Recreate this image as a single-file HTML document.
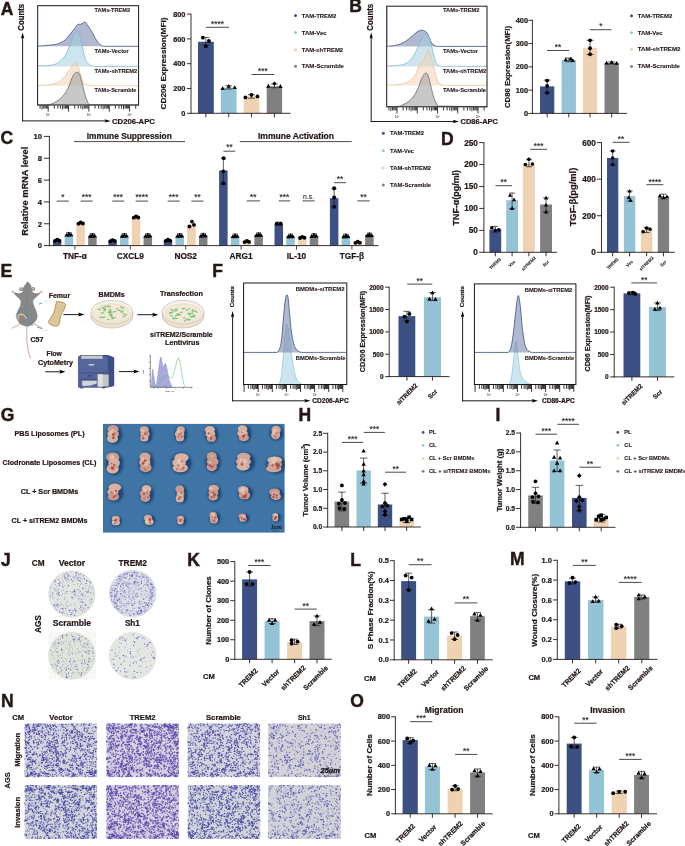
<!DOCTYPE html>
<html lang="en"><head><meta charset="utf-8"><title>Figure</title>
<style>
html,body{margin:0;padding:0;background:#fff}
svg{display:block}
text{font-family:"Liberation Sans",Arial,Helvetica,sans-serif;font-weight:bold;fill:#231815;stroke:#231815;stroke-width:.22px}
text.st{font-weight:normal;stroke-width:.12px}
text.sm{stroke-width:.1px}
text.pl{stroke-width:.45px}
</style></head><body>
<svg width="685" height="846" viewBox="0 0 685 846">
<rect width="685" height="846" fill="#fff"/>
<g id="panelA">
<text x=".7" y="14.86" font-size="17.5" class="pl">A</text>
<rect x="37.6" y="5.7" width="101" height="99.3" fill="#fff"/>
<path d="M38.73 46.12C39.81 46.02 42.84 45.77 45.18 45.55C47.52 45.33 50.56 45.11 52.77 44.79C54.99 44.47 56.41 44.44 58.47 43.65C60.52 42.86 63.05 41.75 65.11 40.05C67.17 38.34 69.22 35.33 70.8 33.4C72.39 31.47 73.49 29.92 74.6 28.47C75.71 27.01 76.34 25.4 77.45 24.67C78.55 23.95 79.98 24.51 81.24 24.1C82.51 23.69 83.93 21.92 85.04 22.21C86.15 22.49 86.78 24.26 87.89 25.81C88.99 27.36 90.26 29.1 91.68 31.51C93.1 33.91 94.84 37.89 96.43 40.24C98.01 42.58 99.59 44.54 101.17 45.55C102.75 46.56 105.12 46.18 105.92 46.31L105.92 46.3L38.73 46.3Z" fill="#6f7fa8" fill-opacity=".55"/>
<path d="M37.6 46.3L38.73 46.12C39.81 46.02 42.84 45.77 45.18 45.55C47.52 45.33 50.56 45.11 52.77 44.79C54.99 44.47 56.41 44.44 58.47 43.65C60.52 42.86 63.05 41.75 65.11 40.05C67.17 38.34 69.22 35.33 70.8 33.4C72.39 31.47 73.49 29.92 74.6 28.47C75.71 27.01 76.34 25.4 77.45 24.67C78.55 23.95 79.98 24.51 81.24 24.1C82.51 23.69 83.93 21.92 85.04 22.21C86.15 22.49 86.78 24.26 87.89 25.81C88.99 27.36 90.26 29.1 91.68 31.51C93.1 33.91 94.84 37.89 96.43 40.24C98.01 42.58 99.59 44.54 101.17 45.55C102.75 46.56 105.12 46.18 105.92 46.31L138.6 46.3" fill="none" stroke="#3c5084" stroke-width=".8" stroke-linejoin="round"/>
<path d="M38.73 65.67C40.44 65.64 46.01 65.83 48.98 65.48C51.95 65.13 54.04 65 56.57 63.58C59.1 62.16 62.26 59.25 64.16 56.94C66.06 54.63 66.53 52.89 67.96 49.72C69.38 46.56 71.28 40.99 72.7 37.96C74.13 34.92 75.33 31.76 76.5 31.51C77.67 31.25 78.62 33.4 79.72 36.44C80.83 39.48 82.1 45.68 83.14 49.72C84.18 53.77 84.72 58.11 85.99 60.73C87.25 63.36 89.15 64.53 90.73 65.48C92.31 66.43 94.69 66.27 95.48 66.43L95.48 66.4L38.73 66.4Z" fill="#a4cfe0" fill-opacity=".55"/>
<path d="M37.6 66.4L38.73 65.67C40.44 65.64 46.01 65.83 48.98 65.48C51.95 65.13 54.04 65 56.57 63.58C59.1 62.16 62.26 59.25 64.16 56.94C66.06 54.63 66.53 52.89 67.96 49.72C69.38 46.56 71.28 40.99 72.7 37.96C74.13 34.92 75.33 31.76 76.5 31.51C77.67 31.25 78.62 33.4 79.72 36.44C80.83 39.48 82.1 45.68 83.14 49.72C84.18 53.77 84.72 58.11 85.99 60.73C87.25 63.36 89.15 64.53 90.73 65.48C92.31 66.43 94.69 66.27 95.48 66.43L138.6 66.4" fill="none" stroke="#7fbad0" stroke-width=".8" stroke-linejoin="round"/>
<path d="M38.73 85.41C40.44 85.31 45.69 85.41 48.98 84.84C52.27 84.27 55.94 83.29 58.47 81.99C61 80.69 62.42 78.98 64.16 77.05C65.9 75.12 67.1 72.78 68.91 70.41C70.71 68.04 73.4 63.29 74.98 62.82C76.56 62.35 77.19 64.75 78.4 67.57C79.6 70.38 80.93 76.9 82.19 79.71C83.46 82.53 84.25 83.44 85.99 84.46C87.73 85.47 91.52 85.56 92.63 85.78L92.63 85.8L38.73 85.8Z" fill="#f3d4b6" fill-opacity=".55"/>
<path d="M37.6 85.8L38.73 85.41C40.44 85.31 45.69 85.41 48.98 84.84C52.27 84.27 55.94 83.29 58.47 81.99C61 80.69 62.42 78.98 64.16 77.05C65.9 75.12 67.1 72.78 68.91 70.41C70.71 68.04 73.4 63.29 74.98 62.82C76.56 62.35 77.19 64.75 78.4 67.57C79.6 70.38 80.93 76.9 82.19 79.71C83.46 82.53 84.25 83.44 85.99 84.46C87.73 85.47 91.52 85.56 92.63 85.78L138.6 85.8" fill="none" stroke="#ecc49c" stroke-width=".8" stroke-linejoin="round"/>
<path d="M48.03 104.95C49.14 104.54 52.3 103.85 54.67 102.49C57.04 101.13 60.05 99.13 62.26 96.79C64.48 94.45 66.22 91.86 67.96 88.44C69.7 85.03 71.44 78.92 72.7 76.3C73.97 73.67 74.51 73.2 75.55 72.69C76.59 72.18 78.02 72.09 78.97 73.26C79.91 74.43 80.23 76.11 81.24 79.71C82.26 83.32 83.77 90.72 85.04 94.89C86.3 99.07 88.2 103.12 88.83 104.76L88.83 105L48.03 105Z" fill="#9a9a9a" fill-opacity=".55"/>
<path d="M37.6 105L48.03 104.95C49.14 104.54 52.3 103.85 54.67 102.49C57.04 101.13 60.05 99.13 62.26 96.79C64.48 94.45 66.22 91.86 67.96 88.44C69.7 85.03 71.44 78.92 72.7 76.3C73.97 73.67 74.51 73.2 75.55 72.69C76.59 72.18 78.02 72.09 78.97 73.26C79.91 74.43 80.23 76.11 81.24 79.71C82.26 83.32 83.77 90.72 85.04 94.89C86.3 99.07 88.2 103.12 88.83 104.76L138.6 105" fill="none" stroke="#6e6e6e" stroke-width=".8" stroke-linejoin="round"/>
<rect x="37.6" y="5.7" width="101" height="99.3" fill="none" stroke="#1c1715" stroke-width="1"/>
<line x1="37.7" y1="6.2" x2="37.7" y2="46.3" stroke="#3c5084" stroke-width=".7"/>
<path d="M40.1 105.4v3.2M42.07 105.4v4M43.69 105.4v3.2M45.05 105.4v3.2M46.23 105.4v3.2M47.27 105.4v3.2M48.2 105.4v6.2M54.33 105.4v3.2M57.91 105.4v3.2M60.45 105.4v3.2M62.42 105.4v4M64.04 105.4v3.2M65.4 105.4v3.2M66.58 105.4v3.2M67.62 105.4v3.2M68.55 105.4v6.2M74.68 105.4v3.2M78.26 105.4v3.2M80.8 105.4v3.2M82.77 105.4v4M84.39 105.4v3.2M85.75 105.4v3.2M86.93 105.4v3.2M87.97 105.4v3.2M88.9 105.4v6.2M95.03 105.4v3.2M98.61 105.4v3.2M101.15 105.4v3.2M103.12 105.4v4M104.74 105.4v3.2M106.1 105.4v3.2M107.28 105.4v3.2M108.32 105.4v3.2M109.25 105.4v6.2M115.38 105.4v3.2M118.96 105.4v3.2M121.5 105.4v3.2M123.47 105.4v4M125.09 105.4v3.2M126.45 105.4v3.2M127.63 105.4v3.2M128.67 105.4v3.2M129.6 105.4v6.2M135.73 105.4v3.2" stroke="#15110f" stroke-width=".85" fill="none"/>
<text x="48.2" y="115.8" font-size="3" text-anchor="middle" style="font-weight:normal;stroke:none">10<tspan dy="-1.1" font-size="2">1</tspan></text>
<text x="88.9" y="115.8" font-size="3" text-anchor="middle" style="font-weight:normal;stroke:none">10<tspan dy="-1.1" font-size="2">3</tspan></text>
<text x="129.6" y="115.8" font-size="3" text-anchor="middle" style="font-weight:normal;stroke:none">10<tspan dy="-1.1" font-size="2">5</tspan></text>
<text x="94.5" y="11.83" font-size="5.4" textLength="35.5" lengthAdjust="spacingAndGlyphs" class="sm">TAMs-TREM2</text>
<text x="94.5" y="53.13" font-size="5.4" textLength="34.2" lengthAdjust="spacingAndGlyphs" class="sm">TAMs-Vector</text>
<text x="94.5" y="73.13" font-size="5.4" textLength="42.7" lengthAdjust="spacingAndGlyphs" class="sm">TAMs-shTREM2</text>
<text x="94.5" y="92.13" font-size="5.4" textLength="41.8" lengthAdjust="spacingAndGlyphs" class="sm">TAMs-Scramble</text>
<text x="21" y="20.19" font-size="8.2" text-anchor="middle" textLength="26.9" lengthAdjust="spacingAndGlyphs" transform="rotate(-90 21 17.25)">Counts</text>
<line x1="22.6" y1="35.5" x2="22.6" y2="121.4" stroke="#231815" stroke-width="1"/>
<line x1="22.1" y1="120.9" x2="107.7" y2="120.9" stroke="#231815" stroke-width="1"/>
<path d="M22.6 32.5l-1.7 6.2l1.7 -1.2l1.7 1.2z"/>
<path d="M110.7 120.9l-6.2 -1.7l1.2 1.7l-1.2 1.7z"/>
<text x="112" y="123.66" font-size="7.7" textLength="42.9" lengthAdjust="spacingAndGlyphs">CD206-APC</text>
<rect x="198" y="41.75" width="15.8" height="71.55" fill="#3c5084"/>
<rect x="220.8" y="87.63" width="15.8" height="25.67" fill="#94c3d6"/>
<rect x="243.6" y="96.56" width="15.7" height="16.74" fill="#eed2b2"/>
<rect x="266.7" y="86.27" width="15.4" height="27.03" fill="#808080"/>
<line x1="191" y1="13.65" x2="191" y2="113.75" stroke="#231815" stroke-width=".9"/>
<line x1="190.55" y1="113.3" x2="290.5" y2="113.3" stroke="#231815" stroke-width=".9"/>
<line x1="187" y1="113.3" x2="191" y2="113.3" stroke="#231815" stroke-width=".9"/>
<text x="185.4" y="115.91" font-size="7.3" text-anchor="end">0</text>
<line x1="187" y1="88.5" x2="191" y2="88.5" stroke="#231815" stroke-width=".9"/>
<text x="185.4" y="91.11" font-size="7.3" text-anchor="end">200</text>
<line x1="187" y1="63.7" x2="191" y2="63.7" stroke="#231815" stroke-width=".9"/>
<text x="185.4" y="66.31" font-size="7.3" text-anchor="end">400</text>
<line x1="187" y1="38.9" x2="191" y2="38.9" stroke="#231815" stroke-width=".9"/>
<text x="185.4" y="41.51" font-size="7.3" text-anchor="end">600</text>
<line x1="187" y1="14.1" x2="191" y2="14.1" stroke="#231815" stroke-width=".9"/>
<text x="185.4" y="16.71" font-size="7.3" text-anchor="end">800</text>
<line x1="205.9" y1="113.3" x2="205.9" y2="117.3" stroke="#231815" stroke-width=".9"/>
<line x1="205.9" y1="45.35" x2="205.9" y2="37.41" stroke="#231815" stroke-width=".7"/>
<line x1="202.4" y1="45.35" x2="209.4" y2="45.35" stroke="#231815" stroke-width=".7"/>
<line x1="202.4" y1="37.41" x2="209.4" y2="37.41" stroke="#231815" stroke-width=".7"/>
<circle cx="202.9" cy="37.66" r="1.9"/>
<circle cx="208.9" cy="41.01" r="1.9"/>
<circle cx="205.9" cy="46.22" r="1.9"/>
<line x1="228.7" y1="113.3" x2="228.7" y2="117.3" stroke="#231815" stroke-width=".9"/>
<line x1="228.7" y1="89" x2="228.7" y2="85.77" stroke="#231815" stroke-width=".7"/>
<line x1="225.2" y1="89" x2="232.2" y2="89" stroke="#231815" stroke-width=".7"/>
<line x1="225.2" y1="85.77" x2="232.2" y2="85.77" stroke="#231815" stroke-width=".7"/>
<path d="M222.7 86.31l2.18 3.8h-4.37z"/>
<path d="M228.7 83.96l2.18 3.8h-4.37z"/>
<path d="M234.7 85.32l2.18 3.8h-4.37z"/>
<line x1="251.45" y1="113.3" x2="251.45" y2="117.3" stroke="#231815" stroke-width=".9"/>
<line x1="251.45" y1="98.17" x2="251.45" y2="94.7" stroke="#231815" stroke-width=".7"/>
<line x1="247.95" y1="98.17" x2="254.95" y2="98.17" stroke="#231815" stroke-width=".7"/>
<line x1="247.95" y1="94.7" x2="254.95" y2="94.7" stroke="#231815" stroke-width=".7"/>
<circle cx="245.45" cy="97.43" r="1.9"/>
<circle cx="251.45" cy="94.95" r="1.9"/>
<circle cx="257.45" cy="96.44" r="1.9"/>
<line x1="274.4" y1="113.3" x2="274.4" y2="117.3" stroke="#231815" stroke-width=".9"/>
<line x1="274.4" y1="87.76" x2="274.4" y2="84.04" stroke="#231815" stroke-width=".7"/>
<line x1="270.9" y1="87.76" x2="277.9" y2="87.76" stroke="#231815" stroke-width=".7"/>
<line x1="270.9" y1="84.04" x2="277.9" y2="84.04" stroke="#231815" stroke-width=".7"/>
<path d="M268.4 83.83l2.18 3.8h-4.37z"/>
<path d="M280.4 84.08l2.18 3.8h-4.37z"/>
<text x="163.4" y="66.36" font-size="8" text-anchor="middle" textLength="92" lengthAdjust="spacingAndGlyphs" transform="rotate(-90 163.4 63.5)">CD206 Expression(MFI)</text>
<path d="M274.4 81.41l2.12 2.12l-2.12 2.12l-2.12 -2.12z"/>
<line x1="206" y1="27.3" x2="229" y2="27.3" stroke="#231815" stroke-width=".8"/>
<text x="217.5" y="26.76" font-size="8.3" text-anchor="middle" class="st">****</text>
<line x1="251.6" y1="74.5" x2="274.3" y2="74.5" stroke="#231815" stroke-width=".8"/>
<text x="262.95" y="73.96" font-size="8.3" text-anchor="middle" class="st">***</text>
<circle cx="295.5" cy="15.5" r="1.5" fill="#3c5084"/>
<text x="301.7" y="17.5" font-size="5.6" textLength="34.7" lengthAdjust="spacingAndGlyphs" class="sm">TAM-TREM2</text>
<circle cx="295.5" cy="32.6" r="1.5" fill="#94c3d6"/>
<text x="301.7" y="34.6" font-size="5.6" textLength="25" lengthAdjust="spacingAndGlyphs" class="sm">TAM-Vec</text>
<circle cx="295.5" cy="49.7" r="1.5" fill="#eed2b2"/>
<text x="301.7" y="51.7" font-size="5.6" textLength="41.5" lengthAdjust="spacingAndGlyphs" class="sm">TAM-shTREM2</text>
<circle cx="295.5" cy="66.3" r="1.5" fill="#808080"/>
<text x="301.7" y="68.3" font-size="5.6" textLength="42.3" lengthAdjust="spacingAndGlyphs" class="sm">TAM-Scramble</text>
</g>
<g id="panelB">
<text x="349.2" y="12.46" font-size="17.5" class="pl">B</text>
<rect x="386.7" y="6.2" width="100.3" height="100.6" fill="#fff"/>
<path d="M388.43 46.18C389.6 46.06 393.01 45.97 395.42 45.43C397.83 44.89 400.62 44.06 402.91 42.94C405.2 41.81 407.28 40.11 409.15 38.69C411.02 37.28 412.69 35.65 414.14 34.45C415.6 33.24 416.51 32.16 417.89 31.45C419.26 30.75 420.92 30.04 422.38 30.2C423.84 30.37 425.5 31.24 426.62 32.45C427.75 33.66 428.29 35.7 429.12 37.44C429.95 39.19 430.58 41.52 431.62 42.94C432.66 44.35 433.91 45.35 435.36 45.93C436.82 46.51 439.52 46.35 440.35 46.43L440.35 46.4L388.43 46.4Z" fill="#6f7fa8" fill-opacity=".55"/>
<path d="M386.7 46.4L388.43 46.18C389.6 46.06 393.01 45.97 395.42 45.43C397.83 44.89 400.62 44.06 402.91 42.94C405.2 41.81 407.28 40.11 409.15 38.69C411.02 37.28 412.69 35.65 414.14 34.45C415.6 33.24 416.51 32.16 417.89 31.45C419.26 30.75 420.92 30.04 422.38 30.2C423.84 30.37 425.5 31.24 426.62 32.45C427.75 33.66 428.29 35.7 429.12 37.44C429.95 39.19 430.58 41.52 431.62 42.94C432.66 44.35 433.91 45.35 435.36 45.93C436.82 46.51 439.52 46.35 440.35 46.43L487 46.4" fill="none" stroke="#3c5084" stroke-width=".8" stroke-linejoin="round"/>
<path d="M388.43 65.9C390.01 65.82 395.09 65.78 397.92 65.4C400.75 65.03 403.12 64.78 405.41 63.65C407.69 62.53 409.77 60.95 411.65 58.66C413.52 56.37 415.18 52.84 416.64 49.93C418.1 47.01 419.14 43.68 420.38 41.19C421.63 38.69 423 36.07 424.13 34.95C425.25 33.82 426.08 33.41 427.12 34.45C428.16 35.49 429.33 37.98 430.37 41.19C431.41 44.39 432.32 49.93 433.36 53.67C434.4 57.41 435.24 61.53 436.61 63.65C437.98 65.78 440.77 65.94 441.6 66.4L441.6 66.4L388.43 66.4Z" fill="#a4cfe0" fill-opacity=".55"/>
<path d="M386.7 66.4L388.43 65.9C390.01 65.82 395.09 65.78 397.92 65.4C400.75 65.03 403.12 64.78 405.41 63.65C407.69 62.53 409.77 60.95 411.65 58.66C413.52 56.37 415.18 52.84 416.64 49.93C418.1 47.01 419.14 43.68 420.38 41.19C421.63 38.69 423 36.07 424.13 34.95C425.25 33.82 426.08 33.41 427.12 34.45C428.16 35.49 429.33 37.98 430.37 41.19C431.41 44.39 432.32 49.93 433.36 53.67C434.4 57.41 435.24 61.53 436.61 63.65C437.98 65.78 440.77 65.94 441.6 66.4L487 66.4" fill="none" stroke="#7fbad0" stroke-width=".8" stroke-linejoin="round"/>
<path d="M388.43 85.12C390.43 85 396.96 85.04 400.41 84.37C403.87 83.71 406.65 82.71 409.15 81.13C411.65 79.55 413.73 77.59 415.39 74.89C417.06 72.18 417.8 67.4 419.14 64.9C420.47 62.41 422.13 61.78 423.38 59.91C424.63 58.04 425.79 55.42 426.62 53.67C427.46 51.92 427.66 49.01 428.37 49.43C429.08 49.84 429.91 52.96 430.87 56.17C431.83 59.37 432.95 64.49 434.11 68.65C435.28 72.81 436.4 78.34 437.86 81.13C439.31 83.92 442.02 84.66 442.85 85.37L442.85 85.4L388.43 85.4Z" fill="#f3d4b6" fill-opacity=".55"/>
<path d="M386.7 85.4L388.43 85.12C390.43 85 396.96 85.04 400.41 84.37C403.87 83.71 406.65 82.71 409.15 81.13C411.65 79.55 413.73 77.59 415.39 74.89C417.06 72.18 417.8 67.4 419.14 64.9C420.47 62.41 422.13 61.78 423.38 59.91C424.63 58.04 425.79 55.42 426.62 53.67C427.46 51.92 427.66 49.01 428.37 49.43C429.08 49.84 429.91 52.96 430.87 56.17C431.83 59.37 432.95 64.49 434.11 68.65C435.28 72.81 436.4 78.34 437.86 81.13C439.31 83.92 442.02 84.66 442.85 85.37L487 85.4" fill="none" stroke="#ecc49c" stroke-width=".8" stroke-linejoin="round"/>
<path d="M399.17 106.34C400.41 105.76 404.37 104.34 406.65 102.85C408.94 101.35 411.02 99.73 412.9 97.35C414.77 94.98 416.43 91.74 417.89 88.62C419.34 85.5 420.38 81.21 421.63 78.63C422.88 76.05 424.25 73.56 425.38 73.14C426.5 72.72 427.46 73.97 428.37 76.14C429.29 78.3 429.91 82.38 430.87 86.12C431.83 89.87 432.95 95.27 434.11 98.6C435.28 101.93 437.23 104.84 437.86 106.09L437.86 106.8L399.17 106.8Z" fill="#9a9a9a" fill-opacity=".55"/>
<path d="M386.7 106.8L399.17 106.34C400.41 105.76 404.37 104.34 406.65 102.85C408.94 101.35 411.02 99.73 412.9 97.35C414.77 94.98 416.43 91.74 417.89 88.62C419.34 85.5 420.38 81.21 421.63 78.63C422.88 76.05 424.25 73.56 425.38 73.14C426.5 72.72 427.46 73.97 428.37 76.14C429.29 78.3 429.91 82.38 430.87 86.12C431.83 89.87 432.95 95.27 434.11 98.6C435.28 101.93 437.23 104.84 437.86 106.09L487 106.8" fill="none" stroke="#6e6e6e" stroke-width=".8" stroke-linejoin="round"/>
<rect x="386.7" y="6.2" width="100.3" height="100.6" fill="none" stroke="#1c1715" stroke-width="1"/>
<line x1="386.8" y1="6.7" x2="386.8" y2="46.4" stroke="#3c5084" stroke-width=".7"/>
<path d="M388.94 107.2v3.2M390.9 107.2v4M392.51 107.2v3.2M393.86 107.2v3.2M395.04 107.2v3.2M396.07 107.2v3.2M397 107.2v6.2M403.1 107.2v3.2M406.66 107.2v3.2M409.19 107.2v3.2M411.15 107.2v4M412.76 107.2v3.2M414.11 107.2v3.2M415.29 107.2v3.2M416.32 107.2v3.2M417.25 107.2v6.2M423.35 107.2v3.2M426.91 107.2v3.2M429.44 107.2v3.2M431.4 107.2v4M433.01 107.2v3.2M434.36 107.2v3.2M435.54 107.2v3.2M436.57 107.2v3.2M437.5 107.2v6.2M443.6 107.2v3.2M447.16 107.2v3.2M449.69 107.2v3.2M451.65 107.2v4M453.26 107.2v3.2M454.61 107.2v3.2M455.79 107.2v3.2M456.82 107.2v3.2M457.75 107.2v6.2M463.85 107.2v3.2M467.41 107.2v3.2M469.94 107.2v3.2M471.9 107.2v4M473.51 107.2v3.2M474.86 107.2v3.2M476.04 107.2v3.2M477.07 107.2v3.2M478 107.2v6.2M484.1 107.2v3.2" stroke="#15110f" stroke-width=".85" fill="none"/>
<text x="397" y="117.6" font-size="3" text-anchor="middle" style="font-weight:normal;stroke:none">10<tspan dy="-1.1" font-size="2">1</tspan></text>
<text x="437.5" y="117.6" font-size="3" text-anchor="middle" style="font-weight:normal;stroke:none">10<tspan dy="-1.1" font-size="2">3</tspan></text>
<text x="478" y="117.6" font-size="3" text-anchor="middle" style="font-weight:normal;stroke:none">10<tspan dy="-1.1" font-size="2">5</tspan></text>
<text x="443" y="12.33" font-size="5.4" textLength="36.5" lengthAdjust="spacingAndGlyphs" class="sm">TAMs-TREM2</text>
<text x="443" y="53.13" font-size="5.4" textLength="35" lengthAdjust="spacingAndGlyphs" class="sm">TAMs-Vector</text>
<text x="443" y="72.93" font-size="5.4" textLength="43.3" lengthAdjust="spacingAndGlyphs" class="sm">TAMs-shTREM2</text>
<text x="443" y="91.93" font-size="5.4" textLength="43" lengthAdjust="spacingAndGlyphs" class="sm">TAMs-Scramble</text>
<text x="369.6" y="20.19" font-size="8.2" text-anchor="middle" textLength="26.9" lengthAdjust="spacingAndGlyphs" transform="rotate(-90 369.6 17.25)">Counts</text>
<line x1="371.2" y1="35.5" x2="371.2" y2="122" stroke="#231815" stroke-width="1"/>
<line x1="370.7" y1="121.5" x2="456" y2="121.5" stroke="#231815" stroke-width="1"/>
<path d="M371.2 32.5l-1.7 6.2l1.7 -1.2l1.7 1.2z"/>
<path d="M459 121.5l-6.2 -1.7l1.2 1.7l-1.2 1.7z"/>
<text x="460.5" y="124.06" font-size="7.7" textLength="37.5" lengthAdjust="spacingAndGlyphs">CD86-APC</text>
<rect x="540" y="86.4" width="14.3" height="27" fill="#3c5084"/>
<rect x="561.6" y="59.87" width="14.3" height="53.53" fill="#94c3d6"/>
<rect x="582.9" y="47.76" width="14.3" height="65.64" fill="#eed2b2"/>
<rect x="604.5" y="63.13" width="14.3" height="50.27" fill="#808080"/>
<line x1="532.4" y1="19.85" x2="532.4" y2="113.85" stroke="#231815" stroke-width=".9"/>
<line x1="531.95" y1="113.4" x2="627" y2="113.4" stroke="#231815" stroke-width=".9"/>
<line x1="528.4" y1="113.4" x2="532.4" y2="113.4" stroke="#231815" stroke-width=".9"/>
<text x="528" y="116.01" font-size="7.3" text-anchor="end">0</text>
<line x1="528.4" y1="90.12" x2="532.4" y2="90.12" stroke="#231815" stroke-width=".9"/>
<text x="528" y="92.74" font-size="7.3" text-anchor="end">100</text>
<line x1="528.4" y1="66.85" x2="532.4" y2="66.85" stroke="#231815" stroke-width=".9"/>
<text x="528" y="69.46" font-size="7.3" text-anchor="end">200</text>
<line x1="528.4" y1="43.58" x2="532.4" y2="43.58" stroke="#231815" stroke-width=".9"/>
<text x="528" y="46.19" font-size="7.3" text-anchor="end">300</text>
<line x1="528.4" y1="20.3" x2="532.4" y2="20.3" stroke="#231815" stroke-width=".9"/>
<text x="528" y="22.91" font-size="7.3" text-anchor="end">400</text>
<line x1="547.15" y1="113.4" x2="547.15" y2="117.4" stroke="#231815" stroke-width=".9"/>
<line x1="547.15" y1="92.92" x2="547.15" y2="80.12" stroke="#231815" stroke-width=".7"/>
<line x1="543.65" y1="92.92" x2="550.65" y2="92.92" stroke="#231815" stroke-width=".7"/>
<line x1="543.65" y1="80.12" x2="550.65" y2="80.12" stroke="#231815" stroke-width=".7"/>
<circle cx="547.15" cy="80.58" r="1.9"/>
<circle cx="547.15" cy="85.94" r="1.9"/>
<circle cx="547.15" cy="92.69" r="1.9"/>
<line x1="568.75" y1="113.4" x2="568.75" y2="117.4" stroke="#231815" stroke-width=".9"/>
<line x1="568.75" y1="61.73" x2="568.75" y2="58.01" stroke="#231815" stroke-width=".7"/>
<line x1="565.25" y1="61.73" x2="572.25" y2="61.73" stroke="#231815" stroke-width=".7"/>
<line x1="565.25" y1="58.01" x2="572.25" y2="58.01" stroke="#231815" stroke-width=".7"/>
<path d="M565.75 57.45l2.18 3.8h-4.37z"/>
<path d="M570.75 56.75l2.18 3.8h-4.37z"/>
<path d="M572.75 58.15l2.18 3.8h-4.37z"/>
<line x1="590.05" y1="113.4" x2="590.05" y2="117.4" stroke="#231815" stroke-width=".9"/>
<line x1="590.05" y1="54.51" x2="590.05" y2="40.32" stroke="#231815" stroke-width=".7"/>
<line x1="586.55" y1="54.51" x2="593.55" y2="54.51" stroke="#231815" stroke-width=".7"/>
<line x1="586.55" y1="40.32" x2="593.55" y2="40.32" stroke="#231815" stroke-width=".7"/>
<circle cx="590.05" cy="40.32" r="1.9"/>
<circle cx="590.05" cy="48.23" r="1.9"/>
<circle cx="590.05" cy="54.28" r="1.9"/>
<line x1="611.65" y1="113.4" x2="611.65" y2="117.4" stroke="#231815" stroke-width=".9"/>
<line x1="611.65" y1="64.06" x2="611.65" y2="61.96" stroke="#231815" stroke-width=".7"/>
<line x1="608.15" y1="64.06" x2="615.15" y2="64.06" stroke="#231815" stroke-width=".7"/>
<line x1="608.15" y1="61.96" x2="615.15" y2="61.96" stroke="#231815" stroke-width=".7"/>
<path d="M606.65 60.71l2.18 3.8h-4.37z"/>
<path d="M611.65 60.01l2.18 3.8h-4.37z"/>
<path d="M616.65 60.94l2.18 3.8h-4.37z"/>
<text x="507.5" y="69.86" font-size="8" text-anchor="middle" textLength="82" lengthAdjust="spacingAndGlyphs" transform="rotate(-90 507.5 67)">CD86 Expression(MFI)</text>
<line x1="547" y1="50.5" x2="569.1" y2="50.5" stroke="#231815" stroke-width=".8"/>
<text x="558.05" y="49.96" font-size="8.3" text-anchor="middle" class="st">**</text>
<line x1="590" y1="29.7" x2="611.5" y2="29.7" stroke="#231815" stroke-width=".8"/>
<text x="600.75" y="29.16" font-size="8.3" text-anchor="middle" class="st">*</text>
<circle cx="631.5" cy="15.7" r="1.5" fill="#3c5084"/>
<text x="637.7" y="17.7" font-size="5.6" textLength="34.7" lengthAdjust="spacingAndGlyphs" class="sm">TAM-TREM2</text>
<circle cx="631.5" cy="32.7" r="1.5" fill="#94c3d6"/>
<text x="637.7" y="34.7" font-size="5.6" textLength="25" lengthAdjust="spacingAndGlyphs" class="sm">TAM-Vec</text>
<circle cx="631.5" cy="49.4" r="1.5" fill="#eed2b2"/>
<text x="637.7" y="51.4" font-size="5.6" textLength="42.7" lengthAdjust="spacingAndGlyphs" class="sm">TAM-shTREM2</text>
<circle cx="631.5" cy="66.4" r="1.5" fill="#808080"/>
<text x="637.7" y="68.4" font-size="5.6" textLength="42.3" lengthAdjust="spacingAndGlyphs" class="sm">TAM-Scramble</text>
</g>
<g id="panelC">
<text x=".4" y="144.06" font-size="17.5" class="pl">C</text>
<rect x="52.9" y="240.69" width="8.5" height="4.91" fill="#3c5084"/>
<rect x="64.65" y="234.68" width="8.5" height="10.92" fill="#94c3d6"/>
<rect x="76.4" y="223.43" width="8.5" height="22.17" fill="#eed2b2"/>
<rect x="88.15" y="235.77" width="8.5" height="9.83" fill="#808080"/>
<rect x="108.3" y="241.01" width="8.5" height="4.59" fill="#3c5084"/>
<rect x="120.05" y="235.77" width="8.5" height="9.83" fill="#94c3d6"/>
<rect x="131.8" y="217.43" width="8.5" height="28.17" fill="#eed2b2"/>
<rect x="143.55" y="235.77" width="8.5" height="9.83" fill="#808080"/>
<rect x="163.7" y="240.69" width="8.5" height="4.91" fill="#3c5084"/>
<rect x="175.45" y="235.77" width="8.5" height="9.83" fill="#94c3d6"/>
<rect x="187.2" y="224.85" width="8.5" height="20.75" fill="#eed2b2"/>
<rect x="198.95" y="235.55" width="8.5" height="10.05" fill="#808080"/>
<rect x="219.1" y="170.47" width="8.5" height="75.13" fill="#3c5084"/>
<rect x="230.85" y="236.21" width="8.5" height="9.39" fill="#94c3d6"/>
<rect x="242.6" y="241.89" width="8.5" height="3.71" fill="#eed2b2"/>
<rect x="254.35" y="235.01" width="8.5" height="10.59" fill="#808080"/>
<rect x="274.5" y="223.76" width="8.5" height="21.84" fill="#3c5084"/>
<rect x="286.25" y="236.32" width="8.5" height="9.28" fill="#94c3d6"/>
<rect x="298" y="237.74" width="8.5" height="7.86" fill="#eed2b2"/>
<rect x="309.75" y="235.77" width="8.5" height="9.83" fill="#808080"/>
<rect x="329.9" y="198.21" width="8.5" height="47.39" fill="#3c5084"/>
<rect x="341.65" y="236.32" width="8.5" height="9.28" fill="#94c3d6"/>
<rect x="353.4" y="242.65" width="8.5" height="2.95" fill="#eed2b2"/>
<rect x="365.15" y="235.23" width="8.5" height="10.37" fill="#808080"/>
<line x1="49.4" y1="135.95" x2="49.4" y2="246.05" stroke="#231815" stroke-width=".9"/>
<line x1="48.95" y1="245.6" x2="378.5" y2="245.6" stroke="#231815" stroke-width=".9"/>
<line x1="43.9" y1="245.6" x2="49.4" y2="245.6" stroke="#231815" stroke-width=".9"/>
<text x="42.1" y="248.36" font-size="7.7" text-anchor="end">0</text>
<line x1="43.9" y1="223.76" x2="49.4" y2="223.76" stroke="#231815" stroke-width=".9"/>
<text x="42.1" y="226.52" font-size="7.7" text-anchor="end">2</text>
<line x1="43.9" y1="201.92" x2="49.4" y2="201.92" stroke="#231815" stroke-width=".9"/>
<text x="42.1" y="204.68" font-size="7.7" text-anchor="end">4</text>
<line x1="43.9" y1="180.08" x2="49.4" y2="180.08" stroke="#231815" stroke-width=".9"/>
<text x="42.1" y="182.84" font-size="7.7" text-anchor="end">6</text>
<line x1="43.9" y1="158.24" x2="49.4" y2="158.24" stroke="#231815" stroke-width=".9"/>
<text x="42.1" y="161" font-size="7.7" text-anchor="end">8</text>
<line x1="43.9" y1="136.4" x2="49.4" y2="136.4" stroke="#231815" stroke-width=".9"/>
<text x="42.1" y="139.16" font-size="7.7" text-anchor="end">10</text>
<circle cx="54.95" cy="240.9" r="1.95"/>
<circle cx="57.15" cy="239.81" r="1.95"/>
<circle cx="59.35" cy="240.69" r="1.95"/>
<line x1="68.9" y1="236.32" x2="68.9" y2="232.5" stroke="#231815" stroke-width=".7"/>
<line x1="66.4" y1="236.32" x2="71.4" y2="236.32" stroke="#231815" stroke-width=".7"/>
<line x1="66.4" y1="232.5" x2="71.4" y2="232.5" stroke="#231815" stroke-width=".7"/>
<path d="M66.7 232.66l2.24 3.9h-4.48z"/>
<path d="M68.9 231.56l2.24 3.9h-4.48z"/>
<path d="M71.1 232.44l2.24 3.9h-4.48z"/>
<circle cx="78.45" cy="223.65" r="1.95"/>
<circle cx="80.65" cy="222.56" r="1.95"/>
<circle cx="82.85" cy="223.43" r="1.95"/>
<line x1="92.4" y1="237.41" x2="92.4" y2="233.59" stroke="#231815" stroke-width=".7"/>
<line x1="89.9" y1="237.41" x2="94.9" y2="237.41" stroke="#231815" stroke-width=".7"/>
<line x1="89.9" y1="233.59" x2="94.9" y2="233.59" stroke="#231815" stroke-width=".7"/>
<path d="M90.2 233.75l2.24 3.9h-4.48z"/>
<path d="M92.4 232.66l2.24 3.9h-4.48z"/>
<path d="M94.6 233.53l2.24 3.9h-4.48z"/>
<circle cx="110.35" cy="241.23" r="1.95"/>
<circle cx="112.55" cy="240.14" r="1.95"/>
<circle cx="114.75" cy="241.01" r="1.95"/>
<line x1="124.3" y1="237.41" x2="124.3" y2="233.59" stroke="#231815" stroke-width=".7"/>
<line x1="121.8" y1="237.41" x2="126.8" y2="237.41" stroke="#231815" stroke-width=".7"/>
<line x1="121.8" y1="233.59" x2="126.8" y2="233.59" stroke="#231815" stroke-width=".7"/>
<path d="M122.1 233.75l2.24 3.9h-4.48z"/>
<path d="M124.3 232.66l2.24 3.9h-4.48z"/>
<path d="M126.5 233.53l2.24 3.9h-4.48z"/>
<circle cx="133.85" cy="217.64" r="1.95"/>
<circle cx="136.05" cy="216.55" r="1.95"/>
<circle cx="138.25" cy="217.43" r="1.95"/>
<line x1="147.8" y1="237.41" x2="147.8" y2="233.59" stroke="#231815" stroke-width=".7"/>
<line x1="145.3" y1="237.41" x2="150.3" y2="237.41" stroke="#231815" stroke-width=".7"/>
<line x1="145.3" y1="233.59" x2="150.3" y2="233.59" stroke="#231815" stroke-width=".7"/>
<path d="M145.6 233.75l2.24 3.9h-4.48z"/>
<path d="M147.8 232.66l2.24 3.9h-4.48z"/>
<path d="M150 233.53l2.24 3.9h-4.48z"/>
<circle cx="165.75" cy="240.9" r="1.95"/>
<circle cx="167.95" cy="239.81" r="1.95"/>
<circle cx="170.15" cy="240.69" r="1.95"/>
<line x1="179.7" y1="237.41" x2="179.7" y2="233.59" stroke="#231815" stroke-width=".7"/>
<line x1="177.2" y1="237.41" x2="182.2" y2="237.41" stroke="#231815" stroke-width=".7"/>
<line x1="177.2" y1="233.59" x2="182.2" y2="233.59" stroke="#231815" stroke-width=".7"/>
<path d="M177.5 233.75l2.24 3.9h-4.48z"/>
<path d="M179.7 232.66l2.24 3.9h-4.48z"/>
<path d="M181.9 233.53l2.24 3.9h-4.48z"/>
<circle cx="189.45" cy="226.49" r="1.95"/>
<circle cx="191.95" cy="221.58" r="1.95"/>
<circle cx="193.95" cy="224.85" r="1.95"/>
<line x1="203.2" y1="237.19" x2="203.2" y2="233.37" stroke="#231815" stroke-width=".7"/>
<line x1="200.7" y1="237.19" x2="205.7" y2="237.19" stroke="#231815" stroke-width=".7"/>
<line x1="200.7" y1="233.37" x2="205.7" y2="233.37" stroke="#231815" stroke-width=".7"/>
<path d="M201 233.53l2.24 3.9h-4.48z"/>
<path d="M203.2 232.44l2.24 3.9h-4.48z"/>
<path d="M205.4 233.31l2.24 3.9h-4.48z"/>
<line x1="223.35" y1="184.45" x2="223.35" y2="158.24" stroke="#231815" stroke-width=".7"/>
<line x1="220.85" y1="184.45" x2="225.85" y2="184.45" stroke="#231815" stroke-width=".7"/>
<line x1="220.85" y1="158.24" x2="225.85" y2="158.24" stroke="#231815" stroke-width=".7"/>
<circle cx="223.65" cy="158.24" r="1.95"/>
<circle cx="223.35" cy="171.34" r="1.95"/>
<circle cx="223.35" cy="183.36" r="1.95"/>
<line x1="235.1" y1="237.85" x2="235.1" y2="234.02" stroke="#231815" stroke-width=".7"/>
<line x1="232.6" y1="237.85" x2="237.6" y2="237.85" stroke="#231815" stroke-width=".7"/>
<line x1="232.6" y1="234.02" x2="237.6" y2="234.02" stroke="#231815" stroke-width=".7"/>
<path d="M232.9 234.18l2.24 3.9h-4.48z"/>
<path d="M235.1 233.09l2.24 3.9h-4.48z"/>
<path d="M237.3 233.97l2.24 3.9h-4.48z"/>
<circle cx="244.65" cy="242.11" r="1.95"/>
<circle cx="246.85" cy="241.01" r="1.95"/>
<circle cx="249.05" cy="241.89" r="1.95"/>
<line x1="258.6" y1="236.65" x2="258.6" y2="232.82" stroke="#231815" stroke-width=".7"/>
<line x1="256.1" y1="236.65" x2="261.1" y2="236.65" stroke="#231815" stroke-width=".7"/>
<line x1="256.1" y1="232.82" x2="261.1" y2="232.82" stroke="#231815" stroke-width=".7"/>
<path d="M256.4 232.98l2.24 3.9h-4.48z"/>
<path d="M258.6 231.89l2.24 3.9h-4.48z"/>
<path d="M260.8 232.77l2.24 3.9h-4.48z"/>
<line x1="278.75" y1="225.4" x2="278.75" y2="222.12" stroke="#231815" stroke-width=".7"/>
<line x1="276.25" y1="225.4" x2="281.25" y2="225.4" stroke="#231815" stroke-width=".7"/>
<line x1="276.25" y1="222.12" x2="281.25" y2="222.12" stroke="#231815" stroke-width=".7"/>
<circle cx="276.75" cy="223.76" r="1.95"/>
<circle cx="280.75" cy="223.76" r="1.95"/>
<line x1="290.5" y1="237.96" x2="290.5" y2="234.13" stroke="#231815" stroke-width=".7"/>
<line x1="288" y1="237.96" x2="293" y2="237.96" stroke="#231815" stroke-width=".7"/>
<line x1="288" y1="234.13" x2="293" y2="234.13" stroke="#231815" stroke-width=".7"/>
<path d="M288.3 234.29l2.24 3.9h-4.48z"/>
<path d="M290.5 233.2l2.24 3.9h-4.48z"/>
<path d="M292.7 234.08l2.24 3.9h-4.48z"/>
<circle cx="300.05" cy="237.96" r="1.95"/>
<circle cx="302.25" cy="236.86" r="1.95"/>
<circle cx="304.45" cy="237.74" r="1.95"/>
<line x1="314" y1="237.41" x2="314" y2="233.59" stroke="#231815" stroke-width=".7"/>
<line x1="311.5" y1="237.41" x2="316.5" y2="237.41" stroke="#231815" stroke-width=".7"/>
<line x1="311.5" y1="233.59" x2="316.5" y2="233.59" stroke="#231815" stroke-width=".7"/>
<path d="M311.8 233.75l2.24 3.9h-4.48z"/>
<path d="M314 232.66l2.24 3.9h-4.48z"/>
<path d="M316.2 233.53l2.24 3.9h-4.48z"/>
<line x1="334.15" y1="206.29" x2="334.15" y2="188.82" stroke="#231815" stroke-width=".7"/>
<line x1="331.65" y1="206.29" x2="336.65" y2="206.29" stroke="#231815" stroke-width=".7"/>
<line x1="331.65" y1="188.82" x2="336.65" y2="188.82" stroke="#231815" stroke-width=".7"/>
<circle cx="334.15" cy="188.27" r="1.95"/>
<circle cx="334.15" cy="197.55" r="1.95"/>
<circle cx="334.15" cy="206.83" r="1.95"/>
<line x1="345.9" y1="237.96" x2="345.9" y2="234.13" stroke="#231815" stroke-width=".7"/>
<line x1="343.4" y1="237.96" x2="348.4" y2="237.96" stroke="#231815" stroke-width=".7"/>
<line x1="343.4" y1="234.13" x2="348.4" y2="234.13" stroke="#231815" stroke-width=".7"/>
<path d="M343.7 234.29l2.24 3.9h-4.48z"/>
<path d="M345.9 233.2l2.24 3.9h-4.48z"/>
<path d="M348.1 234.08l2.24 3.9h-4.48z"/>
<circle cx="355.45" cy="242.87" r="1.95"/>
<circle cx="357.65" cy="241.78" r="1.95"/>
<circle cx="359.85" cy="242.65" r="1.95"/>
<line x1="369.4" y1="236.86" x2="369.4" y2="233.04" stroke="#231815" stroke-width=".7"/>
<line x1="366.9" y1="236.86" x2="371.9" y2="236.86" stroke="#231815" stroke-width=".7"/>
<line x1="366.9" y1="233.04" x2="371.9" y2="233.04" stroke="#231815" stroke-width=".7"/>
<path d="M367.2 233.2l2.24 3.9h-4.48z"/>
<path d="M369.4 232.11l2.24 3.9h-4.48z"/>
<path d="M371.6 232.98l2.24 3.9h-4.48z"/>
<text x="24.6" y="194.52" font-size="9" text-anchor="middle" textLength="89" lengthAdjust="spacingAndGlyphs" transform="rotate(-90 24.6 191.3)">Relative mRNA level</text>
<line x1="74.9" y1="245.6" x2="74.9" y2="249.6" stroke="#231815" stroke-width=".8"/>
<text x="74.9" y="259.27" font-size="8.3" text-anchor="middle">TNF-α</text>
<line x1="130.3" y1="245.6" x2="130.3" y2="249.6" stroke="#231815" stroke-width=".8"/>
<text x="130.3" y="259.27" font-size="8.3" text-anchor="middle">CXCL9</text>
<line x1="185.7" y1="245.6" x2="185.7" y2="249.6" stroke="#231815" stroke-width=".8"/>
<text x="185.7" y="259.27" font-size="8.3" text-anchor="middle">NOS2</text>
<line x1="241.1" y1="245.6" x2="241.1" y2="249.6" stroke="#231815" stroke-width=".8"/>
<text x="241.1" y="259.27" font-size="8.3" text-anchor="middle">ARG1</text>
<line x1="296.5" y1="245.6" x2="296.5" y2="249.6" stroke="#231815" stroke-width=".8"/>
<text x="296.5" y="259.27" font-size="8.3" text-anchor="middle">IL-10</text>
<line x1="351.9" y1="245.6" x2="351.9" y2="249.6" stroke="#231815" stroke-width=".8"/>
<text x="351.9" y="259.27" font-size="8.3" text-anchor="middle">TGF-β</text>
<text x="129.3" y="138.61" font-size="8.4" text-anchor="middle" textLength="85" lengthAdjust="spacingAndGlyphs">Immune Suppression</text>
<line x1="73.9" y1="141.6" x2="185" y2="141.6" stroke="#231815" stroke-width=".8"/>
<text x="296" y="138.61" font-size="8.4" text-anchor="middle" textLength="76" lengthAdjust="spacingAndGlyphs">Immune Activation</text>
<line x1="239.8" y1="141.6" x2="351.8" y2="141.6" stroke="#231815" stroke-width=".8"/>
<line x1="56.7" y1="201.1" x2="68.8" y2="201.1" stroke="#231815" stroke-width=".8"/>
<text x="62.75" y="200.36" font-size="8.3" text-anchor="middle" class="st">*</text>
<line x1="80.6" y1="201.1" x2="92.7" y2="201.1" stroke="#231815" stroke-width=".8"/>
<text x="86.65" y="200.36" font-size="8.3" text-anchor="middle" class="st">***</text>
<line x1="112.2" y1="201.1" x2="124.2" y2="201.1" stroke="#231815" stroke-width=".8"/>
<text x="118.2" y="200.36" font-size="8.3" text-anchor="middle" class="st">***</text>
<line x1="135.7" y1="201.1" x2="148" y2="201.1" stroke="#231815" stroke-width=".8"/>
<text x="141.85" y="200.36" font-size="8.3" text-anchor="middle" class="st">****</text>
<line x1="167.6" y1="201.1" x2="179.7" y2="201.1" stroke="#231815" stroke-width=".8"/>
<text x="173.65" y="200.36" font-size="8.3" text-anchor="middle" class="st">***</text>
<line x1="191.4" y1="201.1" x2="203.5" y2="201.1" stroke="#231815" stroke-width=".8"/>
<text x="197.45" y="200.36" font-size="8.3" text-anchor="middle" class="st">**</text>
<line x1="223.5" y1="151.2" x2="235.3" y2="151.2" stroke="#231815" stroke-width=".8"/>
<text x="229.4" y="150.46" font-size="8.3" text-anchor="middle" class="st">**</text>
<line x1="246.7" y1="200.9" x2="260" y2="200.9" stroke="#231815" stroke-width=".8"/>
<text x="253.35" y="200.16" font-size="8.3" text-anchor="middle" class="st">**</text>
<line x1="278.6" y1="200.9" x2="290.3" y2="200.9" stroke="#231815" stroke-width=".8"/>
<text x="284.45" y="200.16" font-size="8.3" text-anchor="middle" class="st">***</text>
<line x1="302.5" y1="200.9" x2="314.6" y2="200.9" stroke="#231815" stroke-width=".8"/>
<text x="308.55" y="198.7" font-size="6.81" text-anchor="middle" style="font-weight:normal;stroke-width:.08px">n.s.</text>
<line x1="334" y1="182.7" x2="346.1" y2="182.7" stroke="#231815" stroke-width=".8"/>
<text x="340.05" y="181.96" font-size="8.3" text-anchor="middle" class="st">**</text>
<line x1="357.5" y1="200.9" x2="369.6" y2="200.9" stroke="#231815" stroke-width=".8"/>
<text x="363.55" y="200.16" font-size="8.3" text-anchor="middle" class="st">**</text>
<circle cx="383.3" cy="133.3" r="1.5" fill="#3c5084"/>
<text x="390.1" y="135.23" font-size="5.4" textLength="33.8" lengthAdjust="spacingAndGlyphs" class="sm">TAM-TREM2</text>
<circle cx="383.3" cy="150.8" r="1.5" fill="#94c3d6"/>
<text x="390.1" y="152.73" font-size="5.4" textLength="24" lengthAdjust="spacingAndGlyphs" class="sm">TAM-Vec</text>
<circle cx="383.3" cy="167.9" r="1.5" fill="#eed2b2"/>
<text x="390.1" y="169.83" font-size="5.4" textLength="41" lengthAdjust="spacingAndGlyphs" class="sm">TAM-shTREM2</text>
<circle cx="383.3" cy="185" r="1.5" fill="#808080"/>
<text x="390.1" y="186.93" font-size="5.4" textLength="41" lengthAdjust="spacingAndGlyphs" class="sm">TAM-Scramble</text>
</g>
<g id="panelD">
<text x="441" y="144.56" font-size="17.5" class="pl">D</text>
<rect x="489.4" y="229.48" width="11.8" height="22.82" fill="#3c5084"/>
<rect x="506.2" y="200.26" width="11.8" height="52.04" fill="#94c3d6"/>
<rect x="523" y="163.88" width="11.8" height="88.42" fill="#eed2b2"/>
<rect x="540.1" y="204.47" width="11.9" height="47.83" fill="#808080"/>
<line x1="483.9" y1="142.15" x2="483.9" y2="252.75" stroke="#231815" stroke-width=".9"/>
<line x1="483.45" y1="252.3" x2="557.1" y2="252.3" stroke="#231815" stroke-width=".9"/>
<line x1="479.2" y1="252.3" x2="483.9" y2="252.3" stroke="#231815" stroke-width=".9"/>
<text x="477.9" y="255.24" font-size="8.2" text-anchor="end">0</text>
<line x1="479.2" y1="230.36" x2="483.9" y2="230.36" stroke="#231815" stroke-width=".9"/>
<text x="477.9" y="233.3" font-size="8.2" text-anchor="end">50</text>
<line x1="479.2" y1="208.42" x2="483.9" y2="208.42" stroke="#231815" stroke-width=".9"/>
<text x="477.9" y="211.36" font-size="8.2" text-anchor="end">100</text>
<line x1="479.2" y1="186.48" x2="483.9" y2="186.48" stroke="#231815" stroke-width=".9"/>
<text x="477.9" y="189.42" font-size="8.2" text-anchor="end">150</text>
<line x1="479.2" y1="164.54" x2="483.9" y2="164.54" stroke="#231815" stroke-width=".9"/>
<text x="477.9" y="167.48" font-size="8.2" text-anchor="end">200</text>
<line x1="479.2" y1="142.6" x2="483.9" y2="142.6" stroke="#231815" stroke-width=".9"/>
<text x="477.9" y="145.54" font-size="8.2" text-anchor="end">250</text>
<line x1="495.3" y1="252.3" x2="495.3" y2="256.3" stroke="#231815" stroke-width=".9"/>
<line x1="495.3" y1="232.12" x2="495.3" y2="226.41" stroke="#231815" stroke-width=".7"/>
<line x1="492.3" y1="232.12" x2="498.3" y2="232.12" stroke="#231815" stroke-width=".7"/>
<line x1="492.3" y1="226.41" x2="498.3" y2="226.41" stroke="#231815" stroke-width=".7"/>
<circle cx="491.8" cy="227.73" r="1.8"/>
<circle cx="495.3" cy="230.36" r="1.8"/>
<circle cx="498.8" cy="229.92" r="1.8"/>
<text x="495.1" y="265.04" font-size="4.3" text-anchor="middle" class="sm" transform="rotate(-45 495.1 263.5)">TREM2</text>
<line x1="512.1" y1="252.3" x2="512.1" y2="256.3" stroke="#231815" stroke-width=".9"/>
<line x1="512.1" y1="208.42" x2="512.1" y2="193.06" stroke="#231815" stroke-width=".7"/>
<line x1="509.1" y1="208.42" x2="515.1" y2="208.42" stroke="#231815" stroke-width=".7"/>
<line x1="509.1" y1="193.06" x2="515.1" y2="193.06" stroke="#231815" stroke-width=".7"/>
<path d="M510.1 193.19l2.07 3.6h-4.14z"/>
<path d="M512.1 206.35l2.07 3.6h-4.14z"/>
<path d="M514.1 197.57l2.07 3.6h-4.14z"/>
<text x="511.9" y="265.04" font-size="4.3" text-anchor="middle" class="sm" transform="rotate(-45 511.9 263.5)">Vec</text>
<line x1="528.9" y1="252.3" x2="528.9" y2="256.3" stroke="#231815" stroke-width=".9"/>
<line x1="528.9" y1="166.73" x2="528.9" y2="159.71" stroke="#231815" stroke-width=".7"/>
<line x1="525.9" y1="166.73" x2="531.9" y2="166.73" stroke="#231815" stroke-width=".7"/>
<line x1="525.9" y1="159.71" x2="531.9" y2="159.71" stroke="#231815" stroke-width=".7"/>
<circle cx="525.4" cy="164.54" r="1.8"/>
<circle cx="528.9" cy="159.27" r="1.8"/>
<circle cx="532.4" cy="164.1" r="1.8"/>
<text x="528.7" y="265.04" font-size="4.3" text-anchor="middle" class="sm" transform="rotate(-45 528.7 263.5)">siTREM2</text>
<line x1="546.05" y1="252.3" x2="546.05" y2="256.3" stroke="#231815" stroke-width=".9"/>
<line x1="546.05" y1="211.93" x2="546.05" y2="197.89" stroke="#231815" stroke-width=".7"/>
<line x1="543.05" y1="211.93" x2="549.05" y2="211.93" stroke="#231815" stroke-width=".7"/>
<line x1="543.05" y1="197.89" x2="549.05" y2="197.89" stroke="#231815" stroke-width=".7"/>
<path d="M546.05 195.82l2.07 3.6h-4.14z"/>
<path d="M546.05 202.84l2.07 3.6h-4.14z"/>
<path d="M546.05 209.86l2.07 3.6h-4.14z"/>
<text x="545.85" y="265.04" font-size="4.3" text-anchor="middle" class="sm" transform="rotate(-45 545.85 263.5)">Scr</text>
<text x="455.8" y="200.99" font-size="9.2" text-anchor="middle" textLength="55.5" lengthAdjust="spacingAndGlyphs" transform="rotate(-90 455.8 197.7)">TNF-α(pg/ml)</text>
<line x1="495.5" y1="185.7" x2="512.1" y2="185.7" stroke="#231815" stroke-width=".8"/>
<text x="503.8" y="185.46" font-size="8.3" text-anchor="middle" class="st">**</text>
<line x1="530.3" y1="149.3" x2="547" y2="149.3" stroke="#231815" stroke-width=".8"/>
<text x="538.65" y="149.16" font-size="8.3" text-anchor="middle" class="st">***</text>
<rect x="607" y="157.96" width="11.3" height="94.34" fill="#3c5084"/>
<rect x="623.9" y="195.99" width="11.4" height="56.31" fill="#94c3d6"/>
<rect x="640.9" y="229.88" width="11.4" height="22.42" fill="#eed2b2"/>
<rect x="657.8" y="196.72" width="11.3" height="55.58" fill="#808080"/>
<line x1="601.5" y1="142.15" x2="601.5" y2="252.75" stroke="#231815" stroke-width=".9"/>
<line x1="601.05" y1="252.3" x2="674.8" y2="252.3" stroke="#231815" stroke-width=".9"/>
<line x1="596.8" y1="252.3" x2="601.5" y2="252.3" stroke="#231815" stroke-width=".9"/>
<text x="595.9" y="255.24" font-size="8.2" text-anchor="end">0</text>
<line x1="596.8" y1="215.73" x2="601.5" y2="215.73" stroke="#231815" stroke-width=".9"/>
<text x="595.9" y="218.67" font-size="8.2" text-anchor="end">200</text>
<line x1="596.8" y1="179.17" x2="601.5" y2="179.17" stroke="#231815" stroke-width=".9"/>
<text x="595.9" y="182.1" font-size="8.2" text-anchor="end">400</text>
<line x1="596.8" y1="142.6" x2="601.5" y2="142.6" stroke="#231815" stroke-width=".9"/>
<text x="595.9" y="145.54" font-size="8.2" text-anchor="end">600</text>
<line x1="612.65" y1="252.3" x2="612.65" y2="256.3" stroke="#231815" stroke-width=".9"/>
<line x1="612.65" y1="165.09" x2="612.65" y2="151.01" stroke="#231815" stroke-width=".7"/>
<line x1="609.65" y1="165.09" x2="615.65" y2="165.09" stroke="#231815" stroke-width=".7"/>
<line x1="609.65" y1="151.01" x2="615.65" y2="151.01" stroke="#231815" stroke-width=".7"/>
<circle cx="612.65" cy="151.01" r="1.8"/>
<circle cx="612.65" cy="157.96" r="1.8"/>
<circle cx="612.65" cy="164.54" r="1.8"/>
<text x="612.45" y="265.04" font-size="4.3" text-anchor="middle" class="sm" transform="rotate(-45 612.45 263.5)">TREM2</text>
<line x1="629.6" y1="252.3" x2="629.6" y2="256.3" stroke="#231815" stroke-width=".9"/>
<line x1="629.6" y1="201.11" x2="629.6" y2="191.05" stroke="#231815" stroke-width=".7"/>
<line x1="626.6" y1="201.11" x2="632.6" y2="201.11" stroke="#231815" stroke-width=".7"/>
<line x1="626.6" y1="191.05" x2="632.6" y2="191.05" stroke="#231815" stroke-width=".7"/>
<path d="M629.6 188.98l2.07 3.6h-4.14z"/>
<path d="M628.6 195.38l2.07 3.6h-4.14z"/>
<path d="M630.6 198.12l2.07 3.6h-4.14z"/>
<text x="629.4" y="265.04" font-size="4.3" text-anchor="middle" class="sm" transform="rotate(-45 629.4 263.5)">Vec</text>
<line x1="646.6" y1="252.3" x2="646.6" y2="256.3" stroke="#231815" stroke-width=".9"/>
<line x1="646.6" y1="232.55" x2="646.6" y2="227.43" stroke="#231815" stroke-width=".7"/>
<line x1="643.6" y1="232.55" x2="649.6" y2="232.55" stroke="#231815" stroke-width=".7"/>
<line x1="643.6" y1="227.43" x2="649.6" y2="227.43" stroke="#231815" stroke-width=".7"/>
<circle cx="643.1" cy="231.82" r="1.8"/>
<circle cx="646.6" cy="228.17" r="1.8"/>
<circle cx="650.1" cy="229.26" r="1.8"/>
<text x="646.4" y="265.04" font-size="4.3" text-anchor="middle" class="sm" transform="rotate(-45 646.4 263.5)">siTREM2</text>
<line x1="663.45" y1="252.3" x2="663.45" y2="256.3" stroke="#231815" stroke-width=".9"/>
<line x1="663.45" y1="198.91" x2="663.45" y2="194.16" stroke="#231815" stroke-width=".7"/>
<line x1="660.45" y1="198.91" x2="666.45" y2="198.91" stroke="#231815" stroke-width=".7"/>
<line x1="660.45" y1="194.16" x2="666.45" y2="194.16" stroke="#231815" stroke-width=".7"/>
<path d="M659.95 193.55l2.07 3.6h-4.14z"/>
<path d="M663.45 195.38l2.07 3.6h-4.14z"/>
<path d="M666.95 194.47l2.07 3.6h-4.14z"/>
<text x="663.25" y="265.04" font-size="4.3" text-anchor="middle" class="sm" transform="rotate(-45 663.25 263.5)">Scr</text>
<text x="572.8" y="200.29" font-size="9.2" text-anchor="middle" textLength="58.7" lengthAdjust="spacingAndGlyphs" transform="rotate(-90 572.8 197)">TGF-β(pg/ml)</text>
<line x1="612.6" y1="142.3" x2="629.6" y2="142.3" stroke="#231815" stroke-width=".8"/>
<text x="621.1" y="142.16" font-size="8.3" text-anchor="middle" class="st">**</text>
<line x1="646.4" y1="184.7" x2="663.4" y2="184.7" stroke="#231815" stroke-width=".8"/>
<text x="654.9" y="184.66" font-size="8.3" text-anchor="middle" class="st">****</text>
</g>
<g id="panelE">
<text x=".4" y="276.96" font-size="17.5" class="pl">E</text>
<path d="M26.91 326.06C26.88 327.48 26.67 331.74 26.7 334.57C26.74 337.41 26.84 340.25 27.13 343.09C27.41 345.92 27.84 349.11 28.4 351.6C28.97 354.08 30.18 356.91 30.53 357.98" fill="none" stroke="#d3b4ad" stroke-width="1.15" stroke-linecap="round"/>
<path d="M20.96 323.4C20.16 323.85 17.62 325.3 16.17 326.06C14.72 326.83 12.89 327.66 12.23 327.98" fill="none" stroke="#dcb9b4" stroke-width="1.1" stroke-linecap="round"/>
<path d="M33.19 323.4C33.99 323.81 36.51 325.11 37.98 325.85C39.45 326.6 41.35 327.54 42.02 327.87" fill="none" stroke="#dcb9b4" stroke-width="1.1" stroke-linecap="round"/>
<circle cx="12.66" cy="291.7" r="1.25" fill="#e2bcb8"/>
<circle cx="41.49" cy="291.81" r="1.25" fill="#e2bcb8"/>
<circle cx="21.17" cy="289.15" r="1.9" fill="#7f7f7f"/><circle cx="21.17" cy="289.15" r="1.1" fill="#d8b0b0"/>
<circle cx="33.3" cy="288.94" r="1.9" fill="#7f7f7f"/><circle cx="33.3" cy="288.94" r="1.1" fill="#d8b0b0"/>
<path d="M27.34 281.38C26.95 281.95 25.78 283.58 25 284.79C24.22 285.99 23.09 287.41 22.66 288.62C22.23 289.82 23.26 291.24 22.45 292.02C21.63 292.8 19.29 293.3 17.77 293.3C16.24 293.3 13.69 291.7 13.3 292.02C12.91 292.34 14.36 294.01 15.43 295.21C16.49 296.42 18.79 297.98 19.68 299.26C20.57 300.53 20.74 301.6 20.74 302.87C20.74 304.15 20.27 305.44 19.68 306.91C19.1 308.39 17.8 310.07 17.23 311.7C16.67 313.33 16.15 315.05 16.28 316.7C16.4 318.35 17.2 320.28 17.98 321.6C18.76 322.91 19.75 323.79 20.96 324.57C22.16 325.35 23.88 325.99 25.21 326.28C26.54 326.56 27.73 326.63 28.94 326.28C30.14 325.92 31.26 325.11 32.45 324.15C33.63 323.19 35.23 321.9 36.06 320.53C36.9 319.17 37.45 317.66 37.45 315.96C37.45 314.26 36.65 312.11 36.06 310.32C35.48 308.53 34.43 306.63 33.94 305.21C33.44 303.79 33.01 302.87 33.09 301.81C33.16 300.74 33.44 299.96 34.36 298.83C35.28 297.7 37.48 296.1 38.62 295C39.75 293.9 41.45 292.52 41.17 292.23C40.89 291.95 38.3 293.3 36.91 293.3C35.53 293.3 33.72 293.01 32.87 292.23C32.02 291.45 32.09 289.72 31.81 288.62C31.52 287.52 31.6 286.6 31.17 285.64C30.74 284.68 29.89 283.58 29.26 282.87C28.62 282.16 27.66 281.63 27.34 281.38Z" fill="#888"/>
<path d="M27.13 286.7C27.09 288.3 27.06 292.91 26.91 296.28C26.77 299.65 26.31 303.37 26.28 306.91C26.24 310.46 26.63 315.78 26.7 317.55" fill="none" stroke="#7c7c7c" stroke-width="1.6" stroke-linecap="round" opacity=".3"/>
<path d="M18.62 321.81C18.48 321.13 17.59 318.97 17.77 317.77C17.94 316.56 18.69 315.04 19.68 314.57C20.67 314.11 22.62 314.43 23.72 315C24.82 315.57 25.85 317.48 26.28 317.98" fill="none" stroke="#dcc48e" stroke-width="1.3" stroke-linecap="round"/>
<circle cx="22.02" cy="315.96" r="5.8" fill="none" stroke="#2f8fd8" stroke-width=".6" stroke-dasharray="1.8 1"/>
<path d="M30 306.91L33.72 305.85M38.51 304.26L42.23 302.87M45.96 301.28L46.81 301.06M30 324.15L33.19 325.53M36.91 326.91L42.23 328.83M45.96 330.32L46.81 330.64" stroke="#2f8fd8" stroke-width=".75" fill="none"/>
<path d="M56.53 301.48C57.41 301.58 60.33 301.61 61.83 302.12C63.33 302.63 65.12 303.32 65.52 304.53C65.92 305.73 65.04 307.47 64.24 309.34C63.43 311.22 61.45 313.63 60.7 315.77C59.95 317.91 60.22 320.51 59.74 322.19C59.26 323.88 59.07 325.35 57.81 325.89C56.55 326.42 53.74 326.02 52.19 325.4C50.64 324.79 48.77 323.4 48.5 322.19C48.23 320.99 49.7 319.78 50.59 318.18C51.47 316.57 53 314.56 53.8 312.56C54.6 310.55 54.95 307.98 55.4 306.13C55.86 304.29 56.34 302.25 56.53 301.48Z" fill="#dcc596" stroke="#9b7b41" stroke-width=".7"/>
<text x="59.4" y="298.21" font-size="7" text-anchor="middle" textLength="21.5" lengthAdjust="spacingAndGlyphs">Femur</text>
<text x="37" y="341.51" font-size="7" text-anchor="middle" textLength="12.9" lengthAdjust="spacingAndGlyphs">C57</text>
<line x1="63.4" y1="314.6" x2="81.3" y2="314.6" stroke="#231815" stroke-width="1"/>
<path d="M84.3 314.6l-6.2 -2l1.3 2l-1.3 2z"/>
<text x="111.7" y="296.84" font-size="7.1" text-anchor="middle" textLength="26.2" lengthAdjust="spacingAndGlyphs">BMDMs</text>
<path d="M91.1 312.2v4a20.8 11.8 0 0 0 41.6 0v-4z" fill="#efe2cc" stroke="#a9a29a" stroke-width=".5"/>
<ellipse cx="111.9" cy="312.2" rx="20.8" ry="11.8" fill="#f7f1e6" stroke="#a9a29a" stroke-width=".5"/>
<ellipse cx="111.9" cy="313.1" rx="18.4" ry="9.4" fill="#f3e9d6" stroke="#d8ccb8" stroke-width=".4"/>
<path d="M111.71 318.86l2.09 -.38M108.21 312.48l1.87 -1.52M110.71 316.13l1.51 1.26M116.59 308.48l1.55 .31M101.31 307.78l2.29 .07M109.08 311.04l1.97 .75M110.19 313.88l1.72 .96M107.91 305.77l2.39 .74M99.82 317.35l2.52 -.2M114.64 311.88l1.45 -.81M120.91 311.87l1.73 .31M101.37 313.1l2.06 -.44M98.12 309.15l2.43 .63M120.57 307l1.55 .38M120.65 306.83l1.76 1.12M109.38 309.24l1.87 .94M109.92 314.35l2.28 1.23M122.75 316.77l1.57 -.2M107.61 319.12l1.26 .72M108.6 311.77l1.71 .54M121.71 307.99l2.6 .02M109.63 314.95l1.42 .2M114.29 317.55l1.57 .24M124.43 315.29l2.46 -.66M118.39 310.34l2.02 -.11M103.52 308.42l2.14 .18M120.93 311.24l2.25 -.22M111.76 316.61l1.59 1.26M109.3 312.98l2.08 -.25M123.1 313.71l1.45 .27M103.73 309.17l1.77 .45M107.81 307.29l1.16 -.91M104.25 306.79l1.83 -.66M103.79 310.91l1.74 -.34M102.97 317.63l1.78 -.51M111.11 311.76l2.27 .22" stroke="#62bb68" stroke-width="1.1" stroke-linecap="round" fill="none" opacity=".85"/>
<line x1="137.4" y1="314.7" x2="155.3" y2="314.7" stroke="#231815" stroke-width="1"/>
<path d="M158.3 314.7l-6.2 -2l1.3 2l-1.3 2z"/>
<text x="181.4" y="296.44" font-size="7.1" text-anchor="middle" textLength="42.9" lengthAdjust="spacingAndGlyphs">Transfection</text>
<path d="M162.3 312.2v4a20.8 11.8 0 0 0 41.6 0v-4z" fill="#efe2cc" stroke="#a9a29a" stroke-width=".5"/>
<ellipse cx="183.1" cy="312.2" rx="20.8" ry="11.8" fill="#f7f1e6" stroke="#a9a29a" stroke-width=".5"/>
<ellipse cx="183.1" cy="313.1" rx="18.4" ry="9.4" fill="#f3e9d6" stroke="#d8ccb8" stroke-width=".4"/>
<path d="M184.32 321.01l1.95 -1.12M189.02 314.49l1.26 1.06M175.59 309.18l1.99 -.13M187.35 320l1.41 -.91M189.72 313.75l2.46 -.32M178.13 315.29l2.44 -.86M193.14 315.59l2.16 -.38M175.29 318.45l2.18 -.01M191.96 310.1l1.3 -.71M192.04 311.87l2.31 -1.05M170.85 309.58l1.5 .89M173.17 319.22l2.02 -1.13M192.28 316.36l2.44 .71M188.4 308.95l1.44 -.65M171.32 312.83l2.05 -1.4M169.51 313.13l1.56 -.65M191.14 313.74l1.81 -.61M172.4 317.51l1.37 .84M176.89 314.68l2.5 .58M186.42 319.62l1.36 -.39M183.04 309.12l1.72 -.86M183.28 317.99l1.9 -.14M175.48 311.36l1.27 -.81M190.61 316.72l2.32 -.46M169.64 312.44l1.15 .92M187.77 313.57l2.06 -.33M182.19 308.19l1.12 .85M186.08 309.76l1.25 .72M195.31 311l1.62 1.33M188.96 319.86l1.5 -.12M173.79 309.85l1.58 -.06M190.73 317.15l1.55 -.1M170.05 315.2l1.88 .58M175.12 316.22l1.52 -.61M177.28 313.58l2.14 .7M180.4 312.55l1.88 -.36" stroke="#62bb68" stroke-width="1.1" stroke-linecap="round" fill="none" opacity=".85"/>
<text x="181.4" y="337.34" font-size="7.1" text-anchor="middle" textLength="62.6" lengthAdjust="spacingAndGlyphs">siTREM2/Scramble</text>
<text x="182.2" y="345.44" font-size="7.1" text-anchor="middle" textLength="34.4" lengthAdjust="spacingAndGlyphs">Lentivirus</text>
<text x="54.2" y="356.34" font-size="7.1" text-anchor="middle" textLength="15.2" lengthAdjust="spacingAndGlyphs">Flow</text>
<text x="55.5" y="365.34" font-size="7.1" text-anchor="middle" textLength="35" lengthAdjust="spacingAndGlyphs">CytoMetry</text>
<line x1="45.3" y1="371.8" x2="62.5" y2="371.8" stroke="#231815" stroke-width="1"/>
<path d="M65.5 371.8l-6.2 -2l1.3 2l-1.3 2z"/>
<path d="M78.2 356.6l3 -1.6h27l6 2.4v28.6l-6 1.4h-30z" fill="#3d4e86"/>
<path d="M78.2 356.8h29.6v30.6h-29.6z" fill="#55669d"/>
<rect x="81.2" y="355.6" width="21.5" height="3.2" fill="#c9c9c9"/>
<rect x="88.7" y="364.2" width="5.5" height="1.2" fill="#e4e4e4"/>
<line x1="78.2" y1="373" x2="107.8" y2="373" stroke="#2d3b69" stroke-width=".5"/>
<line x1="78.2" y1="379.1" x2="107.8" y2="379.1" stroke="#2d3b69" stroke-width=".5"/>
<rect x="87.7" y="375.4" width="4.5" height="1" fill="#2d3b69"/>
<path d="M82.2 380.8h14.5v2.6q-7 3.2 -14.5 2.4z" fill="#d4d4d4"/>
<rect x="97.7" y="374.2" width="11.2" height="12.4" fill="#c4c4c4" stroke="#6a6a6a" stroke-width=".4"/>
<rect x="97.7" y="374.2" width="5.2" height="12.4" fill="#e0e0e0"/>
<rect x="80.2" y="387.4" width="3" height=".9" fill="#222"/>
<rect x="102.2" y="387.4" width="3" height=".9" fill="#222"/>
<line x1="119" y1="371.6" x2="136.5" y2="371.6" stroke="#231815" stroke-width="1"/>
<path d="M139.5 371.6l-6.2 -2l1.3 2l-1.3 2z"/>
<path d="M151.34 386.89C151.44 385.08 151.72 379.05 151.95 376.06C152.19 373.06 152.43 368.73 152.77 368.9C153.11 369.07 153.49 374.25 154 377.08C154.51 379.9 155.26 385.7 155.84 385.87C156.42 386.04 156.89 381.78 157.47 378.1C158.05 374.42 158.73 367.34 159.31 363.79C159.89 360.25 160.44 356.84 160.95 356.84C161.46 356.84 161.93 362.12 162.38 363.79C162.82 365.46 163.09 366.93 163.6 366.86C164.11 366.79 164.83 362.87 165.44 363.38C166.06 363.9 166.63 367.13 167.28 369.92C167.93 372.72 168.51 377.32 169.33 380.14C170.14 382.97 171.71 385.76 172.19 386.89L172.19 387.3Z" fill="#a9a9dc" stroke="#8585c8" stroke-width=".4"/>
<path d="M155.43 386.68C156.18 385.93 158.56 383.69 159.92 382.19C161.29 380.69 162.51 378.78 163.6 377.69C164.69 376.6 165.44 375.71 166.46 375.65C167.49 375.58 168.71 377.01 169.73 377.28C170.76 377.55 171.68 378.85 172.6 377.28C173.52 375.71 174.3 371.15 175.25 367.88C176.21 364.61 177.36 357.66 178.32 357.66C179.27 357.66 180.12 363.79 180.97 367.88C181.83 371.97 182.64 378.98 183.43 382.19C184.21 385.39 185.3 386.27 185.68 387.09" fill="none" stroke="#58b668" stroke-width=".5"/>
<path d="M150.32 354.8V387.3H192.62" fill="none" stroke="#222" stroke-width=".5"/>
<path d="M148.89 356.03h1.4M148.89 362.16h1.4M148.89 368.49h1.4M148.89 374.62h1.4M148.89 380.96h1.4M153.79 387.3v1.4M158.29 387.3v1.4M166.46 387.3v1.4M175.05 387.3v1.4M183.43 387.3v1.4M191.6 387.3v1.4" stroke="#222" stroke-width=".4"/>
<text x="169.53" y="392" font-size="1.6" text-anchor="middle" style="font-weight:normal;stroke:none">CD206-APC</text>
<text x="143.98" y="371.97" font-size="1.6" text-anchor="middle" style="font-weight:normal;stroke:none" transform="rotate(-90 143.98 371.97)">Count</text>
</g>
<g id="panelF">
<text x="212.2" y="276.96" font-size="17.5" class="pl">F</text>
<rect x="243.6" y="283" width="103.2" height="101.5" fill="#fff"/>
<path d="M279.09 384.51C279.41 383.4 280.36 381.82 280.99 377.87C281.62 373.91 282.25 367.43 282.89 360.78C283.52 354.14 284.09 344.08 284.78 338.01C285.48 331.94 286.27 324.35 287.06 324.35C287.85 324.35 288.64 331.94 289.53 338.01C290.41 344.08 291.27 354.14 292.38 360.78C293.48 367.43 294.59 373.91 296.17 377.87C297.75 381.82 300.92 383.4 301.86 384.51L301.86 384.5L279.09 384.5Z" fill="#a4cfe0" fill-opacity=".55"/>
<path d="M279.09 384.5L279.09 384.51C279.41 383.4 280.36 381.82 280.99 377.87C281.62 373.91 282.25 367.43 282.89 360.78C283.52 354.14 284.09 344.08 284.78 338.01C285.48 331.94 286.27 324.35 287.06 324.35C287.85 324.35 288.64 331.94 289.53 338.01C290.41 344.08 291.27 354.14 292.38 360.78C293.48 367.43 294.59 373.91 296.17 377.87C297.75 381.82 300.92 383.4 301.86 384.51L301.86 384.5" fill="none" stroke="#7fbad0" stroke-width=".6" stroke-linejoin="round"/>
<path d="M277.19 352.43C277.67 351.61 279.25 350.22 280.04 347.5C280.83 344.78 281.24 342.44 281.94 336.11C282.63 329.79 283.52 316.25 284.21 309.54C284.91 302.84 285.48 297.9 286.11 295.88C286.74 293.85 287.44 294.55 288.01 297.4C288.58 300.24 288.96 307.2 289.53 312.96C290.1 318.71 290.64 326.5 291.43 331.94C292.22 337.38 293.17 342.41 294.27 345.6C295.38 348.8 296.8 349.97 298.07 351.11C299.33 352.24 301.23 352.21 301.86 352.43L301.86 352.4L277.19 352.4Z" fill="#6f7fa8" fill-opacity=".55"/>
<path d="M243.6 352.4L277.19 352.43C277.67 351.61 279.25 350.22 280.04 347.5C280.83 344.78 281.24 342.44 281.94 336.11C282.63 329.79 283.52 316.25 284.21 309.54C284.91 302.84 285.48 297.9 286.11 295.88C286.74 293.85 287.44 294.55 288.01 297.4C288.58 300.24 288.96 307.2 289.53 312.96C290.1 318.71 290.64 326.5 291.43 331.94C292.22 337.38 293.17 342.41 294.27 345.6C295.38 348.8 296.8 349.97 298.07 351.11C299.33 352.24 301.23 352.21 301.86 352.43L346.8 352.4" fill="none" stroke="#3c5084" stroke-width=".8" stroke-linejoin="round"/>
<rect x="243.6" y="283" width="103.2" height="101.5" fill="none" stroke="#1c1715" stroke-width="1"/>
<path d="M244.1 384.9v7M248.34 384.9v4M250.83 384.9v4M252.59 384.9v4M253.96 384.9v5M255.07 384.9v4M256.02 384.9v4M256.83 384.9v4M257.55 384.9v4M258.2 384.9v7M262.44 384.9v4M264.93 384.9v4M266.69 384.9v4M268.06 384.9v5M269.17 384.9v4M270.12 384.9v4M270.93 384.9v4M271.65 384.9v4M272.3 384.9v7M276.54 384.9v4M279.03 384.9v4M280.79 384.9v4M282.16 384.9v5M283.27 384.9v4M284.22 384.9v4M285.03 384.9v4M285.75 384.9v4M286.4 384.9v7M290.64 384.9v4M293.13 384.9v4M294.89 384.9v4M296.26 384.9v5M297.37 384.9v4M298.32 384.9v4M299.13 384.9v4M299.85 384.9v4M300.5 384.9v7M304.74 384.9v4M307.23 384.9v4M308.99 384.9v4M310.36 384.9v5M311.47 384.9v4M312.42 384.9v4M313.23 384.9v4M313.95 384.9v4M314.6 384.9v7M318.84 384.9v4M321.33 384.9v4M323.09 384.9v4M324.46 384.9v5M325.57 384.9v4M326.52 384.9v4M327.33 384.9v4M328.05 384.9v4M328.7 384.9v7M332.94 384.9v4M335.43 384.9v4M337.19 384.9v4M338.56 384.9v5M339.67 384.9v4M340.62 384.9v4M341.43 384.9v4M342.15 384.9v4M342.8 384.9v7" stroke="#15110f" stroke-width=".85" fill="none"/>
<text x="258.2" y="396.3" font-size="2.8" text-anchor="middle" style="font-weight:normal;stroke:none">10<tspan dy="-1.1" font-size="2">1</tspan></text>
<text x="286.4" y="396.3" font-size="2.8" text-anchor="middle" style="font-weight:normal;stroke:none">10<tspan dy="-1.1" font-size="2">3</tspan></text>
<text x="314.6" y="396.3" font-size="2.8" text-anchor="middle" style="font-weight:normal;stroke:none">10<tspan dy="-1.1" font-size="2">5</tspan></text>
<text x="295.8" y="290.6" font-size="5.3" textLength="48.8" lengthAdjust="spacingAndGlyphs" class="sm">BMDMs-siTREM2</text>
<text x="295.8" y="359.8" font-size="5.3" textLength="49.7" lengthAdjust="spacingAndGlyphs" class="sm">BMDMs-Scramble</text>
<text x="231.4" y="298.82" font-size="6.2" text-anchor="middle" textLength="21.3" lengthAdjust="spacingAndGlyphs" transform="rotate(-90 231.4 296.6)">Counts</text>
<line x1="232.6" y1="314" x2="232.6" y2="401.3" stroke="#231815" stroke-width="1"/>
<line x1="232.1" y1="400.8" x2="307.4" y2="400.8" stroke="#231815" stroke-width="1"/>
<path d="M232.6 311l-1.7 6.2l1.7 -1.2l1.7 1.2z"/>
<path d="M310.4 400.8l-6.2 -1.7l1.2 1.7l-1.2 1.7z"/>
<text x="312.3" y="403.13" font-size="6.5" textLength="36.4" lengthAdjust="spacingAndGlyphs">CD206-APC</text>
<rect x="398.5" y="316.12" width="16.8" height="60.48" fill="#3c5084"/>
<rect x="423.9" y="297.21" width="17.1" height="79.39" fill="#94c3d6"/>
<line x1="389.2" y1="286.75" x2="389.2" y2="377.05" stroke="#231815" stroke-width=".9"/>
<line x1="388.75" y1="376.6" x2="449.5" y2="376.6" stroke="#231815" stroke-width=".9"/>
<line x1="385.2" y1="376.6" x2="389.2" y2="376.6" stroke="#231815" stroke-width=".9"/>
<text x="383.6" y="378.93" font-size="6.5" text-anchor="end">0</text>
<line x1="385.2" y1="354.25" x2="389.2" y2="354.25" stroke="#231815" stroke-width=".9"/>
<text x="383.6" y="356.58" font-size="6.5" text-anchor="end">500</text>
<line x1="385.2" y1="331.9" x2="389.2" y2="331.9" stroke="#231815" stroke-width=".9"/>
<text x="383.6" y="334.23" font-size="6.5" text-anchor="end">1000</text>
<line x1="385.2" y1="309.55" x2="389.2" y2="309.55" stroke="#231815" stroke-width=".9"/>
<text x="383.6" y="311.88" font-size="6.5" text-anchor="end">1500</text>
<line x1="385.2" y1="287.2" x2="389.2" y2="287.2" stroke="#231815" stroke-width=".9"/>
<text x="383.6" y="289.53" font-size="6.5" text-anchor="end">2000</text>
<line x1="406.9" y1="376.6" x2="406.9" y2="380.6" stroke="#231815" stroke-width=".9"/>
<line x1="406.9" y1="320.28" x2="406.9" y2="311.34" stroke="#231815" stroke-width=".7"/>
<line x1="403.4" y1="320.28" x2="410.4" y2="320.28" stroke="#231815" stroke-width=".7"/>
<line x1="403.4" y1="311.34" x2="410.4" y2="311.34" stroke="#231815" stroke-width=".7"/>
<circle cx="404.4" cy="316.7" r="1.9"/>
<circle cx="409.4" cy="314.02" r="1.9"/>
<circle cx="406.9" cy="321.62" r="1.9"/>
<text x="406.9" y="396.29" font-size="6.4" text-anchor="middle" transform="rotate(-45 406.9 394)">siTREM2</text>
<line x1="432.45" y1="376.6" x2="432.45" y2="380.6" stroke="#231815" stroke-width=".9"/>
<line x1="432.45" y1="300.61" x2="432.45" y2="292.56" stroke="#231815" stroke-width=".7"/>
<line x1="428.95" y1="300.61" x2="435.95" y2="300.61" stroke="#231815" stroke-width=".7"/>
<line x1="428.95" y1="292.56" x2="435.95" y2="292.56" stroke="#231815" stroke-width=".7"/>
<path d="M432.45 290.38l2.18 3.8h-4.37z"/>
<path d="M429.45 296.64l2.18 3.8h-4.37z"/>
<path d="M435.45 297.08l2.18 3.8h-4.37z"/>
<text x="432.45" y="396.29" font-size="6.4" text-anchor="middle" transform="rotate(-45 432.45 394)">Scr</text>
<text x="362.9" y="334.04" font-size="7.1" text-anchor="middle" textLength="81.5" lengthAdjust="spacingAndGlyphs" transform="rotate(-90 362.9 331.5)">CD206 Expression(MFI)</text>
<line x1="407.2" y1="284.1" x2="432.3" y2="284.1" stroke="#231815" stroke-width=".8"/>
<text x="419.75" y="283.66" font-size="8.3" text-anchor="middle" class="st">**</text>
<rect x="474.4" y="283.9" width="101.5" height="100.6" fill="#fff"/>
<path d="M509.09 384.51C509.41 383.72 510.36 382.77 510.99 379.76C511.62 376.76 512.25 371.54 512.89 366.48C513.52 361.42 514.25 353.57 514.78 349.4C515.32 345.22 515.64 341.11 516.11 341.43C516.59 341.74 517.06 346.8 517.63 351.3C518.2 355.79 518.74 363.95 519.53 368.38C520.32 372.8 521.11 375.53 522.38 377.87C523.64 380.21 525.7 381.31 527.12 382.42C528.54 383.53 530.28 384.16 530.92 384.51L530.92 384.5L509.09 384.5Z" fill="#a4cfe0" fill-opacity=".55"/>
<path d="M509.09 384.5L509.09 384.51C509.41 383.72 510.36 382.77 510.99 379.76C511.62 376.76 512.25 371.54 512.89 366.48C513.52 361.42 514.25 353.57 514.78 349.4C515.32 345.22 515.64 341.11 516.11 341.43C516.59 341.74 517.06 346.8 517.63 351.3C518.2 355.79 518.74 363.95 519.53 368.38C520.32 372.8 521.11 375.53 522.38 377.87C523.64 380.21 525.7 381.31 527.12 382.42C528.54 383.53 530.28 384.16 530.92 384.51L530.92 384.5" fill="none" stroke="#7fbad0" stroke-width=".6" stroke-linejoin="round"/>
<path d="M508.14 352.43C508.62 351.61 510.1 350.85 510.99 347.5C511.87 344.15 512.66 338.33 513.46 332.32C514.25 326.31 514.94 317.58 515.73 311.44C516.52 305.3 517.41 296.13 518.2 295.5C518.99 294.86 519.78 302.14 520.48 307.64C521.17 313.15 521.58 322.19 522.38 328.52C523.17 334.85 524.11 341.81 525.22 345.6C526.33 349.4 527.75 350.16 529.02 351.3C530.28 352.43 532.18 352.24 532.81 352.43L532.81 352.4L508.14 352.4Z" fill="#6f7fa8" fill-opacity=".55"/>
<path d="M474.4 352.4L508.14 352.43C508.62 351.61 510.1 350.85 510.99 347.5C511.87 344.15 512.66 338.33 513.46 332.32C514.25 326.31 514.94 317.58 515.73 311.44C516.52 305.3 517.41 296.13 518.2 295.5C518.99 294.86 519.78 302.14 520.48 307.64C521.17 313.15 521.58 322.19 522.38 328.52C523.17 334.85 524.11 341.81 525.22 345.6C526.33 349.4 527.75 350.16 529.02 351.3C530.28 352.43 532.18 352.24 532.81 352.43L575.9 352.4" fill="none" stroke="#3c5084" stroke-width=".8" stroke-linejoin="round"/>
<rect x="474.4" y="283.9" width="101.5" height="100.6" fill="none" stroke="#1c1715" stroke-width="1"/>
<path d="M475.1 384.9v7M479.34 384.9v4M481.83 384.9v4M483.59 384.9v4M484.96 384.9v5M486.07 384.9v4M487.02 384.9v4M487.83 384.9v4M488.55 384.9v4M489.2 384.9v7M493.44 384.9v4M495.93 384.9v4M497.69 384.9v4M499.06 384.9v5M500.17 384.9v4M501.12 384.9v4M501.93 384.9v4M502.65 384.9v4M503.3 384.9v7M507.54 384.9v4M510.03 384.9v4M511.79 384.9v4M513.16 384.9v5M514.27 384.9v4M515.22 384.9v4M516.03 384.9v4M516.75 384.9v4M517.4 384.9v7M521.64 384.9v4M524.13 384.9v4M525.89 384.9v4M527.26 384.9v5M528.37 384.9v4M529.32 384.9v4M530.13 384.9v4M530.85 384.9v4M531.5 384.9v7M535.74 384.9v4M538.23 384.9v4M539.99 384.9v4M541.36 384.9v5M542.47 384.9v4M543.42 384.9v4M544.23 384.9v4M544.95 384.9v4M545.6 384.9v7M549.84 384.9v4M552.33 384.9v4M554.09 384.9v4M555.46 384.9v5M556.57 384.9v4M557.52 384.9v4M558.33 384.9v4M559.05 384.9v4M559.7 384.9v7M563.94 384.9v4M566.43 384.9v4M568.19 384.9v4M569.56 384.9v5M570.67 384.9v4M571.62 384.9v4M572.43 384.9v4M573.15 384.9v4M573.8 384.9v7" stroke="#15110f" stroke-width=".85" fill="none"/>
<text x="489.2" y="396.3" font-size="2.8" text-anchor="middle" style="font-weight:normal;stroke:none">10<tspan dy="-1.1" font-size="2">1</tspan></text>
<text x="517.4" y="396.3" font-size="2.8" text-anchor="middle" style="font-weight:normal;stroke:none">10<tspan dy="-1.1" font-size="2">3</tspan></text>
<text x="545.6" y="396.3" font-size="2.8" text-anchor="middle" style="font-weight:normal;stroke:none">10<tspan dy="-1.1" font-size="2">5</tspan></text>
<text x="524.8" y="291.5" font-size="5.3" textLength="47.5" lengthAdjust="spacingAndGlyphs" class="sm">BMDMs-siTREM2</text>
<text x="524.8" y="360.4" font-size="5.3" textLength="49.4" lengthAdjust="spacingAndGlyphs" class="sm">BMDMs-Scramble</text>
<text x="461.4" y="298.82" font-size="6.2" text-anchor="middle" textLength="21.3" lengthAdjust="spacingAndGlyphs" transform="rotate(-90 461.4 296.6)">Counts</text>
<line x1="462.6" y1="314" x2="462.6" y2="401.3" stroke="#231815" stroke-width="1"/>
<line x1="462.1" y1="400.8" x2="534.9" y2="400.8" stroke="#231815" stroke-width="1"/>
<path d="M462.6 311l-1.7 6.2l1.7 -1.2l1.7 1.2z"/>
<path d="M537.9 400.8l-6.2 -1.7l1.2 1.7l-1.2 1.7z"/>
<text x="541.9" y="403.13" font-size="6.5" textLength="33" lengthAdjust="spacingAndGlyphs">CD86-APC</text>
<rect x="623.5" y="293.39" width="16.8" height="83.51" fill="#3c5084"/>
<rect x="648.9" y="307.02" width="17.1" height="69.88" fill="#94c3d6"/>
<line x1="614.2" y1="286.75" x2="614.2" y2="377.35" stroke="#231815" stroke-width=".9"/>
<line x1="613.75" y1="376.9" x2="674.3" y2="376.9" stroke="#231815" stroke-width=".9"/>
<line x1="610.2" y1="376.9" x2="614.2" y2="376.9" stroke="#231815" stroke-width=".9"/>
<text x="608.6" y="379.23" font-size="6.5" text-anchor="end">0</text>
<line x1="610.2" y1="354.47" x2="614.2" y2="354.47" stroke="#231815" stroke-width=".9"/>
<text x="608.6" y="356.8" font-size="6.5" text-anchor="end">500</text>
<line x1="610.2" y1="332.05" x2="614.2" y2="332.05" stroke="#231815" stroke-width=".9"/>
<text x="608.6" y="334.38" font-size="6.5" text-anchor="end">1000</text>
<line x1="610.2" y1="309.62" x2="614.2" y2="309.62" stroke="#231815" stroke-width=".9"/>
<text x="608.6" y="311.95" font-size="6.5" text-anchor="end">1500</text>
<line x1="610.2" y1="287.2" x2="614.2" y2="287.2" stroke="#231815" stroke-width=".9"/>
<text x="608.6" y="289.53" font-size="6.5" text-anchor="end">2000</text>
<line x1="631.9" y1="376.9" x2="631.9" y2="380.9" stroke="#231815" stroke-width=".9"/>
<line x1="631.9" y1="294.82" x2="631.9" y2="291.69" stroke="#231815" stroke-width=".7"/>
<line x1="628.4" y1="294.82" x2="635.4" y2="294.82" stroke="#231815" stroke-width=".7"/>
<line x1="628.4" y1="291.69" x2="635.4" y2="291.69" stroke="#231815" stroke-width=".7"/>
<circle cx="628.9" cy="293.03" r="1.9"/>
<circle cx="632.9" cy="292.58" r="1.9"/>
<circle cx="635.4" cy="293.93" r="1.9"/>
<text x="631.9" y="396.59" font-size="6.4" text-anchor="middle" transform="rotate(-45 631.9 394.3)">siTREM2</text>
<line x1="657.45" y1="376.9" x2="657.45" y2="380.9" stroke="#231815" stroke-width=".9"/>
<line x1="657.45" y1="310.52" x2="657.45" y2="302.9" stroke="#231815" stroke-width=".7"/>
<line x1="653.95" y1="310.52" x2="660.95" y2="310.52" stroke="#231815" stroke-width=".7"/>
<line x1="653.95" y1="302.9" x2="660.95" y2="302.9" stroke="#231815" stroke-width=".7"/>
<path d="M657.45 300.71l2.18 3.8h-4.37z"/>
<path d="M654.95 306.99l2.18 3.8h-4.37z"/>
<path d="M659.95 305.65l2.18 3.8h-4.37z"/>
<text x="657.45" y="396.59" font-size="6.4" text-anchor="middle" transform="rotate(-45 657.45 394.3)">Scr</text>
<text x="587.9" y="336.04" font-size="7.1" text-anchor="middle" textLength="76" lengthAdjust="spacingAndGlyphs" transform="rotate(-90 587.9 333.5)">CD86 Expression(MFI)</text>
<line x1="631.3" y1="282.9" x2="657.1" y2="282.9" stroke="#231815" stroke-width=".8"/>
<text x="644.2" y="282.96" font-size="8.3" text-anchor="middle" class="st">**</text>
</g>
<g id="panelG">
<text x=".7" y="420.56" font-size="17.5" class="pl">G</text>
<text x="49.5" y="436.04" font-size="7.1" text-anchor="middle" textLength="70" lengthAdjust="spacingAndGlyphs">PBS Liposomes (PL)</text>
<text x="49.5" y="465.44" font-size="7.1" text-anchor="middle" textLength="94" lengthAdjust="spacingAndGlyphs">Clodronate Liposomes (CL)</text>
<text x="49.5" y="493.94" font-size="7.1" text-anchor="middle" textLength="57.5" lengthAdjust="spacingAndGlyphs">CL + Scr BMDMs</text>
<text x="49.5" y="522.84" font-size="7.1" text-anchor="middle" textLength="76" lengthAdjust="spacingAndGlyphs">CL + siTREM2 BMDMs</text>
<defs><filter id="bl" x="-5%" y="-5%" width="110%" height="110%"><feGaussianBlur stdDeviation=".55"/></filter><filter id="bl2" x="-10%" y="-10%" width="120%" height="120%"><feGaussianBlur stdDeviation="1.3"/></filter><pattern id="wv" width="1.6" height="1.6" patternUnits="userSpaceOnUse" patternTransform="rotate(45)"><rect width="1.6" height="1.6" fill="#3f75a6"/><rect width=".8" height=".8" fill="#386c9d"/><rect x=".8" y=".8" width=".8" height=".8" fill="#467dad"/></pattern><clipPath id="gc"><rect x="103" y="423.9" width="181.6" height="108.7"/></clipPath></defs>
<rect x="103" y="423.9" width="181.6" height="108.7" fill="url(#wv)"/>
<g clip-path="url(#gc)"><g filter="url(#bl2)" fill="#183a66" opacity=".7">
<ellipse cx="114.4" cy="434.5" rx="7.92" ry="9.96"/>
<ellipse cx="146.3" cy="434.5" rx="6.48" ry="8.7"/>
<ellipse cx="181" cy="434.5" rx="6.48" ry="8.7"/>
<ellipse cx="211.6" cy="434.5" rx="6.98" ry="9"/>
<ellipse cx="244.6" cy="433.9" rx="6.98" ry="9"/>
<ellipse cx="276.5" cy="433.1" rx="6.98" ry="7.5"/>
<ellipse cx="114.4" cy="463.6" rx="9" ry="12"/>
<ellipse cx="146.3" cy="462.9" rx="7.92" ry="11.22"/>
<ellipse cx="181.4" cy="463.3" rx="10.44" ry="10.8"/>
<ellipse cx="213" cy="462.2" rx="7.92" ry="10.8"/>
<ellipse cx="245.4" cy="462.2" rx="10.08" ry="9.96"/>
<ellipse cx="276.5" cy="465" rx="10.8" ry="9"/>
<ellipse cx="115.1" cy="492.7" rx="8.5" ry="9.6"/>
<ellipse cx="147" cy="494.1" rx="6.98" ry="9.6"/>
<ellipse cx="181.6" cy="494.4" rx="5.98" ry="9.6"/>
<ellipse cx="214.4" cy="493.3" rx="6.98" ry="9"/>
<ellipse cx="245.4" cy="493.3" rx="7.92" ry="7.5"/>
<ellipse cx="276.5" cy="494.9" rx="7.56" ry="6.6"/>
<ellipse cx="116.5" cy="521.2" rx="5.47" ry="5.4"/>
<ellipse cx="149.7" cy="520.5" rx="5.98" ry="5.82"/>
<ellipse cx="181.6" cy="520.7" rx="5.04" ry="4.98"/>
<ellipse cx="214.9" cy="518.2" rx="5.62" ry="6.6"/>
<ellipse cx="244.1" cy="518.2" rx="5.62" ry="4.68"/>
<ellipse cx="276.5" cy="517.7" rx="4.32" ry="4.68"/>
</g><g filter="url(#bl)">
<ellipse cx="115.1" cy="434.3" rx="5.94" ry="8.36" fill="#1d477a" opacity=".8"/>
<ellipse cx="113.1" cy="429.15" rx="5.52" ry="4.05" fill="#ca9a8c"/>
<ellipse cx="113.09" cy="433.9" rx="5.8" ry="4.05" fill="#d2a696"/>
<ellipse cx="112.51" cy="438.65" rx="5.48" ry="4.05" fill="#d9b1a0"/>
<circle cx="112.72" cy="430.26" r="1.52" fill="#e6c9b8" opacity=".7"/>
<circle cx="111.03" cy="433.36" r="2.24" fill="#e6c9b8" opacity=".7"/>
<circle cx="112.79" cy="433.86" r="1.44" fill="#e6c9b8" opacity=".7"/>
<circle cx="113.25" cy="437.99" r="1.22" fill="#a23a3a" opacity=".7"/>
<circle cx="115.27" cy="432.64" r=".54" fill="#b55050" opacity=".7"/>
<circle cx="114.03" cy="438.3" r=".86" fill="#b55050" opacity=".7"/>
<circle cx="113.6" cy="437.21" r="1.05" fill="#a23a3a" opacity=".7"/>
<circle cx="113.27" cy="434.34" r="1.61" fill="#a23a3a" opacity=".7"/>
<circle cx="114.61" cy="434.64" r=".75" fill="#9a4040" opacity=".7"/>
<ellipse cx="147" cy="434.3" rx="4.86" ry="7.3" fill="#1d477a" opacity=".8"/>
<ellipse cx="144.25" cy="429.75" rx="4.52" ry="3.54" fill="#d2a696"/>
<ellipse cx="144.92" cy="433.9" rx="4.74" ry="3.54" fill="#ca9a8c"/>
<ellipse cx="144.32" cy="438.05" rx="4.1" ry="3.54" fill="#d9b1a0"/>
<circle cx="142.91" cy="430.9" r="1.87" fill="#e6c9b8" opacity=".7"/>
<circle cx="144.28" cy="436.82" r="1.27" fill="#e6c9b8" opacity=".7"/>
<circle cx="143.13" cy="434.13" r="1.72" fill="#e6c9b8" opacity=".7"/>
<circle cx="144.34" cy="432.97" r=".8" fill="#c07060" opacity=".7"/>
<circle cx="146.47" cy="433.18" r=".72" fill="#a23a3a" opacity=".7"/>
<circle cx="143.2" cy="435.58" r=".93" fill="#b55050" opacity=".7"/>
<circle cx="145.11" cy="433.68" r="1.15" fill="#b55050" opacity=".7"/>
<circle cx="144.99" cy="435.02" r=".85" fill="#b55050" opacity=".7"/>
<circle cx="143.16" cy="438.34" r="1.37" fill="#9a4040" opacity=".7"/>
<ellipse cx="181.7" cy="434.3" rx="4.86" ry="7.3" fill="#1d477a" opacity=".8"/>
<ellipse cx="180.7" cy="429.75" rx="4.1" ry="3.54" fill="#d2a696"/>
<ellipse cx="179.61" cy="433.9" rx="4.75" ry="3.54" fill="#d9b1a0"/>
<ellipse cx="179.94" cy="438.05" rx="4.12" ry="3.54" fill="#d2a696"/>
<circle cx="178.23" cy="431.27" r="1.71" fill="#e6c9b8" opacity=".7"/>
<circle cx="178.57" cy="431.57" r=".89" fill="#e6c9b8" opacity=".7"/>
<circle cx="177.88" cy="433.77" r="1.09" fill="#e6c9b8" opacity=".7"/>
<circle cx="180.49" cy="434.93" r=".9" fill="#c07060" opacity=".7"/>
<circle cx="181.5" cy="433.3" r=".84" fill="#b55050" opacity=".7"/>
<circle cx="179.22" cy="433.94" r="1.04" fill="#b55050" opacity=".7"/>
<circle cx="178.55" cy="436.71" r=".99" fill="#c07060" opacity=".7"/>
<circle cx="181.71" cy="436.54" r=".88" fill="#a23a3a" opacity=".7"/>
<circle cx="178.33" cy="435.91" r=".73" fill="#c07060" opacity=".7"/>
<ellipse cx="212.3" cy="434.3" rx="5.24" ry="7.55" fill="#1d477a" opacity=".8"/>
<ellipse cx="209.93" cy="429.61" rx="5.09" ry="3.66" fill="#d9b1a0"/>
<ellipse cx="210.38" cy="433.9" rx="4.84" ry="3.66" fill="#d9b1a0"/>
<ellipse cx="211.33" cy="438.19" rx="4.51" ry="3.66" fill="#ca9a8c"/>
<circle cx="209.8" cy="435.91" r="1.62" fill="#e6c9b8" opacity=".7"/>
<circle cx="208.92" cy="436.42" r="1.07" fill="#e6c9b8" opacity=".7"/>
<circle cx="208.09" cy="431.27" r="1.39" fill="#e6c9b8" opacity=".7"/>
<circle cx="208.59" cy="433.57" r=".86" fill="#b55050" opacity=".7"/>
<circle cx="208.74" cy="433.3" r=".94" fill="#9a4040" opacity=".7"/>
<circle cx="211.4" cy="437.26" r="1.07" fill="#b55050" opacity=".7"/>
<circle cx="211.09" cy="438.92" r=".96" fill="#9a4040" opacity=".7"/>
<circle cx="211.61" cy="439.2" r=".52" fill="#a23a3a" opacity=".7"/>
<circle cx="210.58" cy="437.54" r=".81" fill="#a23a3a" opacity=".7"/>
<ellipse cx="245.3" cy="433.7" rx="5.24" ry="7.55" fill="#1d477a" opacity=".8"/>
<ellipse cx="242.58" cy="429.01" rx="4.86" ry="3.66" fill="#d9b1a0"/>
<ellipse cx="242.52" cy="433.3" rx="5.18" ry="3.66" fill="#d9b1a0"/>
<ellipse cx="243.8" cy="437.59" rx="5.06" ry="3.66" fill="#ca9a8c"/>
<circle cx="242.15" cy="433.98" r="2" fill="#e6c9b8" opacity=".7"/>
<circle cx="243.78" cy="431.85" r="1.85" fill="#e6c9b8" opacity=".7"/>
<circle cx="243.76" cy="433.08" r="1.63" fill="#e6c9b8" opacity=".7"/>
<circle cx="243.11" cy="435.88" r="1.09" fill="#a23a3a" opacity=".7"/>
<circle cx="241.73" cy="432.54" r=".75" fill="#c07060" opacity=".7"/>
<circle cx="244.74" cy="434.49" r="1.21" fill="#c07060" opacity=".7"/>
<circle cx="243.38" cy="437.71" r=".58" fill="#a23a3a" opacity=".7"/>
<circle cx="242.77" cy="432.34" r=".52" fill="#a23a3a" opacity=".7"/>
<circle cx="243.65" cy="436.11" r="1.39" fill="#9a4040" opacity=".7"/>
<ellipse cx="277.2" cy="432.9" rx="5.24" ry="6.29" fill="#1d477a" opacity=".8"/>
<ellipse cx="276.07" cy="429.98" rx="4.71" ry="4.11" fill="#d2a696"/>
<ellipse cx="275.65" cy="435.02" rx="4.57" ry="4.11" fill="#d2a696"/>
<circle cx="275.31" cy="430.79" r="2.04" fill="#e6c9b8" opacity=".7"/>
<circle cx="274.51" cy="430.12" r="1.34" fill="#e6c9b8" opacity=".7"/>
<circle cx="273.73" cy="432.73" r="1.87" fill="#e6c9b8" opacity=".7"/>
<circle cx="276.76" cy="432.37" r=".71" fill="#b55050" opacity=".7"/>
<circle cx="275.95" cy="433.06" r=".63" fill="#c07060" opacity=".7"/>
<circle cx="274.86" cy="436.52" r=".54" fill="#a23a3a" opacity=".7"/>
<circle cx="277.68" cy="432.83" r=".66" fill="#c07060" opacity=".7"/>
<circle cx="275.43" cy="436.69" r="1.3" fill="#c07060" opacity=".7"/>
<circle cx="276.15" cy="434.12" r=".8" fill="#c07060" opacity=".7"/>
<ellipse cx="115.1" cy="463.4" rx="6.75" ry="10.07" fill="#1d477a" opacity=".8"/>
<ellipse cx="112.75" cy="457.28" rx="6.57" ry="4.88" fill="#ca9a8c"/>
<ellipse cx="114.13" cy="463" rx="5.71" ry="4.88" fill="#d9b1a0"/>
<ellipse cx="112.65" cy="468.72" rx="6.05" ry="4.88" fill="#d9b1a0"/>
<circle cx="113.37" cy="456.84" r="1.06" fill="#e6c9b8" opacity=".7"/>
<circle cx="112" cy="456.9" r="2.42" fill="#e6c9b8" opacity=".7"/>
<circle cx="111.12" cy="458.13" r=".89" fill="#e6c9b8" opacity=".7"/>
<circle cx="114.32" cy="465.14" r="1.3" fill="#9a4040" opacity=".7"/>
<circle cx="116.32" cy="467.41" r=".75" fill="#c07060" opacity=".7"/>
<circle cx="112.06" cy="467.69" r="1.46" fill="#a23a3a" opacity=".7"/>
<circle cx="111.59" cy="463.48" r=".94" fill="#b55050" opacity=".7"/>
<circle cx="112.89" cy="468.44" r="1.66" fill="#a23a3a" opacity=".7"/>
<circle cx="112.99" cy="469.4" r=".99" fill="#c07060" opacity=".7"/>
<ellipse cx="147" cy="462.7" rx="5.94" ry="9.42" fill="#1d477a" opacity=".8"/>
<ellipse cx="145" cy="456.95" rx="5.58" ry="4.56" fill="#d2a696"/>
<ellipse cx="144.83" cy="462.3" rx="5.53" ry="4.56" fill="#d9b1a0"/>
<ellipse cx="145.75" cy="467.65" rx="5.89" ry="4.56" fill="#ca9a8c"/>
<circle cx="143.59" cy="466.09" r=".96" fill="#e6c9b8" opacity=".7"/>
<circle cx="145.51" cy="464.27" r="2.3" fill="#e6c9b8" opacity=".7"/>
<circle cx="142.87" cy="458.75" r="1.43" fill="#e6c9b8" opacity=".7"/>
<circle cx="143.19" cy="463.08" r="1.58" fill="#9a4040" opacity=".7"/>
<circle cx="144.12" cy="466.72" r=".52" fill="#a23a3a" opacity=".7"/>
<circle cx="142.92" cy="463.37" r=".97" fill="#9a4040" opacity=".7"/>
<circle cx="145.33" cy="460.57" r="1.4" fill="#a23a3a" opacity=".7"/>
<circle cx="145.02" cy="460.63" r="1.09" fill="#b55050" opacity=".7"/>
<circle cx="145.24" cy="469.24" r="1.5" fill="#c07060" opacity=".7"/>
<ellipse cx="182.1" cy="463.1" rx="7.83" ry="9.06" fill="#1d477a" opacity=".8"/>
<ellipse cx="181.49" cy="457.55" rx="7.19" ry="4.39" fill="#d9b1a0"/>
<ellipse cx="179" cy="462.7" rx="6.85" ry="4.39" fill="#d9b1a0"/>
<ellipse cx="180.37" cy="467.85" rx="7.62" ry="4.39" fill="#d9b1a0"/>
<circle cx="179.68" cy="461.96" r="2.82" fill="#e6c9b8" opacity=".7"/>
<circle cx="179.31" cy="459.95" r="1.71" fill="#e6c9b8" opacity=".7"/>
<circle cx="180.65" cy="465.57" r="1.3" fill="#e6c9b8" opacity=".7"/>
<circle cx="183.06" cy="469.11" r="1.28" fill="#c07060" opacity=".7"/>
<circle cx="178.48" cy="465.39" r="1.25" fill="#c07060" opacity=".7"/>
<circle cx="177.26" cy="469.12" r="1.27" fill="#c07060" opacity=".7"/>
<circle cx="180.9" cy="469.29" r=".68" fill="#a23a3a" opacity=".7"/>
<circle cx="181.94" cy="461.36" r="1.31" fill="#c07060" opacity=".7"/>
<circle cx="183.56" cy="467.66" r="1.1" fill="#b55050" opacity=".7"/>
<ellipse cx="213.7" cy="462" rx="5.94" ry="9.06" fill="#1d477a" opacity=".8"/>
<ellipse cx="211.74" cy="456.45" rx="5.11" ry="4.39" fill="#ca9a8c"/>
<ellipse cx="212.68" cy="461.6" rx="5.88" ry="4.39" fill="#ca9a8c"/>
<ellipse cx="211.85" cy="466.75" rx="5.09" ry="4.39" fill="#ca9a8c"/>
<circle cx="211.33" cy="464.7" r="1.01" fill="#e6c9b8" opacity=".7"/>
<circle cx="211.9" cy="456.09" r="1.11" fill="#e6c9b8" opacity=".7"/>
<circle cx="209.94" cy="462.43" r="1.32" fill="#e6c9b8" opacity=".7"/>
<circle cx="211.32" cy="465.01" r=".62" fill="#a23a3a" opacity=".7"/>
<circle cx="213.98" cy="465.05" r="1.3" fill="#c07060" opacity=".7"/>
<circle cx="209.55" cy="465.13" r="1.42" fill="#b55050" opacity=".7"/>
<circle cx="212.3" cy="467.11" r="1.09" fill="#b55050" opacity=".7"/>
<circle cx="212.26" cy="467" r="1.18" fill="#b55050" opacity=".7"/>
<circle cx="210.67" cy="466.05" r="1.4" fill="#b55050" opacity=".7"/>
<ellipse cx="246.1" cy="462" rx="7.56" ry="8.36" fill="#1d477a" opacity=".8"/>
<ellipse cx="243.68" cy="456.85" rx="6.73" ry="4.05" fill="#d2a696"/>
<ellipse cx="243.41" cy="461.6" rx="7.56" ry="4.05" fill="#d2a696"/>
<ellipse cx="243.18" cy="466.35" rx="6.64" ry="4.05" fill="#d9b1a0"/>
<circle cx="241.2" cy="459.73" r="1.79" fill="#e6c9b8" opacity=".7"/>
<circle cx="245.07" cy="461.1" r="2.41" fill="#e6c9b8" opacity=".7"/>
<circle cx="241.71" cy="461.85" r="2.62" fill="#e6c9b8" opacity=".7"/>
<circle cx="241.83" cy="464.35" r="1.01" fill="#9a4040" opacity=".7"/>
<circle cx="241.96" cy="463.84" r="1.59" fill="#b55050" opacity=".7"/>
<circle cx="246.64" cy="463.66" r=".53" fill="#c07060" opacity=".7"/>
<circle cx="242.17" cy="461.3" r=".79" fill="#b55050" opacity=".7"/>
<circle cx="247.91" cy="467.18" r=".64" fill="#a23a3a" opacity=".7"/>
<circle cx="242.09" cy="465.23" r=".61" fill="#a23a3a" opacity=".7"/>
<ellipse cx="277.2" cy="464.8" rx="8.1" ry="7.55" fill="#1d477a" opacity=".8"/>
<ellipse cx="274.78" cy="460.11" rx="7.41" ry="3.66" fill="#d9b1a0"/>
<ellipse cx="274.86" cy="464.4" rx="7.08" ry="3.66" fill="#ca9a8c"/>
<ellipse cx="273.84" cy="468.69" rx="7.71" ry="3.66" fill="#d2a696"/>
<circle cx="272.54" cy="463.24" r="2.65" fill="#e6c9b8" opacity=".7"/>
<circle cx="273.62" cy="461.18" r="1.21" fill="#e6c9b8" opacity=".7"/>
<circle cx="274.15" cy="459.75" r="3.03" fill="#e6c9b8" opacity=".7"/>
<circle cx="277.9" cy="467.85" r="1.83" fill="#c07060" opacity=".7"/>
<circle cx="276.21" cy="464.18" r="1.41" fill="#9a4040" opacity=".7"/>
<circle cx="277.93" cy="464.66" r="1.91" fill="#b55050" opacity=".7"/>
<circle cx="278" cy="465.71" r="1.89" fill="#9a4040" opacity=".7"/>
<circle cx="277.65" cy="468.29" r="1.13" fill="#b55050" opacity=".7"/>
<circle cx="272.57" cy="465.25" r="1.23" fill="#a23a3a" opacity=".7"/>
<ellipse cx="115.8" cy="492.5" rx="6.37" ry="8.06" fill="#1d477a" opacity=".8"/>
<ellipse cx="114.82" cy="487.52" rx="6.36" ry="3.9" fill="#d9b1a0"/>
<ellipse cx="112.84" cy="492.1" rx="5.63" ry="3.9" fill="#d9b1a0"/>
<ellipse cx="113.43" cy="496.68" rx="5.57" ry="3.9" fill="#ca9a8c"/>
<circle cx="113.21" cy="491.53" r="1.5" fill="#e6c9b8" opacity=".7"/>
<circle cx="114.86" cy="492.46" r="2.06" fill="#e6c9b8" opacity=".7"/>
<circle cx="113.94" cy="495.32" r=".84" fill="#e6c9b8" opacity=".7"/>
<circle cx="114.88" cy="496.04" r=".81" fill="#c07060" opacity=".7"/>
<circle cx="114.25" cy="496.21" r="1.28" fill="#a23a3a" opacity=".7"/>
<circle cx="111.92" cy="492.32" r="1.58" fill="#c07060" opacity=".7"/>
<circle cx="116.9" cy="494.74" r="1.69" fill="#c07060" opacity=".7"/>
<circle cx="115.99" cy="490.99" r="1.22" fill="#a23a3a" opacity=".7"/>
<circle cx="113.57" cy="497.57" r=".96" fill="#b55050" opacity=".7"/>
<ellipse cx="147.7" cy="493.9" rx="5.24" ry="8.06" fill="#1d477a" opacity=".8"/>
<ellipse cx="146.49" cy="488.92" rx="4.85" ry="3.9" fill="#d9b1a0"/>
<ellipse cx="144.94" cy="493.5" rx="5.19" ry="3.9" fill="#ca9a8c"/>
<ellipse cx="145.38" cy="498.08" rx="4.73" ry="3.9" fill="#ca9a8c"/>
<circle cx="144.59" cy="490.84" r="1.67" fill="#e6c9b8" opacity=".7"/>
<circle cx="145.2" cy="490.82" r="1.76" fill="#e6c9b8" opacity=".7"/>
<circle cx="144.37" cy="488.53" r="1.13" fill="#e6c9b8" opacity=".7"/>
<circle cx="143.91" cy="493" r="1.23" fill="#c07060" opacity=".7"/>
<circle cx="143.95" cy="494.21" r=".88" fill="#9a4040" opacity=".7"/>
<circle cx="144.05" cy="498.72" r=".92" fill="#c07060" opacity=".7"/>
<circle cx="144.89" cy="497.57" r=".54" fill="#a23a3a" opacity=".7"/>
<circle cx="148.12" cy="497.32" r=".95" fill="#b55050" opacity=".7"/>
<circle cx="146.55" cy="492.68" r="1.1" fill="#c07060" opacity=".7"/>
<ellipse cx="182.3" cy="494.2" rx="4.48" ry="8.06" fill="#1d477a" opacity=".8"/>
<ellipse cx="179.77" cy="489.22" rx="4.38" ry="3.9" fill="#ca9a8c"/>
<ellipse cx="180.45" cy="493.8" rx="3.85" ry="3.9" fill="#ca9a8c"/>
<ellipse cx="179.8" cy="498.38" rx="4.06" ry="3.9" fill="#d9b1a0"/>
<circle cx="179.09" cy="493.65" r="1.23" fill="#e6c9b8" opacity=".7"/>
<circle cx="180.48" cy="493.21" r="1.82" fill="#e6c9b8" opacity=".7"/>
<circle cx="180.94" cy="494.94" r="1.04" fill="#e6c9b8" opacity=".7"/>
<circle cx="179.07" cy="498.92" r="1.14" fill="#9a4040" opacity=".7"/>
<circle cx="179.72" cy="496.76" r="1.09" fill="#b55050" opacity=".7"/>
<circle cx="181.16" cy="497.85" r=".65" fill="#b55050" opacity=".7"/>
<circle cx="180.63" cy="497.09" r=".66" fill="#a23a3a" opacity=".7"/>
<circle cx="181.14" cy="492.18" r=".71" fill="#a23a3a" opacity=".7"/>
<circle cx="181.12" cy="492.89" r=".94" fill="#a23a3a" opacity=".7"/>
<ellipse cx="215.1" cy="493.1" rx="5.24" ry="7.55" fill="#1d477a" opacity=".8"/>
<ellipse cx="213.7" cy="488.41" rx="5.16" ry="3.66" fill="#d2a696"/>
<ellipse cx="213.3" cy="492.7" rx="4.93" ry="3.66" fill="#ca9a8c"/>
<ellipse cx="213.17" cy="496.99" rx="4.7" ry="3.66" fill="#ca9a8c"/>
<circle cx="211.92" cy="493.85" r="1.92" fill="#e6c9b8" opacity=".7"/>
<circle cx="211.08" cy="488.88" r="1.88" fill="#e6c9b8" opacity=".7"/>
<circle cx="212.8" cy="494.04" r="1.08" fill="#e6c9b8" opacity=".7"/>
<circle cx="213.11" cy="492.96" r="1.28" fill="#9a4040" opacity=".7"/>
<circle cx="211.83" cy="497.09" r="1.08" fill="#9a4040" opacity=".7"/>
<circle cx="213.69" cy="496.45" r="1.39" fill="#c07060" opacity=".7"/>
<circle cx="214.19" cy="495.26" r=".95" fill="#9a4040" opacity=".7"/>
<circle cx="211.47" cy="491.7" r="1.05" fill="#c07060" opacity=".7"/>
<circle cx="214.95" cy="494.43" r="1.3" fill="#a23a3a" opacity=".7"/>
<ellipse cx="246.1" cy="493.1" rx="5.94" ry="6.29" fill="#1d477a" opacity=".8"/>
<ellipse cx="243.27" cy="490.18" rx="5.19" ry="4.11" fill="#d9b1a0"/>
<ellipse cx="244.43" cy="495.22" rx="5.65" ry="4.11" fill="#ca9a8c"/>
<circle cx="244.11" cy="493.32" r="1.26" fill="#e6c9b8" opacity=".7"/>
<circle cx="242.04" cy="491.1" r="1.98" fill="#e6c9b8" opacity=".7"/>
<circle cx="242.83" cy="489.5" r="1.95" fill="#e6c9b8" opacity=".7"/>
<circle cx="244.87" cy="496.85" r="1.54" fill="#9a4040" opacity=".7"/>
<circle cx="244.17" cy="496.16" r=".84" fill="#9a4040" opacity=".7"/>
<circle cx="243.01" cy="497.15" r="1.31" fill="#b55050" opacity=".7"/>
<circle cx="242.27" cy="496.32" r=".53" fill="#c07060" opacity=".7"/>
<circle cx="244.95" cy="496.12" r="1.32" fill="#9a4040" opacity=".7"/>
<circle cx="246.09" cy="494.6" r="1.43" fill="#b55050" opacity=".7"/>
<ellipse cx="277.2" cy="494.7" rx="5.67" ry="5.54" fill="#1d477a" opacity=".8"/>
<ellipse cx="274.62" cy="492.08" rx="5.45" ry="3.61" fill="#ca9a8c"/>
<ellipse cx="275.95" cy="496.52" rx="4.96" ry="3.61" fill="#d2a696"/>
<circle cx="274.6" cy="494.11" r="2.26" fill="#e6c9b8" opacity=".7"/>
<circle cx="274.96" cy="495.49" r=".9" fill="#e6c9b8" opacity=".7"/>
<circle cx="274.61" cy="495.4" r=".93" fill="#e6c9b8" opacity=".7"/>
<circle cx="273.45" cy="497" r="1.45" fill="#a23a3a" opacity=".7"/>
<circle cx="273.16" cy="496.56" r=".6" fill="#c07060" opacity=".7"/>
<circle cx="274.28" cy="494.29" r="1.31" fill="#9a4040" opacity=".7"/>
<circle cx="276.93" cy="495.2" r=".86" fill="#9a4040" opacity=".7"/>
<circle cx="276.46" cy="495.72" r="1.07" fill="#a23a3a" opacity=".7"/>
<circle cx="276.65" cy="497.93" r=".93" fill="#9a4040" opacity=".7"/>
<ellipse cx="117.2" cy="521" rx="4.1" ry="4.53" fill="#1d477a" opacity=".8"/>
<ellipse cx="115.84" cy="518.79" rx="3.98" ry="2.96" fill="#d2a696"/>
<ellipse cx="115.89" cy="522.41" rx="4.08" ry="2.96" fill="#d9b1a0"/>
<circle cx="113.51" cy="519.46" r=".81" fill="#e6c9b8" opacity=".7"/>
<circle cx="113.72" cy="522.14" r="1.6" fill="#e6c9b8" opacity=".7"/>
<circle cx="114.06" cy="518.51" r="1.35" fill="#e6c9b8" opacity=".7"/>
<circle cx="116.19" cy="521.02" r=".79" fill="#9a4040" opacity=".7"/>
<circle cx="114.67" cy="523.45" r=".85" fill="#a23a3a" opacity=".7"/>
<circle cx="114.78" cy="520.31" r="1.18" fill="#a23a3a" opacity=".7"/>
<circle cx="116.44" cy="519.72" r=".85" fill="#a23a3a" opacity=".7"/>
<circle cx="114.81" cy="520.49" r=".76" fill="#b55050" opacity=".7"/>
<circle cx="115.87" cy="521.67" r=".87" fill="#c07060" opacity=".7"/>
<ellipse cx="150.4" cy="520.3" rx="4.48" ry="4.88" fill="#1d477a" opacity=".8"/>
<ellipse cx="147.98" cy="517.95" rx="3.97" ry="3.19" fill="#d2a696"/>
<ellipse cx="149.18" cy="521.85" rx="4.44" ry="3.19" fill="#d9b1a0"/>
<circle cx="147.96" cy="521.02" r="1.29" fill="#e6c9b8" opacity=".7"/>
<circle cx="147.18" cy="521.38" r="1.74" fill="#e6c9b8" opacity=".7"/>
<circle cx="147.4" cy="519.63" r="1.78" fill="#e6c9b8" opacity=".7"/>
<circle cx="148.65" cy="519.89" r=".54" fill="#b55050" opacity=".7"/>
<circle cx="149.94" cy="520.65" r=".93" fill="#9a4040" opacity=".7"/>
<circle cx="149.88" cy="519.14" r="1.25" fill="#a23a3a" opacity=".7"/>
<circle cx="150.23" cy="523.06" r=".87" fill="#b55050" opacity=".7"/>
<circle cx="149.58" cy="521.68" r=".63" fill="#b55050" opacity=".7"/>
<circle cx="149.82" cy="519.54" r="1.24" fill="#b55050" opacity=".7"/>
<ellipse cx="182.3" cy="520.5" rx="3.78" ry="4.18" fill="#1d477a" opacity=".8"/>
<ellipse cx="180.59" cy="518.43" rx="3.78" ry="2.73" fill="#ca9a8c"/>
<ellipse cx="180.42" cy="521.77" rx="3.21" ry="2.73" fill="#d9b1a0"/>
<circle cx="180.45" cy="517.47" r="1.41" fill="#e6c9b8" opacity=".7"/>
<circle cx="180.62" cy="521.08" r=".86" fill="#e6c9b8" opacity=".7"/>
<circle cx="179.31" cy="520.61" r=".87" fill="#e6c9b8" opacity=".7"/>
<circle cx="180.52" cy="521.08" r="1.14" fill="#9a4040" opacity=".7"/>
<circle cx="178.95" cy="519.96" r=".63" fill="#a23a3a" opacity=".7"/>
<circle cx="181.55" cy="520.96" r=".52" fill="#c07060" opacity=".7"/>
<circle cx="180.68" cy="519.84" r="1.06" fill="#9a4040" opacity=".7"/>
<circle cx="179.96" cy="520.83" r=".87" fill="#c07060" opacity=".7"/>
<circle cx="181.16" cy="519.49" r=".55" fill="#b55050" opacity=".7"/>
<ellipse cx="215.6" cy="518" rx="4.21" ry="5.54" fill="#1d477a" opacity=".8"/>
<ellipse cx="213.08" cy="515.38" rx="3.8" ry="3.61" fill="#ca9a8c"/>
<ellipse cx="214.08" cy="519.82" rx="4.07" ry="3.61" fill="#d2a696"/>
<circle cx="213.46" cy="514.17" r="1.15" fill="#e6c9b8" opacity=".7"/>
<circle cx="213.6" cy="515.49" r="1.32" fill="#e6c9b8" opacity=".7"/>
<circle cx="212.96" cy="514.16" r="1.71" fill="#e6c9b8" opacity=".7"/>
<circle cx="215.05" cy="517.52" r=".97" fill="#9a4040" opacity=".7"/>
<circle cx="214.39" cy="521.35" r="1.07" fill="#9a4040" opacity=".7"/>
<circle cx="214.88" cy="519.35" r=".57" fill="#b55050" opacity=".7"/>
<circle cx="212.77" cy="520.27" r=".75" fill="#9a4040" opacity=".7"/>
<circle cx="214.15" cy="520.23" r=".75" fill="#c07060" opacity=".7"/>
<circle cx="212.36" cy="517.17" r=".57" fill="#b55050" opacity=".7"/>
<ellipse cx="244.8" cy="518" rx="4.21" ry="3.93" fill="#1d477a" opacity=".8"/>
<ellipse cx="242.4" cy="516.03" rx="3.81" ry="2.56" fill="#ca9a8c"/>
<ellipse cx="243.04" cy="519.17" rx="3.6" ry="2.56" fill="#d2a696"/>
<circle cx="241.09" cy="519.2" r="1.2" fill="#e6c9b8" opacity=".7"/>
<circle cx="242.95" cy="516.53" r="1.55" fill="#e6c9b8" opacity=".7"/>
<circle cx="243.35" cy="515.69" r=".99" fill="#e6c9b8" opacity=".7"/>
<circle cx="241.78" cy="519.35" r=".87" fill="#c07060" opacity=".7"/>
<circle cx="243.58" cy="519.48" r=".96" fill="#9a4040" opacity=".7"/>
<circle cx="244.94" cy="519.71" r="1" fill="#a23a3a" opacity=".7"/>
<circle cx="242.2" cy="517.48" r=".73" fill="#c07060" opacity=".7"/>
<circle cx="241.62" cy="518.18" r=".89" fill="#9a4040" opacity=".7"/>
<circle cx="244.34" cy="519.05" r=".62" fill="#9a4040" opacity=".7"/>
<ellipse cx="277.2" cy="517.5" rx="3.24" ry="3.93" fill="#1d477a" opacity=".8"/>
<ellipse cx="275.36" cy="515.53" rx="2.9" ry="2.56" fill="#d9b1a0"/>
<ellipse cx="275.32" cy="518.67" rx="3.02" ry="2.56" fill="#d2a696"/>
<circle cx="275.76" cy="516.75" r="1.17" fill="#e6c9b8" opacity=".7"/>
<circle cx="275.47" cy="515.43" r="1.29" fill="#e6c9b8" opacity=".7"/>
<circle cx="275.06" cy="515.44" r=".84" fill="#e6c9b8" opacity=".7"/>
<circle cx="274.72" cy="518.42" r=".89" fill="#9a4040" opacity=".7"/>
<circle cx="274.27" cy="519.52" r=".65" fill="#a23a3a" opacity=".7"/>
<circle cx="275.32" cy="518.99" r=".63" fill="#a23a3a" opacity=".7"/>
<circle cx="275.64" cy="517.26" r="1.01" fill="#9a4040" opacity=".7"/>
<circle cx="275.76" cy="516.73" r=".96" fill="#9a4040" opacity=".7"/>
<circle cx="276" cy="517.63" r=".92" fill="#9a4040" opacity=".7"/>
</g></g>
<text x="276.3" y="528.9" font-size="5.6" font-style="italic" fill="#16161c" text-anchor="middle" textLength="10.6" lengthAdjust="spacingAndGlyphs" style="stroke:#16161c;stroke-width:.15px">1cm</text>
<line x1="272.6" y1="531" x2="278.8" y2="531" stroke="#1a2030" stroke-width=".6" opacity=".6"/>
</g>
<g id="panelH">
<text x="298.6" y="421.06" font-size="17.5" class="pl">H</text>
<rect x="334.6" y="501.51" width="14.6" height="25.49" fill="#808080"/>
<rect x="356.5" y="470.41" width="14.3" height="56.59" fill="#94c3d6"/>
<rect x="377.8" y="504.51" width="14.4" height="22.49" fill="#3c5084"/>
<rect x="399.5" y="520.63" width="14.3" height="6.37" fill="#eed2b2"/>
<line x1="327.7" y1="432.85" x2="327.7" y2="527.45" stroke="#231815" stroke-width=".9"/>
<line x1="327.25" y1="527" x2="420.8" y2="527" stroke="#231815" stroke-width=".9"/>
<line x1="323.1" y1="527" x2="327.7" y2="527" stroke="#231815" stroke-width=".9"/>
<text x="322.2" y="529.4" font-size="6.7" text-anchor="end">0.0</text>
<line x1="323.1" y1="508.26" x2="327.7" y2="508.26" stroke="#231815" stroke-width=".9"/>
<text x="322.2" y="510.66" font-size="6.7" text-anchor="end">0.5</text>
<line x1="323.1" y1="489.52" x2="327.7" y2="489.52" stroke="#231815" stroke-width=".9"/>
<text x="322.2" y="491.92" font-size="6.7" text-anchor="end">1.0</text>
<line x1="323.1" y1="470.78" x2="327.7" y2="470.78" stroke="#231815" stroke-width=".9"/>
<text x="322.2" y="473.18" font-size="6.7" text-anchor="end">1.5</text>
<line x1="323.1" y1="452.04" x2="327.7" y2="452.04" stroke="#231815" stroke-width=".9"/>
<text x="322.2" y="454.44" font-size="6.7" text-anchor="end">2.0</text>
<line x1="323.1" y1="433.3" x2="327.7" y2="433.3" stroke="#231815" stroke-width=".9"/>
<text x="322.2" y="435.7" font-size="6.7" text-anchor="end">2.5</text>
<line x1="341.9" y1="527" x2="341.9" y2="531" stroke="#231815" stroke-width=".9"/>
<line x1="341.9" y1="510.88" x2="341.9" y2="492.14" stroke="#231815" stroke-width=".7"/>
<line x1="338.2" y1="510.88" x2="345.6" y2="510.88" stroke="#231815" stroke-width=".7"/>
<line x1="338.2" y1="492.14" x2="345.6" y2="492.14" stroke="#231815" stroke-width=".7"/>
<circle cx="341.9" cy="485.4" r="1.9"/>
<circle cx="338.9" cy="503.76" r="1.9"/>
<circle cx="344.9" cy="503.01" r="1.9"/>
<circle cx="341.9" cy="500.01" r="1.9"/>
<circle cx="339.4" cy="508.26" r="1.9"/>
<circle cx="344.4" cy="509.01" r="1.9"/>
<line x1="363.65" y1="527" x2="363.65" y2="531" stroke="#231815" stroke-width=".9"/>
<line x1="363.65" y1="483.15" x2="363.65" y2="458.04" stroke="#231815" stroke-width=".7"/>
<line x1="359.95" y1="483.15" x2="367.35" y2="483.15" stroke="#231815" stroke-width=".7"/>
<line x1="359.95" y1="458.04" x2="367.35" y2="458.04" stroke="#231815" stroke-width=".7"/>
<path d="M363.65 448.73l2.18 3.8h-4.37z"/>
<path d="M363.65 461.85l2.18 3.8h-4.37z"/>
<path d="M363.65 468.59l2.18 3.8h-4.37z"/>
<path d="M363.65 472.34l2.18 3.8h-4.37z"/>
<path d="M363.65 479.09l2.18 3.8h-4.37z"/>
<path d="M363.65 481.71l2.18 3.8h-4.37z"/>
<line x1="385" y1="527" x2="385" y2="531" stroke="#231815" stroke-width=".9"/>
<line x1="385" y1="515.38" x2="385" y2="493.27" stroke="#231815" stroke-width=".7"/>
<line x1="381.3" y1="515.38" x2="388.7" y2="515.38" stroke="#231815" stroke-width=".7"/>
<line x1="381.3" y1="493.27" x2="388.7" y2="493.27" stroke="#231815" stroke-width=".7"/>
<path d="M385 481.9l2.38 2.38l-2.38 2.38l-2.38 -2.38z"/>
<path d="M385 500.64l2.38 2.38l-2.38 2.38l-2.38 -2.38z"/>
<path d="M382.5 504.01l2.38 2.38l-2.38 2.38l-2.38 -2.38z"/>
<path d="M387.5 503.26l2.38 2.38l-2.38 2.38l-2.38 -2.38z"/>
<path d="M385 508.88l2.38 2.38l-2.38 2.38l-2.38 -2.38z"/>
<path d="M385 512.26l2.38 2.38l-2.38 2.38l-2.38 -2.38z"/>
<line x1="406.65" y1="527" x2="406.65" y2="531" stroke="#231815" stroke-width=".9"/>
<line x1="406.65" y1="522.5" x2="406.65" y2="517.63" stroke="#231815" stroke-width=".7"/>
<line x1="402.95" y1="522.5" x2="410.35" y2="522.5" stroke="#231815" stroke-width=".7"/>
<line x1="402.95" y1="517.63" x2="410.35" y2="517.63" stroke="#231815" stroke-width=".7"/>
<rect x="399.84" y="517.7" width="3.61" height="3.61"/>
<rect x="402.34" y="516.95" width="3.61" height="3.61"/>
<rect x="404.84" y="517.7" width="3.61" height="3.61"/>
<rect x="407.34" y="515.45" width="3.61" height="3.61"/>
<rect x="409.84" y="517.7" width="3.61" height="3.61"/>
<rect x="404.84" y="519.57" width="3.61" height="3.61"/>
<text x="305.2" y="482.72" font-size="7.6" text-anchor="middle" transform="rotate(-90 305.2 480)">Tumor Volume (cm<tspan font-size="4.6" dy="-3">3</tspan><tspan dy="3">)</tspan></text>
<line x1="341.9" y1="442.4" x2="363.2" y2="442.4" stroke="#231815" stroke-width=".8"/>
<text x="352.55" y="441.86" font-size="8.3" text-anchor="middle" class="st">***</text>
<line x1="363.8" y1="432.4" x2="384.9" y2="432.4" stroke="#231815" stroke-width=".8"/>
<text x="374.35" y="431.86" font-size="8.3" text-anchor="middle" class="st">***</text>
<line x1="385.1" y1="472.2" x2="406.2" y2="472.2" stroke="#231815" stroke-width=".8"/>
<text x="395.65" y="471.66" font-size="8.3" text-anchor="middle" class="st">**</text>
<circle cx="423.1" cy="432.4" r="1.4" fill="#3c5084"/>
<text x="428.9" y="434.4" font-size="5.6" textLength="7.2" lengthAdjust="spacingAndGlyphs" class="sm">PL</text>
<circle cx="423.1" cy="445.3" r="1.4" fill="#94c3d6"/>
<text x="428.9" y="447.3" font-size="5.6" textLength="7.6" lengthAdjust="spacingAndGlyphs" class="sm">CL</text>
<circle cx="423.1" cy="458.4" r="1.4" fill="#eed2b2"/>
<text x="428.9" y="460.4" font-size="5.6" textLength="45.5" lengthAdjust="spacingAndGlyphs" class="sm">CL + Scr BMDMs</text>
<circle cx="423.1" cy="471.3" r="1.4" fill="#808080"/>
<text x="428.9" y="473.3" font-size="5.6" textLength="61.6" lengthAdjust="spacingAndGlyphs" class="sm">CL + siTREM2 BMDMs</text>
</g>
<g id="panelI">
<text x="495.4" y="421.06" font-size="17.5" class="pl">I</text>
<rect x="528.2" y="495.5" width="14.6" height="31.8" fill="#808080"/>
<rect x="549.8" y="460.54" width="14.6" height="66.76" fill="#94c3d6"/>
<rect x="572" y="497.88" width="14.6" height="29.42" fill="#3c5084"/>
<rect x="593.9" y="519.76" width="14.6" height="7.54" fill="#eed2b2"/>
<line x1="520.6" y1="432.55" x2="520.6" y2="527.75" stroke="#231815" stroke-width=".9"/>
<line x1="520.15" y1="527.3" x2="615.5" y2="527.3" stroke="#231815" stroke-width=".9"/>
<line x1="516" y1="527.3" x2="520.6" y2="527.3" stroke="#231815" stroke-width=".9"/>
<text x="515.1" y="529.7" font-size="6.7" text-anchor="end">0.0</text>
<line x1="516" y1="508.44" x2="520.6" y2="508.44" stroke="#231815" stroke-width=".9"/>
<text x="515.1" y="510.84" font-size="6.7" text-anchor="end">0.5</text>
<line x1="516" y1="489.58" x2="520.6" y2="489.58" stroke="#231815" stroke-width=".9"/>
<text x="515.1" y="491.98" font-size="6.7" text-anchor="end">1.0</text>
<line x1="516" y1="470.72" x2="520.6" y2="470.72" stroke="#231815" stroke-width=".9"/>
<text x="515.1" y="473.12" font-size="6.7" text-anchor="end">1.5</text>
<line x1="516" y1="451.86" x2="520.6" y2="451.86" stroke="#231815" stroke-width=".9"/>
<text x="515.1" y="454.26" font-size="6.7" text-anchor="end">2.0</text>
<line x1="516" y1="433" x2="520.6" y2="433" stroke="#231815" stroke-width=".9"/>
<text x="515.1" y="435.4" font-size="6.7" text-anchor="end">2.5</text>
<line x1="535.5" y1="527.3" x2="535.5" y2="531.3" stroke="#231815" stroke-width=".9"/>
<line x1="535.5" y1="503.54" x2="535.5" y2="487.32" stroke="#231815" stroke-width=".7"/>
<line x1="531.8" y1="503.54" x2="539.2" y2="503.54" stroke="#231815" stroke-width=".7"/>
<line x1="531.8" y1="487.32" x2="539.2" y2="487.32" stroke="#231815" stroke-width=".7"/>
<circle cx="535.5" cy="481.28" r="1.9"/>
<circle cx="532.5" cy="497.12" r="1.9"/>
<circle cx="538.5" cy="496.37" r="1.9"/>
<circle cx="535.5" cy="493.35" r="1.9"/>
<circle cx="533" cy="501.65" r="1.9"/>
<circle cx="538" cy="502.4" r="1.9"/>
<line x1="557.1" y1="527.3" x2="557.1" y2="531.3" stroke="#231815" stroke-width=".9"/>
<line x1="557.1" y1="471.47" x2="557.1" y2="449.97" stroke="#231815" stroke-width=".7"/>
<line x1="553.4" y1="471.47" x2="560.8" y2="471.47" stroke="#231815" stroke-width=".7"/>
<line x1="553.4" y1="449.97" x2="560.8" y2="449.97" stroke="#231815" stroke-width=".7"/>
<path d="M557.1 440.62l2.18 3.8h-4.37z"/>
<path d="M554.1 454.96l2.18 3.8h-4.37z"/>
<path d="M560.1 455.71l2.18 3.8h-4.37z"/>
<path d="M557.1 460.99l2.18 3.8h-4.37z"/>
<path d="M554.1 468.53l2.18 3.8h-4.37z"/>
<path d="M560.1 468.53l2.18 3.8h-4.37z"/>
<line x1="579.3" y1="527.3" x2="579.3" y2="531.3" stroke="#231815" stroke-width=".9"/>
<line x1="579.3" y1="510.7" x2="579.3" y2="485.43" stroke="#231815" stroke-width=".7"/>
<line x1="575.6" y1="510.7" x2="583" y2="510.7" stroke="#231815" stroke-width=".7"/>
<line x1="575.6" y1="485.43" x2="583" y2="485.43" stroke="#231815" stroke-width=".7"/>
<path d="M579.3 473.25l2.38 2.38l-2.38 2.38l-2.38 -2.38z"/>
<path d="M579.3 494.75l2.38 2.38l-2.38 2.38l-2.38 -2.38z"/>
<path d="M576.3 498.52l2.38 2.38l-2.38 2.38l-2.38 -2.38z"/>
<path d="M582.3 497.77l2.38 2.38l-2.38 2.38l-2.38 -2.38z"/>
<path d="M579.3 504.18l2.38 2.38l-2.38 2.38l-2.38 -2.38z"/>
<path d="M579.3 507.95l2.38 2.38l-2.38 2.38l-2.38 -2.38z"/>
<line x1="601.2" y1="527.3" x2="601.2" y2="531.3" stroke="#231815" stroke-width=".9"/>
<line x1="601.2" y1="522.02" x2="601.2" y2="514.48" stroke="#231815" stroke-width=".7"/>
<line x1="597.5" y1="522.02" x2="604.9" y2="522.02" stroke="#231815" stroke-width=".7"/>
<line x1="597.5" y1="514.48" x2="604.9" y2="514.48" stroke="#231815" stroke-width=".7"/>
<rect x="594.4" y="517.95" width="3.61" height="3.61"/>
<rect x="596.9" y="514.93" width="3.61" height="3.61"/>
<rect x="599.4" y="513.42" width="3.61" height="3.61"/>
<rect x="601.9" y="517.2" width="3.61" height="3.61"/>
<rect x="604.4" y="515.69" width="3.61" height="3.61"/>
<rect x="599.4" y="517.95" width="3.61" height="3.61"/>
<text x="498.9" y="482.92" font-size="7.6" text-anchor="middle" textLength="62.8" lengthAdjust="spacingAndGlyphs" transform="rotate(-90 498.9 480.2)">Tumor Weight (g)</text>
<line x1="535.5" y1="434.2" x2="557.1" y2="434.2" stroke="#231815" stroke-width=".8"/>
<text x="546.3" y="433.66" font-size="8.3" text-anchor="middle" class="st">***</text>
<line x1="557.4" y1="424.3" x2="579" y2="424.3" stroke="#231815" stroke-width=".8"/>
<text x="568.2" y="423.76" font-size="8.3" text-anchor="middle" class="st">****</text>
<line x1="579.3" y1="467.2" x2="600.9" y2="467.2" stroke="#231815" stroke-width=".8"/>
<text x="590.1" y="466.66" font-size="8.3" text-anchor="middle" class="st">**</text>
<circle cx="617.8" cy="432.4" r="1.4" fill="#3c5084"/>
<text x="624.3" y="434.4" font-size="5.6" textLength="7.2" lengthAdjust="spacingAndGlyphs" class="sm">PL</text>
<circle cx="617.8" cy="445.3" r="1.4" fill="#94c3d6"/>
<text x="624.3" y="447.3" font-size="5.6" textLength="7.6" lengthAdjust="spacingAndGlyphs" class="sm">CL</text>
<circle cx="617.8" cy="458.4" r="1.4" fill="#eed2b2"/>
<text x="624.3" y="460.4" font-size="5.6" textLength="45.5" lengthAdjust="spacingAndGlyphs" class="sm">CL + Scr BMDMs</text>
<circle cx="617.8" cy="471.3" r="1.4" fill="#808080"/>
<text x="624.3" y="473.3" font-size="5.6" textLength="61.6" lengthAdjust="spacingAndGlyphs" class="sm">CL + siTREM2 BMDMs</text>
</g>
<g id="panelJ">
<text x="1" y="565.66" font-size="17.5" class="pl">J</text>
<text x="38.2" y="565.64" font-size="8.2" text-anchor="middle">CM</text>
<text x="71.9" y="565.67" font-size="8.3" text-anchor="middle" textLength="26.5" lengthAdjust="spacingAndGlyphs">Vector</text>
<text x="132.7" y="565.67" font-size="8.3" text-anchor="middle" textLength="28.5" lengthAdjust="spacingAndGlyphs">TREM2</text>
<text x="71.9" y="626.04" font-size="8.5" text-anchor="middle" textLength="38.3" lengthAdjust="spacingAndGlyphs">Scramble</text>
<text x="132.4" y="626.04" font-size="8.5" text-anchor="middle" textLength="15" lengthAdjust="spacingAndGlyphs">Sh1</text>
<text x="37.7" y="627.07" font-size="8.3" text-anchor="middle" transform="rotate(-90 37.7 624.1)">AGS</text>
<rect x="48.5" y="632" width="47.5" height="47.5" fill="#f7f8f5"/>
<circle cx="71.9" cy="594" r="23.5" fill="#e3e6de"/>
<circle cx="71.9" cy="594" r="23.1" fill="none" stroke="#d4d8da" stroke-width=".6" opacity=".6"/>
<path d="M85.54 609.34h.01M56.96 594.43h.01M75.02 596.09h.01M71.98 592.98h.01M88.1 596.61h.01M75.85 612.57h.01M57.38 599.97h.01M80.6 579.82h.01M93.2 593h.01M68.55 575.49h.01M80.7 578h.01M87.07 580.19h.01M82.63 596.36h.01M79.58 608.62h.01M61.47 604.47h.01M89.91 599.05h.01M64.68 599.7h.01M74.01 577.75h.01M50.22 592.12h.01M76.14 574.25h.01M77.73 579.04h.01M91.42 601.18h.01M56.38 593.54h.01M54.8 589.78h.01M82.42 595.87h.01M84.7 578.73h.01M74.58 594.28h.01M80.61 607.65h.01M68.31 579.4h.01M85.61 596.05h.01M88.3 607.36h.01M83.35 609.05h.01M64.72 579.19h.01M76.64 578.69h.01M58.54 604.38h.01M83.26 598.4h.01M64.73 613.38h.01M75.04 591h.01M63.55 590.05h.01M67.37 578.75h.01M76.92 611.61h.01M86.32 605.1h.01M75.78 606.16h.01M66.43 602.72h.01M83.81 588.6h.01M49.87 596.15h.01M79.82 598.66h.01M72.89 576.75h.01M65.43 604.15h.01M92.49 587.92h.01M85.33 604.32h.01M76.71 574.28h.01M74.63 580.56h.01M81.93 599.66h.01M85.35 587.16h.01M87.99 608.2h.01M90.83 592.59h.01M73.02 614.68h.01M56.05 609.21h.01M71.49 613.27h.01M74.12 594.56h.01M75.7 611.11h.01M65.03 577.21h.01M65.54 610.89h.01M86.74 592.44h.01M84.88 588.93h.01M63.54 612.75h.01M63.59 608.2h.01M55.67 588.59h.01M66.86 613.2h.01M80.71 591.09h.01M79.91 577.4h.01M75.26 591.88h.01M78.95 573.96h.01M68.41 585.26h.01M91.42 589.43h.01M80.82 581.93h.01M71.73 597.48h.01M79.92 602.03h.01M56.37 591.17h.01M64.49 576.43h.01M61.41 595.4h.01M89.71 582.21h.01M77.59 595.78h.01M82.41 610.44h.01M64.64 574.78h.01M70.43 576.87h.01M88.23 589.82h.01M64.04 576.83h.01M82.42 611.74h.01M78.19 577.48h.01M79.95 591.9h.01M61.87 578.26h.01M85.46 591.52h.01M81.32 609.88h.01M79.35 592.06h.01M80.84 602.19h.01M59.82 581.54h.01M68.34 610.03h.01M71.8 612.44h.01M88.14 591.28h.01M73.91 577.28h.01M88.27 607.23h.01M50.88 587.85h.01M82.21 605.94h.01M57.92 599.3h.01M75.71 575.96h.01M59.1 606.39h.01M54.82 581.89h.01M87 592.77h.01M71.15 571.85h.01M60.74 603.34h.01M55.42 584.33h.01M52.66 594.88h.01M62.14 583.65h.01M90.11 586.41h.01M78.82 578.09h.01M66.46 573.87h.01M52.7 592.76h.01M70.17 591.39h.01M66.73 580.84h.01M74.5 603.83h.01M90.02 603.21h.01M52.81 592.62h.01M67.32 574.4h.01M73.77 610.6h.01M80.47 584.49h.01M66.19 573.54h.01M62.89 585.27h.01M74.04 584.52h.01M86.54 591.5h.01M84.1 608.39h.01M73.03 612.86h.01M73.93 598.84h.01M72.77 598.06h.01M88.92 590.1h.01M86.96 607.8h.01M58.2 594.43h.01M78.37 580.28h.01M69.1 581.5h.01M76.69 593.83h.01M66.06 606.51h.01M54.98 606.3h.01M86.29 585.33h.01M89.46 600.59h.01M75.02 596.01h.01M63.97 575.09h.01M56.98 577.89h.01M91.94 601.96h.01M63.25 605.42h.01M55.77 602.33h.01M68.41 574.98h.01M84.35 611.37h.01M78.27 596.19h.01M56.82 610.01h.01M64.42 596.78h.01M77.25 577.67h.01M69.89 575.71h.01M79.12 574.68h.01M72.38 610.64h.01M63.32 581.78h.01M81.38 577.91h.01M77.81 583.51h.01M65 593.08h.01M91.28 599.44h.01M67.94 606.64h.01M52.36 593.87h.01M63.45 610.43h.01M50.77 596.71h.01M80.5 574.35h.01M82.6 606.08h.01M75.86 575.73h.01M88.63 587.66h.01M65.47 578.55h.01M54.5 588.86h.01M82.47 579.57h.01M85.3 595.85h.01M67.47 614.58h.01M83.27 584.93h.01M90.63 587.22h.01M83.19 593.87h.01M73.94 578.14h.01M80.86 581.85h.01M65.86 578.37h.01M86.53 581.46h.01M57.01 586.76h.01M80.99 574.22h.01M67.55 605.45h.01M50.94 587.19h.01M91.02 593.34h.01M54.27 606.45h.01M89.15 581.26h.01M52.5 598.42h.01M60.33 609.01h.01M70.57 614.61h.01M83.22 593.84h.01M66.61 580.3h.01M68.53 578.73h.01M78.64 598.36h.01M82.97 595.83h.01M54.92 579.61h.01M70.77 605.72h.01M57.87 605.65h.01M55.86 607.9h.01M53.71 604.51h.01M50.83 595h.01M89.94 592.75h.01M70.1 610.3h.01M77.75 585.09h.01M65.06 598.24h.01M54.1 581.32h.01M80.42 605.54h.01M70.8 604.27h.01M62.75 608.75h.01M65.17 575.61h.01M65.32 577.34h.01M83.43 607.95h.01M67.02 577.99h.01M77.15 609.96h.01M75.06 594.08h.01M81.01 599.35h.01M67.9 601.3h.01M64.8 578.61h.01M80.06 595.62h.01M64.82 585.62h.01M59.31 592.79h.01M77.8 577.15h.01M81.64 583.68h.01M55.4 591.1h.01M62.58 593.5h.01M61.2 590.82h.01M53.28 597.16h.01M62.6 580.43h.01M68.48 573.9h.01M79.42 586.86h.01M61.15 612.06h.01M57.85 606.91h.01M69.65 612.07h.01M93.63 595.12h.01M59.75 605.48h.01M75.05 577.04h.01M55.15 604.86h.01M78.28 599.36h.01M69 615.93h.01M78.39 574.88h.01M72.97 610.69h.01M75.48 572.96h.01M61.62 608.88h.01M85.72 599.04h.01M77.88 580.45h.01M66.66 593.37h.01M80.3 609.78h.01M66.5 572.73h.01" stroke="#6a66cc" stroke-width=".75" stroke-linecap="round" fill="none" opacity=".75"/>
<path d="M74.78 615.49h.01M74.85 608.83h.01M58.04 592.17h.01M69.91 610.39h.01M71.22 614.45h.01M85.52 605.19h.01M55.28 581h.01M71.34 579.62h.01M62.41 612.53h.01M73.06 591.81h.01M59.61 585.47h.01M90.69 582.63h.01M72 597.18h.01M80.84 607.01h.01M82.46 588.14h.01M67.91 576.22h.01M66.87 591.61h.01M57.71 604.16h.01M75.3 610.48h.01M81.61 594.24h.01M58.58 593.75h.01M60.06 582.87h.01M79.63 580.54h.01M62.94 586.93h.01M82.93 602.71h.01M83.46 575.78h.01M74.39 590.11h.01M58.73 583.74h.01M74.49 591.64h.01M76.47 572.68h.01M88.04 591.94h.01M54.41 604.93h.01M58.72 579.58h.01M86.63 580.63h.01M59.05 595.51h.01M56.62 605.23h.01M59.52 611.81h.01M58.24 589.29h.01M84.3 578.59h.01M78.19 589.73h.01M72.69 581.08h.01M65.64 608.37h.01M62.54 608.54h.01M81.91 601.58h.01M86.14 583.42h.01M68.27 585.98h.01M91.83 598.77h.01" stroke="#4f4ac4" stroke-width="1.25" stroke-linecap="round" fill="none" opacity=".85"/>
<circle cx="132.7" cy="593.6" r="23.7" fill="#dfe1e4"/>
<circle cx="132.7" cy="593.6" r="23.3" fill="none" stroke="#d4d8da" stroke-width=".6" opacity=".6"/>
<path d="M142.58 577.02h.01M118.91 582.78h.01M119.9 599.56h.01M148.47 588.41h.01M136.33 594.43h.01M117.21 608.14h.01M110.26 592.16h.01M148.46 581.15h.01M134.32 573.67h.01M141.48 591.46h.01M116.79 597.53h.01M112.18 593.49h.01M145.04 584.6h.01M129.5 574.36h.01M129.84 584.89h.01M143.33 586.98h.01M116.52 593.17h.01M128.81 603.09h.01M128.28 589.28h.01M122.19 578.56h.01M145.47 603.67h.01M137.89 614.07h.01M151.16 597.35h.01M151.81 604.56h.01M143.98 595.11h.01M150.36 592.49h.01M117.06 579.77h.01M147.49 596.5h.01M148.67 582.31h.01M122.17 595.42h.01M143.79 590.73h.01M150.05 597.31h.01M110.42 592.44h.01M134.35 608.51h.01M118.39 579.44h.01M126.4 597.67h.01M147.16 604.08h.01M117.5 591.61h.01M137.71 614.43h.01M137.12 580.72h.01M123.4 585.85h.01M153.13 596.06h.01M143.75 576.33h.01M116.19 603.98h.01M143.43 598.97h.01M151.27 603.29h.01M120.79 603.23h.01M145.35 605.74h.01M121.98 576.91h.01M123.18 605.47h.01M117.36 591.04h.01M151.43 585.08h.01M121.27 594.41h.01M118.94 611.1h.01M138.73 596.29h.01M127.88 587.13h.01M123.83 577.29h.01M145.31 604.31h.01M146.01 602.79h.01M144.76 584.23h.01M129.1 594.99h.01M139.5 608.16h.01M127.35 572.49h.01M145.27 590.54h.01M134.27 572.18h.01M117.65 604.14h.01M147.99 594.72h.01M120.2 576.38h.01M130.45 576.22h.01M149.1 605.59h.01M131.98 573.57h.01M144.1 607.01h.01M114.95 585.77h.01M133.81 594.15h.01M122.06 577.2h.01M151.07 603.67h.01M135.77 579.62h.01M144.26 580.32h.01M114.69 597.67h.01M146.03 590.79h.01M113.05 600.98h.01M138.29 582.52h.01M123.28 583.14h.01M137.99 576.56h.01M122.24 596.46h.01M148.22 606.77h.01M130.09 599.29h.01M121.34 597.93h.01M115.89 600.01h.01M147.42 604.23h.01M123.28 603.17h.01M139.14 576.9h.01M121.15 611.24h.01M124.63 573.22h.01M147.53 577.67h.01M128.11 610.75h.01M125.26 599.36h.01M111.23 596.77h.01M135.33 596.3h.01M151.08 583.14h.01M122.14 590.7h.01M128.31 613.44h.01M148.25 585.82h.01M132.61 608.19h.01M132.94 604.62h.01M112.23 590.62h.01M121.83 584.57h.01M115.23 596.5h.01M118.59 583.68h.01M153.28 592.17h.01M115.78 590.95h.01M147.79 609.31h.01M129.4 587.63h.01M153.37 600.28h.01M139.41 614.09h.01M123.73 573.95h.01M144.54 606.49h.01M142.56 597.02h.01M146.19 577h.01M148.09 584.75h.01M125.5 586.21h.01M119.35 599.79h.01M139.06 577.97h.01M134.84 571.5h.01M126.27 574.21h.01M135.65 603.07h.01M119.03 579.86h.01M151.59 599.45h.01M119.68 578.67h.01M153.83 590.66h.01M137.92 613.35h.01M146.58 583.84h.01M129.24 582.38h.01M124.46 607.9h.01M141.66 588.95h.01M136.1 578.93h.01M114.71 596.65h.01M138.18 608.01h.01M141.09 608.96h.01M119.05 581.46h.01M129.06 603.18h.01M154.21 595.31h.01M127.92 603.93h.01M117.28 585.15h.01M128.63 597.63h.01M123 581.08h.01M139.86 603.62h.01M138.2 611.65h.01M126.87 574.78h.01M151.64 601.36h.01M121.18 602.98h.01M114.01 596.59h.01M111.86 589.27h.01M130.32 588.96h.01M125.58 592.94h.01M136.17 576.81h.01M140.72 603.52h.01M119.39 576.13h.01M125.91 610.58h.01M124.65 603.96h.01M148.29 606.01h.01M119.43 578.39h.01M136.22 592.86h.01M151.13 594.55h.01M136.74 588.85h.01M119.31 599.34h.01M149.34 598.43h.01M133.12 613.57h.01M134.57 611.4h.01M116.45 591.81h.01M142.99 604.1h.01M149.48 590.8h.01M112.43 602h.01M143.21 610.72h.01M151.4 596.32h.01M122.51 588.82h.01M116.47 602.13h.01M126.05 613.12h.01M114.02 584.96h.01M119 609.13h.01M117.26 587.92h.01M133.14 579.03h.01M118.19 583.33h.01M146.47 590.75h.01M128.2 580.82h.01M143.77 608.23h.01M110.34 593.76h.01M147.14 584.65h.01M137.16 572.77h.01M145.36 588.79h.01M121.14 585.23h.01M146.77 603.09h.01M131.56 588.63h.01M150.43 580.3h.01M123.24 588.77h.01M125.97 612.97h.01M121.09 596.17h.01M133.77 614.26h.01M133.7 613.84h.01M123.28 587.95h.01M123.68 592.99h.01M121.17 607.22h.01M151.11 584.21h.01M150.92 604.21h.01M115.76 606.66h.01M141.81 591.16h.01M126.58 594.23h.01M138.27 576.04h.01M137.64 612.08h.01M115.21 597.63h.01M136.4 576.28h.01M119.36 578.46h.01M148.46 605.6h.01M154.38 590.15h.01M152.78 588.06h.01M135.65 593.98h.01M146.16 577.56h.01M151.08 591.42h.01M141.88 574.36h.01M139.59 603.84h.01M126.14 592.1h.01M138.46 607.32h.01M139.22 582.35h.01M127.27 601.6h.01M150.64 598.56h.01M133.74 583.02h.01M138.15 589.88h.01M140.77 610.03h.01M120.44 590.69h.01M114.38 598.88h.01M124.81 605.31h.01M131.75 610.33h.01M146.77 610.57h.01M141.07 609.18h.01M130.97 594.47h.01M141.71 578.13h.01M119.15 606.3h.01M130.84 611.77h.01M137.54 582.07h.01M143.49 577.12h.01M136.87 582.12h.01M141.08 580.04h.01M138.47 602.4h.01M147.43 592.09h.01M136.02 585.82h.01M112.98 585.51h.01M151.88 593.27h.01M148.34 586.83h.01M134.75 583.88h.01M150.14 588.81h.01M145.73 597.62h.01M122.94 574.3h.01M123.39 598.88h.01M145.13 607.64h.01M141.92 611.34h.01M152.3 589.55h.01M150.66 590.86h.01M152.65 585.78h.01M146.19 603.81h.01M150.66 596.86h.01M152.34 584.31h.01M124.02 577.56h.01M148.85 579.58h.01M150.68 597.38h.01M136.6 611.57h.01M133.13 593.29h.01M125.4 584.15h.01M134.96 601.45h.01M148.09 605.62h.01M131.32 599.99h.01M125.76 583.62h.01M114.68 596.48h.01M150.01 589.57h.01M128.35 588.01h.01M134.87 613.73h.01M117.48 581.47h.01M119.86 606.45h.01M122.97 609.38h.01M114.38 596.98h.01M140.03 595.75h.01M152.03 585.45h.01M149.82 597.14h.01M117.88 583.72h.01M132.33 584.25h.01M135.72 587.96h.01M121.37 590.91h.01M119.9 575.32h.01M115.02 582.95h.01M129.74 598.86h.01M133.87 572.09h.01M114.42 603.26h.01M130.13 611.17h.01M123.59 588.06h.01M114.54 595.17h.01M118.43 597.34h.01M127.42 573.23h.01M119.37 576.68h.01M113.93 590.33h.01M132.7 572.44h.01M148.27 579.01h.01M145.98 579.3h.01M121.31 603.04h.01M146.05 608.94h.01M142.44 574.43h.01M128.74 610.03h.01M142.05 573.75h.01M117.11 591.26h.01M146.65 597.04h.01M111.78 589.57h.01M141.31 578.03h.01M144.84 609.27h.01M122.64 610.78h.01M122.85 583.41h.01M120.79 581.14h.01M152.58 587.94h.01M134.93 578.08h.01M120.63 585.52h.01M132.99 605.12h.01M129.34 575.36h.01M132.04 594.79h.01M131.12 572.08h.01M116.73 579.94h.01M150.29 588.74h.01M143.27 585.38h.01M146.87 605.48h.01M137.72 583.38h.01M134.36 582.16h.01M118.43 584.79h.01M119.77 601.44h.01M151.09 582.91h.01M115.2 589.95h.01M133.71 591.73h.01M152.71 596.93h.01M136.04 574.88h.01M136.89 582.72h.01M140.73 611.84h.01M147.99 605.05h.01M129.26 615.65h.01M115.89 602.68h.01M142.89 606.47h.01M127.2 574.05h.01M134.42 614.75h.01M124.2 574.5h.01M131.65 604.8h.01M141.47 613.93h.01M116.33 593.52h.01M139.26 585.06h.01M114.95 595.88h.01M150.71 586.54h.01M123.24 591.81h.01M114.44 591.28h.01M135.98 575.13h.01M146.09 576.05h.01M113.24 588.42h.01M125.4 612.35h.01M149.07 595.14h.01M120.24 589.28h.01M133.45 572.72h.01M119.94 580.03h.01M133.86 590.64h.01M140.32 610.39h.01M129.38 584.08h.01M126.99 574.09h.01M143.63 606.39h.01M136.66 611.87h.01M140.94 611.32h.01M134.53 590.39h.01M133.53 614.93h.01M114.87 593.56h.01M119.48 602.24h.01M132.46 586.99h.01M137.06 575.81h.01M116.57 606.35h.01M116.46 582.77h.01M136.1 579.4h.01M124.19 591.99h.01M133.87 598.26h.01M136.58 585.11h.01M151.59 596.44h.01M127.34 610.4h.01M127.61 576.86h.01M151.27 598.62h.01M130.46 597.44h.01M111.54 586.85h.01M117.5 599.86h.01M128.68 593.08h.01M123.48 606.15h.01M142.93 603.05h.01M133.55 613.65h.01M124.06 591.68h.01M126.72 607.23h.01M123.58 585.43h.01M126.59 609.72h.01M117.17 601.72h.01M138.58 614.37h.01M121.04 610.36h.01M136.76 597.54h.01M153.77 594.48h.01M151.1 597.27h.01M123.81 595.97h.01M133.35 582.59h.01M134.17 584.02h.01M151.61 604.05h.01M134.29 599.45h.01M124.41 577.61h.01M124.18 592.79h.01M124.11 591.08h.01M130.92 590.64h.01M138.23 587.98h.01M114.26 605.6h.01M126.43 610.89h.01M121.04 576.65h.01M121.09 575.21h.01M112.12 590.63h.01M114.12 599.59h.01M114.3 587.97h.01M132.35 575.63h.01M111.3 589.2h.01M132.59 610.96h.01M118.97 591.67h.01M141.58 583.78h.01M132.59 598.87h.01M117.66 592.73h.01M126.63 577.96h.01M114.28 600.63h.01M128.73 601.48h.01M128.69 604.65h.01M129.09 579.48h.01M142.71 611.53h.01M116.16 604.67h.01M116.05 589.45h.01M131.82 600.84h.01M146 582.24h.01M130.01 575.88h.01M151.56 590.47h.01M116.54 598.15h.01M151.3 589.41h.01M126.63 584.35h.01M145.07 585.07h.01M131.03 583.54h.01M144.48 609.77h.01M146.88 577.46h.01M121.07 580.94h.01M126.09 605.63h.01M147.13 580.4h.01M136.17 612.88h.01M117.65 594h.01M137.93 573.15h.01M131.43 603.43h.01M121.05 576.82h.01M114.53 599.39h.01M124.2 575.61h.01M129.87 572.45h.01M148.99 599.1h.01M119.44 609.57h.01M120.33 601.25h.01M112.87 591.87h.01M133.99 574.78h.01M118.19 608.78h.01M148.13 607.14h.01M136.18 572.86h.01M120.26 594.71h.01M153.5 586.73h.01M132.53 574.44h.01M126.03 605.56h.01M152.81 589.51h.01M138.75 585.13h.01M140.24 606.58h.01M124.56 595.52h.01M129.12 592.56h.01M150.05 597.54h.01M135.41 595.37h.01M152.55 594.97h.01M130.02 583.26h.01M129.44 613.56h.01M133.98 608.34h.01M140.71 612.03h.01M130.95 602.81h.01M138.45 614.01h.01M135.83 596.37h.01M133.79 591.95h.01M116.58 596.11h.01M116.44 607.46h.01M144.84 574.74h.01M133.8 585h.01M112.25 588.8h.01M140.28 604.14h.01M141.38 601.74h.01M125.2 599.53h.01M116.44 609.06h.01M149.67 602.26h.01M144.72 594.25h.01M123.53 577.21h.01M111.37 597.36h.01M148.14 577.53h.01M121.93 600.21h.01M128.61 572.26h.01M134.35 572.94h.01M121.14 605.32h.01M121.62 612.7h.01M138.8 584.44h.01M143.24 575.58h.01M134.84 582.66h.01M129.48 614.97h.01M127.3 610.98h.01M120.57 607.15h.01M142 606.98h.01M129.29 583.6h.01M142.53 576.44h.01M150.91 599.86h.01M123.32 583.97h.01M135.72 584.22h.01M140.8 613.49h.01M137.48 613.93h.01M124.32 575.94h.01M135.37 572.38h.01M123 605.12h.01M137.82 573.06h.01M147.18 580.3h.01M139.02 607.64h.01M150.6 591.42h.01M136.41 574.91h.01M149.83 592.94h.01M123.17 575.28h.01M117.51 586.5h.01M116.96 606.22h.01M130.29 575.32h.01M135.92 572.55h.01M150.19 584.48h.01M138.31 585.89h.01M127.13 574.65h.01M121.57 593.89h.01M121.26 587.97h.01M148.3 580.31h.01M151.06 595.32h.01M145.66 610.32h.01M122.92 612.97h.01" stroke="#6a66cc" stroke-width=".75" stroke-linecap="round" fill="none" opacity=".75"/>
<path d="M153.86 587.6h.01M133 597.06h.01M140.93 588.2h.01M140.27 610.71h.01M144.77 602.61h.01M120.56 586.42h.01M152.46 595.85h.01M115.25 602.77h.01M117.98 600.11h.01M115.55 603.31h.01M118.76 576.53h.01M147.72 585.17h.01M152.6 592.99h.01M126.79 603.61h.01M116.27 595.28h.01M124.66 582.01h.01M118.04 608.67h.01M141.43 581.71h.01M143.7 599.41h.01M147.46 605.19h.01M124.89 590.58h.01M118.76 583.73h.01M129.9 578.68h.01M119.13 598.92h.01M133.34 597.08h.01M148.46 603.13h.01M127.03 582.78h.01M139 589.55h.01M120.77 593.59h.01M152.19 587.6h.01M132.36 575.42h.01M129.03 596.23h.01M141.61 612.11h.01M139.59 601.27h.01M126.96 609.6h.01M111.56 599.9h.01M144.94 611.7h.01M149.09 600.53h.01M134.65 582.99h.01M116.1 585.18h.01M151.72 584.28h.01M111.03 592.56h.01M128.16 584.07h.01M132.32 605.46h.01M122.32 583.86h.01M144.03 577.43h.01M137.34 593.59h.01M134.22 581.33h.01M125.51 578.15h.01M139.24 608.07h.01M117.44 600.41h.01M137.42 613.13h.01M126.31 585.32h.01M114.96 607.34h.01M117.24 605.8h.01M130.7 615.06h.01M125.61 573.61h.01M150.46 583.77h.01M134.27 603.43h.01M120.98 579.17h.01M111.21 595.62h.01M137.2 596.01h.01M125.05 596.97h.01M121.82 612.81h.01M114.44 590.12h.01M131.8 576.58h.01M135.2 581.56h.01M111.99 595.68h.01M151.31 593.01h.01M131.65 575.17h.01M140.03 613.13h.01M115.8 588.54h.01M140.21 576.32h.01M127.77 586.52h.01M138.56 611.07h.01M141.48 610.67h.01M147.43 582.17h.01M115.34 594.9h.01M132.12 576.64h.01M129.18 591.04h.01M141.45 583.28h.01M113.73 602.22h.01M141.48 593.82h.01" stroke="#4f4ac4" stroke-width="1.25" stroke-linecap="round" fill="none" opacity=".85"/>
<circle cx="71.9" cy="655.8" r="23.7" fill="#e0e5d8"/>
<circle cx="71.9" cy="655.8" r="23.3" fill="none" stroke="#d4d8da" stroke-width=".6" opacity=".6"/>
<path d="M73.15 672.35h.01M59.77 643.56h.01M71.26 666.67h.01M79.93 642.51h.01M58.02 640.09h.01M69.2 650.79h.01M70.65 659.56h.01M67.79 635.11h.01M55.99 668.15h.01M84.5 643.8h.01M86.41 652.6h.01M57.94 655.16h.01M53.43 645h.01M85.78 638.22h.01M86.05 638.83h.01M69.57 645.73h.01M70.67 661.33h.01M89 666.43h.01M68.31 652.66h.01M88.23 640.64h.01M76.56 669.39h.01M92.12 661.32h.01M82.92 647.44h.01M61.16 642.15h.01M86.82 649.96h.01M72.86 668.11h.01M69.6 655.08h.01M61.2 644.78h.01M62 636.06h.01M61.27 648.8h.01M60.08 668.52h.01M72.41 652.14h.01M67.99 665.67h.01M66.22 667.49h.01M77.6 648.5h.01M62.24 653.98h.01M76.71 666.66h.01M78.39 638.22h.01M75.09 644.53h.01M59.29 662.75h.01M93.74 656.44h.01M51.81 664.59h.01M71.32 635.23h.01M87.31 645.13h.01M88.05 644.02h.01M77.71 666.66h.01M53.22 667.05h.01M71.58 676.68h.01M65.93 663.82h.01M81.4 673.42h.01M72.77 654.06h.01M83.05 659.42h.01M93.12 652.4h.01M66.82 667.35h.01M55.8 646.05h.01M83.85 667.57h.01M80.23 660.38h.01M74.72 642.22h.01M59.42 661.52h.01M55.44 664.78h.01M51.79 651.19h.01M53.05 665.28h.01M87.93 643.82h.01M86.41 669.98h.01M76.75 638.07h.01M84.94 643.62h.01M86.85 670.07h.01M71.76 633.88h.01M53.06 647.79h.01M71.9 673.46h.01M62.37 666.28h.01M85.69 663.75h.01M71.75 646.78h.01M64.45 641.44h.01M86.03 645.17h.01M85.91 647.7h.01M79.06 672.66h.01M67.6 665.76h.01M66.53 673.92h.01M53.12 658.23h.01M62.69 674.74h.01M54.63 658.03h.01M79.2 640.68h.01M80.74 644.64h.01M61.34 657.99h.01M61.94 636.15h.01M78.67 672.77h.01M85.36 639.24h.01M89.06 667.1h.01M53.93 645.88h.01M57.46 661.92h.01M68.73 676.02h.01M77.78 652h.01M74.65 636.41h.01M60.45 639.16h.01M58.56 656.31h.01M63.12 651.91h.01M79.6 652.29h.01M58.18 646.17h.01M65.08 672.27h.01M72.37 639.22h.01M60.72 655.47h.01M64.79 668.2h.01M58.98 672.92h.01M78.02 660.23h.01M75.8 664.78h.01M63.95 661.7h.01M78.86 635.73h.01M55.65 650.22h.01M67.13 644.45h.01M55.18 643.43h.01M63.61 642.37h.01M78.77 674.3h.01M62.78 643.9h.01M78.35 650.6h.01M50.85 650.55h.01M69.09 648.05h.01M88.97 647.37h.01M79.47 635.44h.01M87.75 664.25h.01M66.73 640.14h.01M66.74 670.24h.01M80.91 675.14h.01M60.62 667.66h.01M62.27 658.27h.01M56.29 666.66h.01M73.24 662.58h.01M70.25 644.11h.01M83.16 650.75h.01M89.06 661.85h.01M87.23 653.26h.01M75.77 654.27h.01M78.19 653.6h.01M82.46 665.07h.01M80.37 651.72h.01M80.48 641.43h.01M62.63 661.3h.01M70.77 665h.01M68.47 642.23h.01M71.07 652.49h.01M68.81 649.51h.01M58.7 639.35h.01M87.26 644.18h.01M56.04 648.47h.01M72.9 672.91h.01M69.81 654.56h.01M75.05 672.38h.01M56.06 643.62h.01M93.74 659.12h.01M85.07 663.68h.01M58.41 643.84h.01M80.77 640.89h.01M60.83 671.84h.01M70.55 641.23h.01M74.87 668.79h.01M65.98 658.55h.01M89.3 647.74h.01M55.36 641.73h.01M92.15 648.94h.01M74.01 641.6h.01M69.79 643.78h.01M90.7 660.7h.01M61.03 671.85h.01M83.13 671.93h.01M92.79 653.11h.01M66.09 669.97h.01M58.69 671.83h.01M87.21 642.61h.01M77.8 639.93h.01M54.58 651.83h.01M73.82 640.57h.01M54.86 663.51h.01M82.34 662.78h.01M55.98 664.79h.01M59.03 642.52h.01M72.04 664.09h.01M51.42 654.66h.01M73.34 658.36h.01M84.69 647.25h.01M78.74 639.73h.01M76.49 664.26h.01M58.15 651.61h.01M76.84 641.49h.01M65.45 670.72h.01M57.01 648.27h.01M66.4 634.71h.01M60.75 667.48h.01M65.74 648h.01M56.69 669.5h.01M92.69 649.03h.01M70.27 663.8h.01M52.77 652.62h.01M72.58 654.3h.01M82.45 660.71h.01M67.22 654.4h.01M85.32 672.93h.01M72.96 638.01h.01M75.41 652.28h.01M66.46 660.76h.01M58.81 673.25h.01M92.75 647.44h.01M58.52 673.19h.01M70.63 658.83h.01M75.28 639.17h.01M56.52 661.63h.01M53.87 643.66h.01M92.75 650.93h.01M73.43 660.75h.01M84.09 643.25h.01M78.02 634.25h.01M72.59 648.99h.01M82.47 669.66h.01M63.01 664.86h.01M93.51 653.14h.01M52.65 655.7h.01M67.43 677.47h.01" stroke="#6a66cc" stroke-width=".75" stroke-linecap="round" fill="none" opacity=".75"/>
<path d="M66.53 674.78h.01M69.61 661.61h.01M89.42 658.02h.01M66.33 635.7h.01M77.59 669.51h.01M83.23 645.8h.01M68.71 668.55h.01M61.67 649.43h.01M58.2 663h.01M88.43 661.73h.01M87.88 667.9h.01M74.5 638.88h.01M88.26 650.76h.01M73.66 639.81h.01M61.88 649.9h.01M66.22 669.29h.01M85.42 651.9h.01M89.81 651.36h.01M81.05 674.95h.01M70.52 669.66h.01M79.72 637.97h.01M75.24 666.55h.01M84.72 660.02h.01M72.74 636.32h.01M82.18 655.97h.01M57.27 665.91h.01M81.49 672.8h.01M58.29 660.41h.01M58.43 642.76h.01M78.95 639.41h.01M62.77 635.62h.01M88.95 659.09h.01M84.69 662.02h.01M74.68 661.49h.01M61.98 670.19h.01M57.03 652.06h.01M66.18 676.96h.01M81.7 663.24h.01M88.82 653.58h.01M82.07 636.62h.01M87.82 664.45h.01M62.61 637.68h.01M68.52 673.06h.01M66.8 677.44h.01" stroke="#4f4ac4" stroke-width="1.25" stroke-linecap="round" fill="none" opacity=".85"/>
<circle cx="132.7" cy="655.8" r="23.7" fill="#e4e7e2"/>
<circle cx="132.7" cy="655.8" r="23.3" fill="none" stroke="#d4d8da" stroke-width=".6" opacity=".6"/>
<path d="M145.73 661.59h.01M136.12 662.28h.01M126.16 672.37h.01M137.53 651.27h.01M151.89 647.44h.01M147.01 646.58h.01M118.24 655.04h.01M149.76 660.91h.01M120.7 671.1h.01M134.38 638.23h.01M141.21 673.18h.01M150.15 642.43h.01M144.72 657.18h.01M114.22 667.46h.01M141.6 658.37h.01M130.94 662.59h.01M124.85 639.95h.01M132.83 678.06h.01M134.84 641.57h.01M133.68 674.87h.01M132.89 677.02h.01M147.92 648.41h.01M147.48 645.19h.01M125.85 656.05h.01M150.18 643.06h.01M138.22 638.63h.01M122.2 640.4h.01M138.61 654.14h.01M121.49 643.05h.01M138.16 650.43h.01M126.57 644.4h.01M119.66 647h.01M141.42 666.17h.01M119.32 652.06h.01M146.04 667.48h.01M140.02 649.04h.01M114.94 665.21h.01M136.58 663.58h.01M126.41 671.17h.01M126.54 656.41h.01M120.45 671.23h.01M124.9 640.06h.01M111.68 660.22h.01M143.9 647.87h.01M127.71 651.07h.01M140.48 672.25h.01M135.86 656.26h.01M119.03 647.81h.01M134.12 633.74h.01M123.93 638.47h.01M125.63 676.29h.01M124.45 671.59h.01M130.51 657.16h.01M126.55 639.27h.01M120.03 643.41h.01M154.22 654.15h.01M142.3 662h.01M126.03 676.67h.01M125.58 671.82h.01M127.54 676.39h.01M120.38 637.62h.01M115.27 648.91h.01M123.87 655.66h.01M118.28 667.53h.01M118.19 668.31h.01M144.55 639.18h.01M113.83 658.58h.01M151.61 655.38h.01M117.65 670.03h.01M146.54 666.84h.01M125.01 647.41h.01M125.19 675.72h.01M143.42 637.46h.01M122.46 640.03h.01M151.42 654.32h.01M134.53 661.53h.01M130.17 648.54h.01M132.03 655.76h.01M124.22 656.98h.01M132.49 635.48h.01M129.42 653.26h.01M133.23 634.91h.01M133.22 641.45h.01M125.03 671.77h.01M144.05 657.97h.01M146.82 671.3h.01M136.14 661.7h.01M133.49 677.21h.01M127.81 672.02h.01M151.11 665.28h.01" stroke="#6a66cc" stroke-width=".75" stroke-linecap="round" fill="none" opacity=".75"/>
<path d="M133.33 663h.01M133.71 645.25h.01M142.31 638.03h.01M123.22 655.45h.01M139.27 666.35h.01M119.74 658.17h.01M124.05 661.08h.01M147.07 645.95h.01M130.05 665.28h.01M116.46 670.74h.01M137.19 672.4h.01M143.82 658.04h.01M135.21 677.23h.01M130.37 651.66h.01M152.78 651.78h.01M132.95 657.06h.01M144.72 644.21h.01M113.3 659.31h.01M153.25 657.16h.01M134.3 671.41h.01M113.63 664.2h.01M112.04 650.24h.01M136.74 638.65h.01M134.49 642.38h.01M140.11 660.03h.01M139.08 636.62h.01M147.75 644.41h.01M121.17 664.16h.01M149.15 642.63h.01M125.68 640.71h.01M115.18 653.1h.01M141.1 659.61h.01M154.59 658.43h.01M119.83 638.81h.01M116.08 656h.01M130.51 653.69h.01M137.26 637.47h.01M153.76 658.18h.01M122.33 637.27h.01M124.52 668.6h.01" stroke="#4f4ac4" stroke-width="1.25" stroke-linecap="round" fill="none" opacity=".85"/>
</g>
<g id="panelK">
<text x="187.3" y="565.66" font-size="17.5" class="pl">K</text>
<rect x="242.1" y="579.38" width="15" height="79.92" fill="#3c5084"/>
<rect x="264.6" y="621.08" width="15" height="38.22" fill="#94c3d6"/>
<rect x="287.1" y="641.81" width="15" height="17.49" fill="#eed2b2"/>
<rect x="309.5" y="621.08" width="15" height="38.22" fill="#808080"/>
<line x1="234.8" y1="561.15" x2="234.8" y2="659.75" stroke="#231815" stroke-width=".9"/>
<line x1="234.35" y1="659.3" x2="331.8" y2="659.3" stroke="#231815" stroke-width=".9"/>
<line x1="230.2" y1="659.3" x2="234.8" y2="659.3" stroke="#231815" stroke-width=".9"/>
<text x="229.2" y="661.91" font-size="7.3" text-anchor="end">0</text>
<line x1="230.2" y1="639.76" x2="234.8" y2="639.76" stroke="#231815" stroke-width=".9"/>
<text x="229.2" y="642.37" font-size="7.3" text-anchor="end">100</text>
<line x1="230.2" y1="620.22" x2="234.8" y2="620.22" stroke="#231815" stroke-width=".9"/>
<text x="229.2" y="622.83" font-size="7.3" text-anchor="end">200</text>
<line x1="230.2" y1="600.68" x2="234.8" y2="600.68" stroke="#231815" stroke-width=".9"/>
<text x="229.2" y="603.29" font-size="7.3" text-anchor="end">300</text>
<line x1="230.2" y1="581.14" x2="234.8" y2="581.14" stroke="#231815" stroke-width=".9"/>
<text x="229.2" y="583.75" font-size="7.3" text-anchor="end">400</text>
<line x1="230.2" y1="561.6" x2="234.8" y2="561.6" stroke="#231815" stroke-width=".9"/>
<text x="229.2" y="564.21" font-size="7.3" text-anchor="end">500</text>
<line x1="249.6" y1="659.3" x2="249.6" y2="663.3" stroke="#231815" stroke-width=".9"/>
<line x1="249.6" y1="586.02" x2="249.6" y2="571.96" stroke="#231815" stroke-width=".7"/>
<line x1="246.1" y1="586.02" x2="253.1" y2="586.02" stroke="#231815" stroke-width=".7"/>
<line x1="246.1" y1="571.96" x2="253.1" y2="571.96" stroke="#231815" stroke-width=".7"/>
<circle cx="249.6" cy="571.96" r="1.9"/>
<circle cx="246.6" cy="584.07" r="1.9"/>
<circle cx="252.6" cy="584.07" r="1.9"/>
<text x="248.1" y="680.31" font-size="7" text-anchor="middle" transform="rotate(-45 248.1 677.8)">TREM2</text>
<line x1="272.1" y1="659.3" x2="272.1" y2="663.3" stroke="#231815" stroke-width=".9"/>
<line x1="272.1" y1="623.54" x2="272.1" y2="618.66" stroke="#231815" stroke-width=".7"/>
<line x1="268.6" y1="623.54" x2="275.6" y2="623.54" stroke="#231815" stroke-width=".7"/>
<line x1="268.6" y1="618.66" x2="275.6" y2="618.66" stroke="#231815" stroke-width=".7"/>
<path d="M269.1 618.04l2.18 3.8h-4.37z"/>
<path d="M275.1 618.04l2.18 3.8h-4.37z"/>
<path d="M272.1 621.16l2.18 3.8h-4.37z"/>
<text x="270.6" y="680.31" font-size="7" text-anchor="middle" transform="rotate(-45 270.6 677.8)">Vector</text>
<line x1="294.6" y1="659.3" x2="294.6" y2="663.3" stroke="#231815" stroke-width=".9"/>
<line x1="294.6" y1="644.45" x2="294.6" y2="639.17" stroke="#231815" stroke-width=".7"/>
<line x1="291.1" y1="644.45" x2="298.1" y2="644.45" stroke="#231815" stroke-width=".7"/>
<line x1="291.1" y1="639.17" x2="298.1" y2="639.17" stroke="#231815" stroke-width=".7"/>
<circle cx="291.6" cy="640.15" r="1.9"/>
<circle cx="297.6" cy="641.71" r="1.9"/>
<circle cx="291.6" cy="643.67" r="1.9"/>
<text x="293.1" y="680.31" font-size="7" text-anchor="middle" transform="rotate(-45 293.1 677.8)">shTREM2</text>
<line x1="317" y1="659.3" x2="317" y2="663.3" stroke="#231815" stroke-width=".9"/>
<line x1="317" y1="625.69" x2="317" y2="615.92" stroke="#231815" stroke-width=".7"/>
<line x1="313.5" y1="625.69" x2="320.5" y2="625.69" stroke="#231815" stroke-width=".7"/>
<line x1="313.5" y1="615.92" x2="320.5" y2="615.92" stroke="#231815" stroke-width=".7"/>
<path d="M317 613.74l2.18 3.8h-4.37z"/>
<path d="M320 619.99l2.18 3.8h-4.37z"/>
<path d="M314 621.94l2.18 3.8h-4.37z"/>
<text x="315.5" y="680.31" font-size="7" text-anchor="middle" transform="rotate(-45 315.5 677.8)">Scramble</text>
<text x="208.4" y="613.36" font-size="8" text-anchor="middle" textLength="68.6" lengthAdjust="spacingAndGlyphs" transform="rotate(-90 208.4 610.5)">Number of Clones</text>
<line x1="248.1" y1="565.5" x2="270.6" y2="565.5" stroke="#231815" stroke-width=".8"/>
<text x="259.35" y="564.96" font-size="8.3" text-anchor="middle" class="st">***</text>
<line x1="294.6" y1="609.1" x2="316.8" y2="609.1" stroke="#231815" stroke-width=".8"/>
<text x="305.7" y="608.56" font-size="8.3" text-anchor="middle" class="st">**</text>
<text x="209" y="679.22" font-size="7.6" text-anchor="middle">CM</text>
</g>
<g id="panelL">
<text x="350.3" y="565.66" font-size="17.5" class="pl">L</text>
<rect x="401.2" y="581.11" width="14.9" height="78.69" fill="#3c5084"/>
<rect x="424.1" y="616.59" width="15" height="43.21" fill="#94c3d6"/>
<rect x="447.1" y="635.62" width="15" height="24.18" fill="#eed2b2"/>
<rect x="470.1" y="616.2" width="14.7" height="43.6" fill="#808080"/>
<line x1="394.2" y1="560.25" x2="394.2" y2="660.25" stroke="#231815" stroke-width=".9"/>
<line x1="393.75" y1="659.8" x2="492.8" y2="659.8" stroke="#231815" stroke-width=".9"/>
<line x1="389.9" y1="659.8" x2="394.2" y2="659.8" stroke="#231815" stroke-width=".9"/>
<text x="388.8" y="662.45" font-size="7.4" text-anchor="end">0.0</text>
<line x1="389.9" y1="639.98" x2="394.2" y2="639.98" stroke="#231815" stroke-width=".9"/>
<text x="388.8" y="642.63" font-size="7.4" text-anchor="end">0.1</text>
<line x1="389.9" y1="620.16" x2="394.2" y2="620.16" stroke="#231815" stroke-width=".9"/>
<text x="388.8" y="622.81" font-size="7.4" text-anchor="end">0.2</text>
<line x1="389.9" y1="600.34" x2="394.2" y2="600.34" stroke="#231815" stroke-width=".9"/>
<text x="388.8" y="602.99" font-size="7.4" text-anchor="end">0.3</text>
<line x1="389.9" y1="580.52" x2="394.2" y2="580.52" stroke="#231815" stroke-width=".9"/>
<text x="388.8" y="583.17" font-size="7.4" text-anchor="end">0.4</text>
<line x1="389.9" y1="560.7" x2="394.2" y2="560.7" stroke="#231815" stroke-width=".9"/>
<text x="388.8" y="563.35" font-size="7.4" text-anchor="end">0.5</text>
<line x1="408.65" y1="659.8" x2="408.65" y2="663.8" stroke="#231815" stroke-width=".9"/>
<line x1="408.65" y1="590.03" x2="408.65" y2="573.19" stroke="#231815" stroke-width=".7"/>
<line x1="405.15" y1="590.03" x2="412.15" y2="590.03" stroke="#231815" stroke-width=".7"/>
<line x1="405.15" y1="573.19" x2="412.15" y2="573.19" stroke="#231815" stroke-width=".7"/>
<circle cx="405.65" cy="575.57" r="1.9"/>
<circle cx="411.65" cy="577.55" r="1.9"/>
<circle cx="408.65" cy="590.03" r="1.9"/>
<text x="407.15" y="680.81" font-size="7" text-anchor="middle" transform="rotate(-45 407.15 678.3)">TREM2</text>
<line x1="431.6" y1="659.8" x2="431.6" y2="663.8" stroke="#231815" stroke-width=".9"/>
<line x1="431.6" y1="623.13" x2="431.6" y2="609.66" stroke="#231815" stroke-width=".7"/>
<line x1="428.1" y1="623.13" x2="435.1" y2="623.13" stroke="#231815" stroke-width=".7"/>
<line x1="428.1" y1="609.66" x2="435.1" y2="609.66" stroke="#231815" stroke-width=".7"/>
<path d="M431.6 606.48l2.18 3.8h-4.37z"/>
<path d="M428.6 618.97l2.18 3.8h-4.37z"/>
<path d="M434.6 616.98l2.18 3.8h-4.37z"/>
<text x="430.1" y="680.81" font-size="7" text-anchor="middle" transform="rotate(-45 430.1 678.3)">Vector</text>
<line x1="454.6" y1="659.8" x2="454.6" y2="663.8" stroke="#231815" stroke-width=".9"/>
<line x1="454.6" y1="639.39" x2="454.6" y2="632.05" stroke="#231815" stroke-width=".7"/>
<line x1="451.1" y1="639.39" x2="458.1" y2="639.39" stroke="#231815" stroke-width=".7"/>
<line x1="451.1" y1="632.05" x2="458.1" y2="632.05" stroke="#231815" stroke-width=".7"/>
<circle cx="451.6" cy="633.04" r="1.9"/>
<circle cx="457.6" cy="635.02" r="1.9"/>
<circle cx="454.6" cy="639.19" r="1.9"/>
<text x="453.1" y="680.81" font-size="7" text-anchor="middle" transform="rotate(-45 453.1 678.3)">shTREM2</text>
<line x1="477.45" y1="659.8" x2="477.45" y2="663.8" stroke="#231815" stroke-width=".9"/>
<line x1="477.45" y1="620.16" x2="477.45" y2="612.63" stroke="#231815" stroke-width=".7"/>
<line x1="473.95" y1="620.16" x2="480.95" y2="620.16" stroke="#231815" stroke-width=".7"/>
<line x1="473.95" y1="612.63" x2="480.95" y2="612.63" stroke="#231815" stroke-width=".7"/>
<path d="M474.45 611.63l2.18 3.8h-4.37z"/>
<path d="M480.45 613.02l2.18 3.8h-4.37z"/>
<path d="M477.45 617.98l2.18 3.8h-4.37z"/>
<text x="475.95" y="680.81" font-size="7" text-anchor="middle" transform="rotate(-45 475.95 678.3)">Scramble</text>
<text x="370.2" y="613.06" font-size="8" text-anchor="middle" textLength="78" lengthAdjust="spacingAndGlyphs" transform="rotate(-90 370.2 610.2)">S Phase Fraction(%)</text>
<line x1="408.7" y1="564.7" x2="431.6" y2="564.7" stroke="#231815" stroke-width=".8"/>
<text x="420.15" y="564.16" font-size="8.3" text-anchor="middle" class="st">**</text>
<line x1="454.6" y1="602.9" x2="477.3" y2="602.9" stroke="#231815" stroke-width=".8"/>
<text x="465.95" y="602.36" font-size="8.3" text-anchor="middle" class="st">**</text>
<text x="370" y="681.22" font-size="7.6" text-anchor="middle">CM</text>
</g>
<g id="panelM">
<text x="510" y="565.47" font-size="17.5" class="pl">M</text>
<rect x="564.8" y="581.31" width="15.4" height="78.09" fill="#3c5084"/>
<rect x="588" y="599.94" width="15.4" height="59.46" fill="#94c3d6"/>
<rect x="611" y="626.4" width="15.4" height="33" fill="#eed2b2"/>
<rect x="634.2" y="596.97" width="15.1" height="62.43" fill="#808080"/>
<line x1="557.3" y1="559.85" x2="557.3" y2="659.85" stroke="#231815" stroke-width=".9"/>
<line x1="556.85" y1="659.4" x2="657.4" y2="659.4" stroke="#231815" stroke-width=".9"/>
<line x1="553" y1="659.4" x2="557.3" y2="659.4" stroke="#231815" stroke-width=".9"/>
<text x="551.9" y="662.05" font-size="7.4" text-anchor="end">0.0</text>
<line x1="553" y1="639.58" x2="557.3" y2="639.58" stroke="#231815" stroke-width=".9"/>
<text x="551.9" y="642.23" font-size="7.4" text-anchor="end">0.2</text>
<line x1="553" y1="619.76" x2="557.3" y2="619.76" stroke="#231815" stroke-width=".9"/>
<text x="551.9" y="622.41" font-size="7.4" text-anchor="end">0.4</text>
<line x1="553" y1="599.94" x2="557.3" y2="599.94" stroke="#231815" stroke-width=".9"/>
<text x="551.9" y="602.59" font-size="7.4" text-anchor="end">0.6</text>
<line x1="553" y1="580.12" x2="557.3" y2="580.12" stroke="#231815" stroke-width=".9"/>
<text x="551.9" y="582.77" font-size="7.4" text-anchor="end">0.8</text>
<line x1="553" y1="560.3" x2="557.3" y2="560.3" stroke="#231815" stroke-width=".9"/>
<text x="551.9" y="562.95" font-size="7.4" text-anchor="end">1.0</text>
<line x1="572.5" y1="659.4" x2="572.5" y2="663.4" stroke="#231815" stroke-width=".9"/>
<line x1="572.5" y1="584.08" x2="572.5" y2="578.14" stroke="#231815" stroke-width=".7"/>
<line x1="569" y1="584.08" x2="576" y2="584.08" stroke="#231815" stroke-width=".7"/>
<line x1="569" y1="578.14" x2="576" y2="578.14" stroke="#231815" stroke-width=".7"/>
<circle cx="572.5" cy="577.64" r="1.9"/>
<circle cx="569.5" cy="583.09" r="1.9"/>
<circle cx="575.5" cy="582.1" r="1.9"/>
<text x="571" y="680.41" font-size="7" text-anchor="middle" transform="rotate(-45 571 677.9)">TREM2</text>
<line x1="595.7" y1="659.4" x2="595.7" y2="663.4" stroke="#231815" stroke-width=".9"/>
<line x1="595.7" y1="602.42" x2="595.7" y2="596.97" stroke="#231815" stroke-width=".7"/>
<line x1="592.2" y1="602.42" x2="599.2" y2="602.42" stroke="#231815" stroke-width=".7"/>
<line x1="592.2" y1="596.97" x2="599.2" y2="596.97" stroke="#231815" stroke-width=".7"/>
<path d="M595.7 594.78l2.18 3.8h-4.37z"/>
<path d="M592.7 599.24l2.18 3.8h-4.37z"/>
<path d="M598.7 598.75l2.18 3.8h-4.37z"/>
<text x="594.2" y="680.41" font-size="7" text-anchor="middle" transform="rotate(-45 594.2 677.9)">Vector</text>
<line x1="618.7" y1="659.4" x2="618.7" y2="663.4" stroke="#231815" stroke-width=".9"/>
<line x1="618.7" y1="628.18" x2="618.7" y2="624.22" stroke="#231815" stroke-width=".7"/>
<line x1="615.2" y1="628.18" x2="622.2" y2="628.18" stroke="#231815" stroke-width=".7"/>
<line x1="615.2" y1="624.22" x2="622.2" y2="624.22" stroke="#231815" stroke-width=".7"/>
<circle cx="616.2" cy="624.71" r="1.9"/>
<circle cx="621.7" cy="626.2" r="1.9"/>
<circle cx="616.2" cy="628.18" r="1.9"/>
<text x="617.2" y="680.41" font-size="7" text-anchor="middle" transform="rotate(-45 617.2 677.9)">shTREM2</text>
<line x1="641.75" y1="659.4" x2="641.75" y2="663.4" stroke="#231815" stroke-width=".9"/>
<line x1="641.75" y1="598.95" x2="641.75" y2="594.98" stroke="#231815" stroke-width=".7"/>
<line x1="638.25" y1="598.95" x2="645.25" y2="598.95" stroke="#231815" stroke-width=".7"/>
<line x1="638.25" y1="594.98" x2="645.25" y2="594.98" stroke="#231815" stroke-width=".7"/>
<path d="M638.75 592.8l2.18 3.8h-4.37z"/>
<path d="M644.75 594.58l2.18 3.8h-4.37z"/>
<path d="M638.75 596.57l2.18 3.8h-4.37z"/>
<text x="640.25" y="680.41" font-size="7" text-anchor="middle" transform="rotate(-45 640.25 677.9)">Scramble</text>
<text x="534" y="613.06" font-size="8" text-anchor="middle" textLength="73" lengthAdjust="spacingAndGlyphs" transform="rotate(-90 534 610.2)">Wound Closure(%)</text>
<line x1="572.9" y1="565.4" x2="595.9" y2="565.4" stroke="#231815" stroke-width=".8"/>
<text x="584.4" y="564.86" font-size="8.3" text-anchor="middle" class="st">**</text>
<line x1="618.8" y1="582.4" x2="641.8" y2="582.4" stroke="#231815" stroke-width=".8"/>
<text x="630.3" y="581.86" font-size="8.3" text-anchor="middle" class="st">****</text>
<text x="534.3" y="679.92" font-size="7.6" text-anchor="middle">CM</text>
</g>
<g id="panelN">
<text x="1" y="707.16" font-size="17.5" class="pl">N</text>
<text x="18.1" y="719.62" font-size="7.6" text-anchor="middle">CM</text>
<text x="61" y="719.62" font-size="7.6" text-anchor="middle" textLength="23.3" lengthAdjust="spacingAndGlyphs">Vector</text>
<text x="142.6" y="719.62" font-size="7.6" text-anchor="middle" textLength="25.9" lengthAdjust="spacingAndGlyphs">TREM2</text>
<text x="223.4" y="719.62" font-size="7.6" text-anchor="middle" textLength="35" lengthAdjust="spacingAndGlyphs">Scramble</text>
<text x="304.3" y="719.62" font-size="7.6" text-anchor="middle" textLength="12.7" lengthAdjust="spacingAndGlyphs">Sh1</text>
<text x="17.1" y="752.52" font-size="7.6" text-anchor="middle" textLength="33.9" lengthAdjust="spacingAndGlyphs" transform="rotate(-90 17.1 749.8)">Migration</text>
<text x="17.1" y="815.02" font-size="7.6" text-anchor="middle" textLength="30.9" lengthAdjust="spacingAndGlyphs" transform="rotate(-90 17.1 812.3)">Invasion</text>
<text x="7.5" y="783.12" font-size="7.6" text-anchor="middle" textLength="16" lengthAdjust="spacingAndGlyphs" transform="rotate(-90 7.5 780.4)">AGS</text>
<defs>
<path id="la" d="M10.7 38.5h.01M52.8 41.9h.01M38.7 53.0h.01M47.4 9.3h.01M56.9 39.9h.01M1.4 25.3h.01M9.8 29.0h.01M68.5 52.9h.01M42.0 26.0h.01M65.9 21.2h.01M63.6 33.1h.01M9.6 10.1h.01M57.5 39.4h.01M57.9 42.3h.01M51.9 25.5h.01M51.6 38.3h.01M50.7 13.0h.01M1.3 18.9h.01M9.4 1.9h.01M10.3 7.1h.01M21.3 39.2h.01M8.4 36.7h.01M46.9 36.8h.01M0.9 9.1h.01M4.0 36.3h.01M32.0 38.0h.01M65.1 0.8h.01M28.0 36.2h.01M9.0 38.0h.01M31.9 19.9h.01M15.6 32.2h.01M10.1 8.9h.01M21.6 12.5h.01M38.3 2.9h.01M70.3 48.2h.01M65.0 16.7h.01M17.7 7.4h.01M25.1 26.8h.01M23.7 3.0h.01M7.0 49.8h.01M2.4 2.4h.01M37.1 51.7h.01M55.5 49.2h.01M57.0 25.7h.01M11.5 6.8h.01M38.5 31.4h.01M17.9 30.4h.01M14.0 2.8h.01M9.4 19.1h.01M70.1 48.6h.01M27.2 23.3h.01M5.4 13.5h.01M0.5 17.4h.01M2.4 3.7h.01M62.9 22.1h.01M14.4 7.9h.01M24.3 50.7h.01M28.0 12.2h.01M56.1 39.7h.01M48.1 7.9h.01M27.5 28.5h.01M56.8 9.8h.01M50.9 19.2h.01M22.1 34.1h.01M69.6 51.9h.01M35.6 31.6h.01M29.0 10.3h.01M62.7 44.4h.01M12.6 2.9h.01M49.2 32.6h.01M50.7 26.1h.01M9.0 54.5h.01M46.3 12.7h.01M23.3 22.7h.01M20.5 36.1h.01M22.4 35.9h.01M4.2 42.8h.01M65.2 10.2h.01M32.8 28.2h.01M57.4 42.8h.01M37.7 20.3h.01M44.5 36.2h.01M27.2 18.2h.01M6.1 29.1h.01M7.9 41.8h.01M17.1 17.9h.01M71.3 48.7h.01M33.9 34.7h.01M41.8 12.4h.01M20.4 43.0h.01M28.2 51.3h.01M5.1 5.8h.01M8.9 17.9h.01M34.1 36.7h.01M2.4 29.4h.01M8.5 31.8h.01M1.6 29.4h.01M69.8 8.5h.01M50.0 33.3h.01M20.3 45.0h.01M13.3 52.2h.01M4.1 1.7h.01M52.9 9.6h.01M14.9 10.5h.01M65.2 1.4h.01M38.3 17.9h.01M29.6 9.5h.01M30.4 22.8h.01M11.5 40.3h.01M2.9 53.8h.01M65.5 22.6h.01M25.3 35.3h.01M0.5 16.8h.01M27.3 24.4h.01M19.4 37.4h.01M8.3 51.9h.01M3.8 9.4h.01M8.0 8.1h.01M8.8 3.7h.01M70.7 38.7h.01M28.8 46.4h.01M3.3 8.6h.01M9.4 30.1h.01M49.9 55.4h.01M24.0 8.3h.01M18.9 35.5h.01M49.8 16.2h.01M60.1 4.8h.01M14.3 42.3h.01M25.5 27.0h.01M5.3 11.6h.01M68.0 47.8h.01M67.8 51.2h.01M2.4 6.1h.01M70.7 49.8h.01M71.9 18.1h.01M57.0 13.8h.01M67.4 22.9h.01M18.2 50.0h.01M70.2 49.1h.01M28.7 30.4h.01M20.8 28.9h.01M57.3 38.0h.01M0.3 47.8h.01M32.3 37.8h.01M71.0 26.6h.01M6.2 7.3h.01M6.1 8.4h.01M46.6 37.6h.01M50.1 53.2h.01M47.9 35.5h.01M63.0 27.5h.01M6.8 14.9h.01M64.9 15.3h.01M13.3 2.8h.01M43.2 6.6h.01M51.8 22.9h.01M39.7 40.3h.01M60.4 8.1h.01M14.4 52.6h.01M50.3 33.0h.01M58.3 44.1h.01M5.6 6.4h.01M6.6 34.5h.01M9.3 0.8h.01M24.4 24.0h.01M53.4 21.8h.01M8.5 3.9h.01M27.4 26.7h.01M52.3 37.7h.01M18.4 31.8h.01M31.9 49.7h.01M51.3 51.2h.01M22.2 34.1h.01M0.1 24.7h.01M46.0 9.8h.01M65.2 47.7h.01M57.0 22.7h.01M24.9 26.6h.01M46.0 25.9h.01M23.2 42.1h.01M9.0 -0.9h.01M57.7 41.5h.01M49.3 25.1h.01M4.6 10.7h.01M66.7 15.0h.01M37.5 29.7h.01M4.8 5.0h.01M48.0 18.3h.01M16.2 32.0h.01M63.3 24.1h.01M61.3 35.5h.01M34.5 37.7h.01M39.4 37.8h.01M18.7 34.1h.01M10.8 37.1h.01M8.1 26.0h.01M60.1 39.3h.01M38.6 30.5h.01M37.1 45.9h.01M32.5 40.4h.01M9.7 4.7h.01M67.2 10.1h.01M63.0 23.4h.01M59.8 5.7h.01M2.2 53.1h.01M56.3 46.4h.01M55.4 50.3h.01M32.2 10.8h.01M66.7 48.6h.01M3.3 52.3h.01M29.6 14.2h.01M37.1 1.0h.01M55.0 35.0h.01M46.1 44.1h.01M55.7 42.5h.01M56.6 12.4h.01M32.3 31.7h.01M10.2 4.8h.01M1.0 20.8h.01M49.4 13.9h.01M47.8 44.3h.01M3.4 51.6h.01M8.7 31.5h.01M4.5 41.8h.01M39.0 18.6h.01M30.6 23.7h.01M27.7 42.0h.01M53.6 12.9h.01M65.8 49.4h.01M0.3 4.8h.01M64.5 48.9h.01M51.6 6.5h.01M45.5 48.2h.01M42.9 10.0h.01M53.9 13.2h.01M65.7 16.3h.01M63.6 20.0h.01M36.5 45.0h.01M3.1 19.4h.01M22.4 38.7h.01M65.2 38.5h.01M7.2 12.9h.01M29.6 47.1h.01M59.5 18.3h.01M68.2 15.0h.01M53.3 24.1h.01M25.6 3.3h.01M21.4 35.5h.01M66.9 51.0h.01M6.4 49.2h.01M66.9 46.3h.01M29.2 2.1h.01M64.3 17.5h.01M63.8 21.7h.01M12.1 30.3h.01M51.3 51.6h.01M54.5 8.2h.01M4.2 19.6h.01M52.4 44.7h.01M14.3 53.8h.01M26.9 3.9h.01M8.8 6.7h.01M64.8 9.9h.01M17.2 12.5h.01M2.8 53.0h.01M71.4 47.2h.01M8.1 38.7h.01M68.6 50.5h.01M25.8 22.0h.01M5.3 55.9h.01M52.7 21.5h.01M20.7 50.6h.01M39.4 46.9h.01M7.1 50.5h.01M56.2 48.5h.01M48.4 42.3h.01M24.1 42.2h.01M33.1 35.7h.01M66.5 53.8h.01M67.0 -0.3h.01M19.0 36.8h.01M30.5 51.2h.01M29.3 29.0h.01M29.5 37.8h.01M36.1 31.4h.01M41.6 40.5h.01M60.8 14.4h.01M2.8 42.6h.01M7.0 44.1h.01M65.4 33.1h.01M12.5 2.2h.01M64.4 2.1h.01M4.3 20.1h.01M33.9 12.1h.01M3.8 51.5h.01M8.3 50.1h.01M33.5 30.0h.01M21.6 43.5h.01M1.8 3.8h.01M32.6 16.4h.01M54.1 42.2h.01M17.8 37.2h.01M70.8 38.4h.01M14.5 2.3h.01M65.3 22.9h.01M9.6 54.1h.01M42.0 14.2h.01M23.7 50.7h.01M29.4 5.6h.01M19.6 36.4h.01M54.1 46.0h.01M50.6 50.9h.01M40.8 27.4h.01M48.4 14.7h.01M7.9 51.8h.01M68.6 34.8h.01M73.3 47.5h.01M52.2 40.6h.01M5.0 42.4h.01M10.4 52.9h.01M26.9 23.5h.01M38.3 18.4h.01M69.4 15.9h.01M50.0 14.2h.01M18.1 9.4h.01M68.0 13.1h.01M5.9 37.9h.01M1.2 19.1h.01M12.1 11.1h.01M70.1 50.4h.01M70.5 47.3h.01M31.3 28.0h.01M54.7 46.8h.01M7.7 40.2h.01M1.8 54.9h.01M38.3 14.2h.01M71.6 50.1h.01M24.9 20.9h.01M40.4 18.0h.01M1.2 1.9h.01M33.7 23.2h.01M22.4 37.2h.01M50.7 39.2h.01M1.7 18.6h.01M7.8 38.1h.01M49.0 38.0h.01M37.0 46.5h.01M31.9 13.4h.01M7.4 51.5h.01M45.3 46.6h.01M5.8 44.4h.01M58.9 43.6h.01M29.9 34.6h.01M20.4 23.1h.01M19.9 11.3h.01M70.0 15.3h.01M53.0 21.1h.01M34.1 35.0h.01M57.3 16.9h.01M4.9 8.8h.01M16.8 52.4h.01M32.0 41.4h.01M58.1 13.7h.01M68.3 29.5h.01M27.8 19.3h.01M48.7 0.6h.01M-0.4 4.5h.01M30.2 21.5h.01M52.1 35.5h.01M11.1 6.3h.01M56.5 33.8h.01M39.9 39.6h.01M39.0 9.6h.01M0.7 24.3h.01M18.5 32.4h.01M25.0 20.3h.01M41.2 27.6h.01M72.5 34.9h.01M32.0 30.3h.01M15.5 12.6h.01M12.4 10.3h.01M5.5 52.0h.01M59.3 0.9h.01M49.2 52.0h.01M30.6 17.1h.01M24.8 38.6h.01M60.5 39.3h.01M70.7 49.2h.01M47.6 1.3h.01M18.2 4.5h.01M42.3 6.5h.01M5.3 36.1h.01M33.3 36.1h.01M2.4 43.9h.01M4.5 53.4h.01M6.0 51.4h.01M26.1 2.1h.01M2.8 20.5h.01M28.4 15.2h.01M52.1 18.6h.01M28.1 52.9h.01M2.9 18.9h.01M7.7 36.7h.01M35.7 28.5h.01M6.4 38.9h.01M2.0 21.9h.01M24.4 50.2h.01M6.0 34.3h.01M18.2 33.5h.01M1.4 18.2h.01M58.5 40.8h.01M27.4 32.6h.01M8.4 52.2h.01M71.2 43.4h.01M22.7 42.8h.01M35.6 37.9h.01M13.3 25.2h.01M33.0 18.3h.01M65.9 30.0h.01" stroke-linecap="round" fill="none"/>
<path id="lb" d="M16.4 23.4h.01M61.4 0.8h.01M54.2 28.8h.01M26.8 26.3h.01M68.6 14.3h.01M20.9 45.6h.01M48.3 22.3h.01M25.2 49.7h.01M20.8 45.9h.01M62.9 38.3h.01M39.6 18.6h.01M67.4 28.3h.01M44.0 18.0h.01M49.1 36.8h.01M56.6 19.6h.01M27.8 14.7h.01M33.8 37.2h.01M69.4 44.9h.01M20.5 44.4h.01M7.5 49.6h.01M4.8 45.3h.01M45.3 44.1h.01M31.9 23.9h.01M53.0 48.3h.01M17.3 10.8h.01M33.1 22.1h.01M68.5 25.1h.01M58.4 10.8h.01M17.1 23.5h.01M52.2 29.8h.01M41.0 26.7h.01M65.0 31.2h.01M34.5 48.3h.01M66.4 23.2h.01M55.4 8.5h.01M51.4 54.0h.01M56.9 46.4h.01M51.2 4.2h.01M25.2 8.9h.01M22.6 3.7h.01M1.8 4.2h.01M30.5 39.5h.01M43.5 24.9h.01M32.2 38.1h.01M30.0 20.8h.01M25.8 54.2h.01M48.7 10.8h.01M69.9 49.7h.01M11.1 5.0h.01M6.7 49.3h.01M41.5 41.8h.01M67.9 3.5h.01M59.0 53.3h.01M68.3 4.4h.01M51.3 52.7h.01M8.8 13.1h.01M31.4 29.5h.01M41.6 47.8h.01M19.8 19.6h.01M-0.1 18.0h.01M55.4 39.3h.01M53.4 49.5h.01M15.1 12.9h.01M59.0 18.6h.01M47.2 47.3h.01M47.1 18.8h.01M57.2 17.8h.01M48.0 11.4h.01M25.8 54.6h.01M64.9 6.4h.01M44.4 47.9h.01M34.3 1.2h.01M29.0 47.8h.01M3.8 27.2h.01M43.5 29.1h.01M31.7 30.5h.01M39.1 40.2h.01M65.0 46.4h.01M30.2 51.8h.01M21.8 32.3h.01M51.8 14.5h.01M38.2 31.8h.01M18.5 42.8h.01M4.0 29.8h.01M16.8 20.6h.01M8.4 53.6h.01M22.5 27.7h.01M11.6 52.6h.01M45.9 39.2h.01M16.4 41.0h.01M63.8 1.9h.01M46.2 6.7h.01M30.5 16.7h.01M41.4 3.2h.01M3.5 20.3h.01M14.8 49.4h.01M37.1 46.0h.01M40.5 52.6h.01M22.9 9.0h.01M49.3 50.7h.01M58.1 3.1h.01M43.0 14.6h.01M49.3 53.4h.01M7.2 41.8h.01M41.0 16.5h.01M69.2 44.0h.01M5.2 35.8h.01M27.7 41.9h.01M55.9 1.5h.01M62.9 50.9h.01M27.8 8.0h.01M61.4 50.2h.01M23.5 3.4h.01M11.0 36.0h.01M22.4 32.7h.01M35.3 3.0h.01M49.8 44.7h.01M70.2 41.8h.01M31.7 45.5h.01M47.2 27.7h.01M30.6 29.6h.01M29.9 46.3h.01M54.2 13.7h.01M53.1 1.3h.01M42.4 27.5h.01M8.1 28.5h.01M60.6 19.2h.01M0.9 25.4h.01M46.7 51.7h.01M49.1 16.8h.01M0.1 36.0h.01M63.4 30.8h.01M59.5 15.6h.01M30.7 25.2h.01M15.1 10.8h.01M61.5 16.4h.01M50.2 23.3h.01M57.8 51.6h.01M35.5 49.3h.01M66.1 49.2h.01M41.0 24.4h.01M29.3 38.9h.01M58.4 21.2h.01M52.8 34.3h.01M22.1 12.5h.01M10.4 31.1h.01M48.2 42.1h.01M51.7 49.6h.01M50.7 50.6h.01M68.5 8.0h.01M63.3 19.3h.01M41.5 31.7h.01M15.4 12.9h.01M29.4 46.8h.01M37.7 48.0h.01M37.9 44.5h.01M-0.3 19.0h.01M60.8 50.5h.01M9.3 26.6h.01M24.5 53.6h.01M48.3 53.3h.01M53.1 1.1h.01M58.7 53.6h.01M26.3 19.6h.01M68.7 17.3h.01M40.5 3.9h.01M55.5 40.1h.01M20.2 9.6h.01M7.8 54.1h.01M48.2 24.6h.01M57.7 10.7h.01M42.0 25.1h.01M57.8 52.2h.01M63.3 19.9h.01M39.2 41.9h.01M13.0 0.3h.01M38.7 30.5h.01M15.4 50.7h.01M69.6 52.1h.01M52.7 16.3h.01M19.1 8.6h.01M26.5 24.1h.01M17.6 25.4h.01M46.0 46.6h.01M11.4 29.4h.01M33.0 38.8h.01M11.5 31.6h.01M41.5 19.3h.01M71.8 12.0h.01M23.2 35.6h.01M11.9 32.4h.01M40.5 34.2h.01M14.1 11.1h.01M54.2 -0.2h.01M33.6 32.1h.01M12.8 33.1h.01M28.3 11.9h.01M13.1 6.8h.01M43.9 46.6h.01M53.2 31.3h.01M38.1 42.5h.01M6.8 51.1h.01M37.4 48.3h.01M4.9 32.8h.01M20.9 45.9h.01M23.6 49.9h.01M11.7 53.7h.01M55.1 34.7h.01M46.8 5.7h.01M54.0 34.5h.01M5.6 30.0h.01M31.4 32.8h.01M17.0 45.6h.01M19.7 0.6h.01M49.7 1.8h.01M62.7 48.1h.01M1.0 18.6h.01M9.6 49.2h.01M3.1 52.4h.01M25.7 42.2h.01M32.7 36.8h.01M71.4 14.5h.01M68.0 4.0h.01M34.0 39.6h.01M49.1 2.3h.01M58.1 50.2h.01M63.1 23.9h.01M23.2 6.2h.01M25.8 7.3h.01M7.8 35.9h.01M31.6 4.9h.01M69.6 18.9h.01M42.5 13.0h.01M25.1 51.5h.01M4.0 33.3h.01M43.8 3.0h.01M41.3 29.2h.01M31.0 1.1h.01M16.2 27.4h.01M68.7 42.8h.01M36.7 49.5h.01M67.9 35.7h.01M16.6 50.4h.01M52.4 28.3h.01M58.7 8.7h.01M13.2 2.6h.01M54.0 34.6h.01M33.4 6.6h.01M60.0 24.0h.01M26.2 47.8h.01M15.0 49.2h.01M25.4 54.6h.01M39.4 30.0h.01M11.4 18.5h.01M19.7 11.3h.01M58.9 20.0h.01M-1.1 20.3h.01M27.8 51.1h.01M1.5 19.3h.01M1.7 28.3h.01M11.2 1.2h.01M35.7 34.5h.01M45.1 46.8h.01M12.6 18.1h.01M70.2 32.9h.01M55.5 36.7h.01M23.8 51.2h.01M62.3 5.8h.01M70.7 33.1h.01M3.7 27.8h.01M71.3 13.6h.01M40.4 43.5h.01M23.9 45.8h.01M14.3 21.9h.01M25.0 10.0h.01M48.5 9.3h.01M24.5 20.1h.01M9.4 47.1h.01M11.4 16.0h.01M14.2 26.0h.01M51.1 9.6h.01M70.0 31.8h.01M40.9 41.9h.01M58.7 10.7h.01M25.7 14.7h.01M47.2 28.1h.01M38.8 13.8h.01M29.3 19.8h.01M34.0 39.6h.01M9.5 6.7h.01M43.6 42.4h.01M51.1 45.9h.01M65.1 49.8h.01M7.4 47.9h.01M34.4 33.0h.01M50.6 42.8h.01M40.0 36.5h.01M18.7 32.5h.01M70.6 27.6h.01M27.9 27.9h.01M27.6 47.9h.01M16.7 35.3h.01M67.7 16.2h.01M-1.8 19.7h.01M0.4 48.3h.01M15.6 0.7h.01M69.5 1.6h.01M65.7 23.8h.01M6.4 49.0h.01M47.4 5.2h.01M62.7 38.9h.01M42.5 2.1h.01M54.0 34.4h.01M58.7 50.6h.01M63.9 48.4h.01M2.7 25.4h.01M39.2 20.2h.01M44.3 21.3h.01M24.5 52.7h.01M1.9 3.3h.01M55.5 43.0h.01M50.2 19.2h.01M34.7 46.5h.01M20.2 7.6h.01M56.0 48.8h.01M10.5 14.4h.01M2.5 18.6h.01M59.0 0.7h.01M46.0 46.7h.01M8.5 4.8h.01M48.0 44.1h.01M24.4 2.1h.01M70.9 24.1h.01M23.8 20.3h.01M59.6 33.5h.01M4.4 48.8h.01M66.6 50.2h.01M28.9 52.5h.01M43.6 6.7h.01M51.4 3.1h.01M5.4 29.5h.01M32.3 22.4h.01M16.9 22.2h.01M34.1 4.1h.01M16.4 16.1h.01M20.2 53.1h.01M68.0 3.8h.01M44.8 1.7h.01M26.2 8.8h.01M17.7 11.5h.01M59.2 50.8h.01M24.9 31.7h.01M52.0 12.3h.01M25.6 0.5h.01M10.0 41.8h.01M16.3 22.9h.01M17.4 34.9h.01M72.7 35.6h.01M64.0 31.0h.01M22.3 3.6h.01M33.1 19.4h.01M46.3 32.6h.01M24.9 7.7h.01M60.1 44.5h.01M69.4 36.1h.01M18.6 48.5h.01M24.3 53.1h.01M12.2 31.4h.01M43.9 11.3h.01M26.1 53.0h.01M43.1 46.3h.01M12.1 13.3h.01M57.8 16.3h.01M6.4 34.1h.01M68.1 35.5h.01M65.1 49.5h.01M34.4 38.7h.01M12.6 50.6h.01M61.8 51.2h.01M70.6 11.0h.01M43.7 40.8h.01M55.4 14.1h.01M2.6 53.7h.01M29.5 54.4h.01M50.5 28.2h.01M39.1 29.2h.01M33.9 21.8h.01M23.0 37.3h.01M28.7 46.9h.01M24.7 40.9h.01M22.9 52.0h.01M14.8 47.1h.01M38.6 46.5h.01M59.5 21.4h.01M29.7 45.6h.01M39.9 42.3h.01M16.9 33.9h.01M37.6 46.2h.01M11.8 26.0h.01M54.7 39.3h.01M68.1 21.6h.01M31.1 7.9h.01M67.8 8.0h.01M22.0 5.3h.01M40.4 17.0h.01M71.9 10.1h.01M10.8 49.1h.01M30.4 7.2h.01M35.8 15.2h.01M36.1 45.3h.01M36.8 46.8h.01M60.9 31.0h.01M35.4 45.5h.01M14.6 26.7h.01M22.6 3.9h.01M46.3 40.0h.01M50.1 50.1h.01M28.6 50.5h.01M17.7 8.9h.01M21.7 35.8h.01" stroke-linecap="round" fill="none"/>
<path id="lc" d="M9.9 40.5h.01M37.0 7.3h.01M10.4 41.2h.01M0.8 51.7h.01M7.4 9.6h.01M33.0 30.7h.01M0.4 4.1h.01M20.5 53.0h.01M22.9 27.8h.01M49.6 50.0h.01M71.4 15.1h.01M51.3 43.9h.01M45.5 11.1h.01M1.7 48.2h.01M71.5 32.1h.01M13.5 42.9h.01M55.6 34.4h.01M22.2 31.1h.01M52.5 19.0h.01M60.6 25.4h.01M68.2 46.5h.01M2.7 18.7h.01M64.5 3.4h.01M71.8 1.3h.01M58.0 41.9h.01M46.2 35.3h.01M25.3 32.6h.01M30.8 36.3h.01M6.6 3.7h.01M68.5 49.9h.01M33.2 20.0h.01M38.0 42.3h.01M24.2 34.0h.01M59.8 26.7h.01M57.7 1.4h.01M66.2 24.8h.01M62.0 23.4h.01M16.0 45.3h.01M60.7 0.6h.01M35.9 14.3h.01M70.9 49.7h.01M28.2 30.4h.01M15.3 13.2h.01M30.5 16.3h.01M49.0 48.3h.01M25.2 52.8h.01M65.8 40.3h.01M55.8 3.1h.01M19.7 3.7h.01M61.2 2.5h.01M6.0 18.0h.01M42.0 43.0h.01M29.8 36.8h.01M65.1 27.8h.01M66.4 3.2h.01M31.9 15.8h.01M41.0 42.8h.01M4.0 19.7h.01M21.1 37.7h.01M58.4 38.4h.01M58.9 17.8h.01M1.4 0.7h.01M34.8 52.2h.01M10.1 51.3h.01M53.1 8.5h.01M54.3 6.1h.01M50.9 20.2h.01M19.1 1.6h.01M63.2 45.5h.01M0.8 36.1h.01M56.0 32.8h.01M19.5 4.4h.01M52.7 52.7h.01M40.1 4.7h.01M4.7 22.6h.01M26.1 42.6h.01M53.1 3.0h.01M65.0 9.4h.01M71.2 19.9h.01M54.0 37.1h.01M31.7 30.7h.01M19.8 12.1h.01M25.4 26.0h.01M4.5 52.7h.01M53.0 46.8h.01M21.3 21.8h.01M3.6 14.4h.01M64.0 43.8h.01M37.1 25.8h.01M55.5 16.9h.01M44.2 53.1h.01M56.0 26.5h.01M37.6 51.8h.01M22.8 43.8h.01M9.2 46.9h.01M21.1 51.7h.01M11.8 17.9h.01M15.3 46.5h.01M58.7 28.1h.01M45.8 17.5h.01M50.0 18.8h.01M15.4 53.6h.01M5.4 40.8h.01M27.6 48.4h.01M31.2 27.8h.01M75.8 50.1h.01M21.8 23.8h.01M40.1 39.9h.01M19.1 48.9h.01M5.1 9.2h.01M5.5 24.8h.01M51.2 10.1h.01M47.7 9.3h.01M30.7 53.1h.01M15.8 5.3h.01M41.1 21.6h.01M3.8 53.6h.01M28.0 9.3h.01M69.9 32.2h.01M41.6 2.0h.01M15.9 53.2h.01M12.2 44.3h.01M62.3 46.1h.01M61.9 17.3h.01M36.4 47.7h.01M20.1 41.9h.01M56.8 51.5h.01M43.0 43.0h.01M26.0 45.2h.01M52.8 9.8h.01M24.0 12.2h.01M28.6 38.6h.01M40.0 50.0h.01M16.8 26.0h.01M0.7 13.4h.01M67.0 0.9h.01M23.5 18.3h.01M64.4 32.4h.01M23.2 26.7h.01M29.9 34.3h.01M21.1 4.1h.01M22.7 52.6h.01M42.5 4.9h.01M12.6 50.5h.01M30.9 12.9h.01M40.7 52.9h.01M71.4 11.5h.01M58.0 22.6h.01M67.2 14.2h.01M25.9 35.4h.01M64.6 6.8h.01M26.0 28.1h.01M51.5 24.3h.01M72.6 49.8h.01M22.9 46.6h.01M16.3 2.1h.01M5.9 31.3h.01M27.4 18.8h.01M32.0 16.4h.01M63.4 1.8h.01M31.2 46.3h.01M16.7 5.5h.01M53.7 18.7h.01M67.4 34.4h.01M7.0 8.2h.01M25.9 15.6h.01M13.0 52.2h.01M49.0 22.1h.01M18.2 28.1h.01M2.6 52.5h.01M54.5 28.8h.01M22.7 2.2h.01M10.7 4.9h.01M18.0 50.9h.01M7.0 5.1h.01M28.5 30.0h.01M60.7 35.7h.01M60.5 10.9h.01M58.9 22.9h.01M67.0 5.0h.01M68.7 21.4h.01M51.1 29.3h.01M57.7 13.7h.01M5.0 12.5h.01M53.1 39.1h.01M68.7 43.2h.01M66.8 15.1h.01M64.6 26.5h.01M3.4 25.0h.01M34.0 13.5h.01M44.1 28.0h.01M28.8 30.3h.01M54.2 12.2h.01M25.6 12.5h.01M14.7 54.1h.01M16.7 36.1h.01M17.6 34.2h.01M9.7 36.6h.01M48.3 7.8h.01M12.7 31.5h.01M64.9 33.3h.01M73.0 39.2h.01M67.3 3.5h.01M5.7 7.7h.01M53.2 31.1h.01M42.2 38.6h.01M22.5 33.3h.01M63.3 40.4h.01M22.2 47.8h.01M12.8 22.0h.01M62.2 4.5h.01M28.9 31.8h.01M18.8 34.7h.01M53.4 23.8h.01M55.6 17.0h.01M31.8 46.2h.01M69.5 52.9h.01M17.1 47.4h.01M61.6 19.9h.01M55.5 36.4h.01M68.0 4.7h.01M37.7 34.2h.01M24.0 38.6h.01M13.7 34.3h.01M68.4 10.8h.01M66.3 12.0h.01M58.5 22.8h.01M47.0 44.9h.01M6.0 26.5h.01M14.3 15.2h.01M37.9 34.7h.01M62.5 44.0h.01M59.1 24.2h.01M43.1 50.8h.01M48.0 20.0h.01M10.9 4.1h.01M63.1 15.4h.01M18.0 29.6h.01M11.2 8.2h.01M0.6 2.2h.01M1.9 28.0h.01M34.5 2.4h.01M67.9 15.5h.01M56.5 33.9h.01M40.3 24.5h.01M59.1 14.5h.01M4.0 53.4h.01M55.6 52.4h.01M3.2 51.1h.01M6.2 11.9h.01M54.1 38.8h.01M6.0 26.5h.01M69.3 14.4h.01M37.2 31.6h.01M50.8 41.9h.01M3.4 4.2h.01M52.2 51.5h.01M33.5 10.6h.01M32.3 27.4h.01M3.0 7.5h.01M33.8 46.9h.01M67.5 12.2h.01M38.9 18.4h.01M29.7 10.0h.01M66.7 15.3h.01M40.1 38.0h.01M23.5 34.9h.01M40.5 23.7h.01M48.1 16.3h.01M8.9 45.5h.01M66.3 43.5h.01M66.7 4.6h.01M45.0 43.1h.01M52.8 33.9h.01M59.8 14.9h.01M11.9 9.2h.01M62.7 49.3h.01M15.3 21.4h.01M24.4 23.0h.01M46.2 12.5h.01M16.6 15.3h.01M66.3 40.6h.01M23.6 13.6h.01M2.3 6.5h.01M32.4 20.5h.01M24.8 31.8h.01M25.7 29.5h.01M59.7 36.5h.01M37.1 28.7h.01M4.9 2.2h.01M54.6 39.6h.01M29.1 20.0h.01M20.4 -1.0h.01M10.9 30.9h.01M9.6 47.6h.01M2.8 52.1h.01M51.1 41.3h.01M67.7 14.0h.01M69.1 12.9h.01M13.2 48.4h.01M41.0 6.8h.01M9.8 39.3h.01M38.7 7.1h.01M56.1 37.3h.01M12.9 47.1h.01M37.5 41.4h.01M55.4 1.8h.01M59.1 12.1h.01M58.3 13.0h.01M48.6 4.1h.01M67.5 49.0h.01M0.5 43.3h.01M24.3 6.8h.01M21.7 29.9h.01M41.3 2.5h.01M4.5 22.9h.01M9.0 4.1h.01M26.2 33.8h.01M51.8 43.2h.01M4.7 35.1h.01M41.9 20.0h.01M16.2 53.6h.01M9.2 7.3h.01M40.2 36.6h.01M16.5 52.0h.01M1.6 47.1h.01M26.0 12.1h.01M11.0 13.6h.01M53.6 37.6h.01M67.5 32.4h.01M70.7 12.7h.01M30.6 48.5h.01M31.1 30.2h.01M19.7 46.2h.01M9.3 44.0h.01M45.6 42.1h.01M15.2 22.8h.01M22.6 31.3h.01M25.1 35.5h.01M40.7 41.7h.01M21.0 41.0h.01M58.4 21.4h.01M25.8 24.0h.01M25.1 36.8h.01M49.8 20.1h.01M10.3 22.8h.01M40.0 37.7h.01M23.2 24.7h.01M2.8 1.6h.01M62.7 45.7h.01M37.7 22.5h.01M21.3 53.5h.01M46.4 30.8h.01M51.1 37.2h.01M33.4 30.6h.01M32.3 17.7h.01M10.6 50.0h.01M38.9 1.1h.01M64.1 37.0h.01M22.0 15.7h.01M23.4 49.4h.01M45.6 52.2h.01M64.6 24.6h.01M69.7 10.7h.01M4.9 19.3h.01M50.7 45.4h.01M15.1 55.3h.01M61.5 14.3h.01M35.3 21.0h.01M55.0 40.3h.01M45.6 13.1h.01M23.3 21.5h.01M42.5 2.4h.01M35.3 4.0h.01M37.7 39.4h.01M36.6 8.5h.01M28.1 18.7h.01M30.2 28.3h.01M43.2 29.2h.01M69.5 4.5h.01M9.7 8.5h.01M38.8 22.6h.01M69.4 22.7h.01M1.1 44.5h.01M2.3 21.6h.01M-0.3 46.7h.01M38.5 41.4h.01M28.9 0.9h.01M72.2 49.5h.01M9.4 36.9h.01M72.6 49.0h.01M17.7 48.8h.01M23.1 35.9h.01M18.5 29.6h.01M4.6 25.6h.01M31.0 46.6h.01M11.9 49.6h.01M71.3 46.6h.01M64.8 10.2h.01M3.7 13.4h.01M34.4 46.7h.01M31.8 21.0h.01M12.8 52.6h.01M60.0 27.3h.01M42.7 3.2h.01M42.0 41.6h.01M24.9 6.4h.01M32.0 16.5h.01M48.6 36.3h.01M51.6 34.2h.01M74.5 38.2h.01M49.9 36.3h.01M3.2 24.2h.01M53.6 32.0h.01M71.5 25.4h.01M33.6 20.3h.01M14.7 54.2h.01M69.3 38.5h.01M69.0 22.9h.01M39.9 44.2h.01" stroke-linecap="round" fill="none"/>
</defs>
<clipPath id="tc0"><rect x="24.4" y="723.3" width="72.8" height="54"/></clipPath>
<g clip-path="url(#tc0)">
<rect x="24.4" y="723.3" width="72.8" height="54" fill="#d3d4dc"/>
<use href="#la" transform="translate(24.4 723.3)" stroke="#433ca8" stroke-width="1.45" opacity=".85"/>
<use href="#lb" transform="translate(97.2 723.3) scale(-1 1)" stroke="#34319b" stroke-width="1.3" opacity=".85"/>
<use href="#lc" transform="translate(24.4 777.3) scale(1 -1)" stroke="#433ca8" stroke-width="1" opacity=".75"/>
</g>
<clipPath id="tc1"><rect x="106.2" y="723.3" width="72.8" height="54"/></clipPath>
<g clip-path="url(#tc1)">
<rect x="106.2" y="723.3" width="72.8" height="54" fill="#d5d1e0"/>
<use href="#la" transform="translate(179 723.3) scale(-1 1)" stroke="#5f46b2" stroke-width="1.5" opacity=".85"/>
<use href="#lb" transform="translate(106.2 777.3) scale(1 -1)" stroke="#4b37a3" stroke-width="1.4" opacity=".85"/>
<use href="#lc" transform="translate(106.2 723.3)" stroke="#5f46b2" stroke-width="1.4" opacity=".85"/>
<use href="#la" transform="translate(179 777.3) scale(-1 -1)" stroke="#4b37a3" stroke-width="1" opacity=".75"/>
</g>
<clipPath id="tc2"><rect x="187.5" y="723.3" width="72.8" height="54"/></clipPath>
<g clip-path="url(#tc2)">
<rect x="187.5" y="723.3" width="72.8" height="54" fill="#d4d5dc"/>
<use href="#lb" transform="translate(187.5 723.3)" stroke="#433ca8" stroke-width="1.45" opacity=".85"/>
<use href="#lc" transform="translate(260.3 777.3) scale(-1 -1)" stroke="#34319b" stroke-width="1.25" opacity=".85"/>
<use href="#la" transform="translate(187.5 777.3) scale(1 -1)" stroke="#433ca8" stroke-width=".8" opacity=".6"/>
</g>
<clipPath id="tc3"><rect x="268.1" y="723.3" width="72.8" height="54"/></clipPath>
<g clip-path="url(#tc3)">
<rect x="268.1" y="723.3" width="72.8" height="54" fill="#d2d2d8"/>
<use href="#lc" transform="translate(340.9 723.3) scale(-1 1)" stroke="#433ca8" stroke-width="1.3" opacity=".8"/>
<use href="#la" transform="translate(268.1 723.3)" stroke="#433ca8" stroke-width=".6" opacity=".5"/>
</g>
<clipPath id="tc4"><rect x="24.4" y="785" width="72.8" height="54"/></clipPath>
<g clip-path="url(#tc4)">
<rect x="24.4" y="785" width="72.8" height="54" fill="#d1d4da"/>
<use href="#lb" transform="translate(24.4 839) scale(1 -1)" stroke="#34319b" stroke-width="1.45" opacity=".85"/>
<use href="#la" transform="translate(97.2 839) scale(-1 -1)" stroke="#433ca8" stroke-width="1.3" opacity=".85"/>
<use href="#lc" transform="translate(97.2 785) scale(-1 1)" stroke="#34319b" stroke-width="1" opacity=".75"/>
</g>
<clipPath id="tc5"><rect x="106.2" y="785" width="72.8" height="54"/></clipPath>
<g clip-path="url(#tc5)">
<rect x="106.2" y="785" width="72.8" height="54" fill="#d5d1e0"/>
<use href="#lc" transform="translate(179 839) scale(-1 -1)" stroke="#5f46b2" stroke-width="1.5" opacity=".85"/>
<use href="#la" transform="translate(106.2 785)" stroke="#4b37a3" stroke-width="1.4" opacity=".85"/>
<use href="#lb" transform="translate(179 785) scale(-1 1)" stroke="#5f46b2" stroke-width="1.3" opacity=".85"/>
<use href="#lc" transform="translate(106.2 785)" stroke="#4b37a3" stroke-width=".9" opacity=".7"/>
</g>
<clipPath id="tc6"><rect x="187.5" y="785" width="72.8" height="54"/></clipPath>
<g clip-path="url(#tc6)">
<rect x="187.5" y="785" width="72.8" height="54" fill="#d0d4d8"/>
<use href="#la" transform="translate(260.3 785) scale(-1 1)" stroke="#34319b" stroke-width="1.4" opacity=".85"/>
<use href="#lb" transform="translate(260.3 839) scale(-1 -1)" stroke="#433ca8" stroke-width="1.3" opacity=".85"/>
<use href="#lc" transform="translate(187.5 785)" stroke="#34319b" stroke-width="1" opacity=".75"/>
</g>
<clipPath id="tc7"><rect x="268.1" y="785" width="72.8" height="54"/></clipPath>
<g clip-path="url(#tc7)">
<rect x="268.1" y="785" width="72.8" height="54" fill="#d1d3d9"/>
<use href="#lb" transform="translate(268.1 785)" stroke="#433ca8" stroke-width="1.3" opacity=".8"/>
<use href="#lc" transform="translate(268.1 839) scale(1 -1)" stroke="#433ca8" stroke-width=".8" opacity=".6"/>
</g>
<text x="330.2" y="773.1" font-size="7.4" font-style="italic" text-anchor="middle" fill="#1a1414" textLength="19.4" lengthAdjust="spacingAndGlyphs" style="stroke:#1a1414;stroke-width:.3px">25um</text>
<line x1="323.7" y1="776.2" x2="335.5" y2="776.2" stroke="#555" stroke-width=".6"/>
</g>
<g id="panelO">
<text x="350.2" y="707.26" font-size="17.5" class="pl">O</text>
<text x="444.1" y="712.58" font-size="8.6" text-anchor="middle">Migration</text>
<rect x="402.6" y="740.08" width="15.2" height="73.72" fill="#3c5084"/>
<rect x="424.9" y="766.51" width="15" height="47.29" fill="#94c3d6"/>
<rect x="447.6" y="788.58" width="15" height="25.22" fill="#eed2b2"/>
<rect x="470.1" y="772.45" width="14.9" height="41.35" fill="#808080"/>
<line x1="395.4" y1="716.35" x2="395.4" y2="814.25" stroke="#231815" stroke-width=".9"/>
<line x1="394.95" y1="813.8" x2="492.8" y2="813.8" stroke="#231815" stroke-width=".9"/>
<line x1="391.1" y1="813.8" x2="395.4" y2="813.8" stroke="#231815" stroke-width=".9"/>
<text x="390" y="816.45" font-size="7.4" text-anchor="end">0</text>
<line x1="391.1" y1="789.55" x2="395.4" y2="789.55" stroke="#231815" stroke-width=".9"/>
<text x="390" y="792.2" font-size="7.4" text-anchor="end">200</text>
<line x1="391.1" y1="765.3" x2="395.4" y2="765.3" stroke="#231815" stroke-width=".9"/>
<text x="390" y="767.95" font-size="7.4" text-anchor="end">400</text>
<line x1="391.1" y1="741.05" x2="395.4" y2="741.05" stroke="#231815" stroke-width=".9"/>
<text x="390" y="743.7" font-size="7.4" text-anchor="end">600</text>
<line x1="391.1" y1="716.8" x2="395.4" y2="716.8" stroke="#231815" stroke-width=".9"/>
<text x="390" y="719.45" font-size="7.4" text-anchor="end">800</text>
<line x1="410.2" y1="813.8" x2="410.2" y2="817.8" stroke="#231815" stroke-width=".9"/>
<line x1="410.2" y1="743.47" x2="410.2" y2="737.65" stroke="#231815" stroke-width=".7"/>
<line x1="406.7" y1="743.47" x2="413.7" y2="743.47" stroke="#231815" stroke-width=".7"/>
<line x1="406.7" y1="737.65" x2="413.7" y2="737.65" stroke="#231815" stroke-width=".7"/>
<circle cx="407.2" cy="738.38" r="1.9"/>
<circle cx="413.2" cy="740.44" r="1.9"/>
<circle cx="410.2" cy="742.87" r="1.9"/>
<text x="405.4" y="835.91" font-size="7" text-anchor="middle" transform="rotate(-45 405.4 833.4)">TREM2</text>
<line x1="432.4" y1="813.8" x2="432.4" y2="817.8" stroke="#231815" stroke-width=".9"/>
<line x1="432.4" y1="769.54" x2="432.4" y2="763.48" stroke="#231815" stroke-width=".7"/>
<line x1="428.9" y1="769.54" x2="435.9" y2="769.54" stroke="#231815" stroke-width=".7"/>
<line x1="428.9" y1="763.48" x2="435.9" y2="763.48" stroke="#231815" stroke-width=".7"/>
<path d="M429.4 763.12l2.18 3.8h-4.37z"/>
<path d="M435.4 763.36l2.18 3.8h-4.37z"/>
<path d="M432.4 767l2.18 3.8h-4.37z"/>
<text x="427.6" y="835.91" font-size="7" text-anchor="middle" transform="rotate(-45 427.6 833.4)">Vector</text>
<line x1="455.1" y1="813.8" x2="455.1" y2="817.8" stroke="#231815" stroke-width=".9"/>
<line x1="455.1" y1="790.76" x2="455.1" y2="785.67" stroke="#231815" stroke-width=".7"/>
<line x1="451.6" y1="790.76" x2="458.6" y2="790.76" stroke="#231815" stroke-width=".7"/>
<line x1="451.6" y1="785.67" x2="458.6" y2="785.67" stroke="#231815" stroke-width=".7"/>
<circle cx="455.1" cy="785.91" r="1.9"/>
<circle cx="452.1" cy="789.55" r="1.9"/>
<circle cx="458.1" cy="788.94" r="1.9"/>
<text x="450.3" y="835.91" font-size="7" text-anchor="middle" transform="rotate(-45 450.3 833.4)">shTREM2</text>
<line x1="477.55" y1="813.8" x2="477.55" y2="817.8" stroke="#231815" stroke-width=".9"/>
<line x1="477.55" y1="776.21" x2="477.55" y2="768.94" stroke="#231815" stroke-width=".7"/>
<line x1="474.05" y1="776.21" x2="481.05" y2="776.21" stroke="#231815" stroke-width=".7"/>
<line x1="474.05" y1="768.94" x2="481.05" y2="768.94" stroke="#231815" stroke-width=".7"/>
<path d="M474.55 768.57l2.18 3.8h-4.37z"/>
<path d="M480.55 769.18l2.18 3.8h-4.37z"/>
<path d="M477.55 773.78l2.18 3.8h-4.37z"/>
<text x="472.75" y="835.91" font-size="7" text-anchor="middle" transform="rotate(-45 472.75 833.4)">Scramble</text>
<text x="368.7" y="768.06" font-size="8" text-anchor="middle" textLength="61.7" lengthAdjust="spacingAndGlyphs" transform="rotate(-90 368.7 765.2)">Number of Cells</text>
<line x1="409.9" y1="721.7" x2="432.4" y2="721.7" stroke="#231815" stroke-width=".8"/>
<text x="421.15" y="721.16" font-size="8.3" text-anchor="middle" class="st">***</text>
<line x1="455.1" y1="754.4" x2="477.5" y2="754.4" stroke="#231815" stroke-width=".8"/>
<text x="466.3" y="753.86" font-size="8.3" text-anchor="middle" class="st">**</text>
<text x="370.5" y="838.02" font-size="7.6" text-anchor="middle">CM</text>
<text x="607.6" y="712.58" font-size="8.6" text-anchor="middle">Invasion</text>
<rect x="566.7" y="743.6" width="14.9" height="70.2" fill="#3c5084"/>
<rect x="589.1" y="770.03" width="15" height="43.77" fill="#94c3d6"/>
<rect x="611.6" y="792.22" width="15.2" height="21.58" fill="#eed2b2"/>
<rect x="634.1" y="775" width="14.9" height="38.8" fill="#808080"/>
<line x1="558.9" y1="716.35" x2="558.9" y2="814.25" stroke="#231815" stroke-width=".9"/>
<line x1="558.45" y1="813.8" x2="657" y2="813.8" stroke="#231815" stroke-width=".9"/>
<line x1="554.6" y1="813.8" x2="558.9" y2="813.8" stroke="#231815" stroke-width=".9"/>
<text x="553.5" y="816.45" font-size="7.4" text-anchor="end">0</text>
<line x1="554.6" y1="789.55" x2="558.9" y2="789.55" stroke="#231815" stroke-width=".9"/>
<text x="553.5" y="792.2" font-size="7.4" text-anchor="end">200</text>
<line x1="554.6" y1="765.3" x2="558.9" y2="765.3" stroke="#231815" stroke-width=".9"/>
<text x="553.5" y="767.95" font-size="7.4" text-anchor="end">400</text>
<line x1="554.6" y1="741.05" x2="558.9" y2="741.05" stroke="#231815" stroke-width=".9"/>
<text x="553.5" y="743.7" font-size="7.4" text-anchor="end">600</text>
<line x1="554.6" y1="716.8" x2="558.9" y2="716.8" stroke="#231815" stroke-width=".9"/>
<text x="553.5" y="719.45" font-size="7.4" text-anchor="end">800</text>
<line x1="574.15" y1="813.8" x2="574.15" y2="817.8" stroke="#231815" stroke-width=".9"/>
<line x1="574.15" y1="748.32" x2="574.15" y2="737.41" stroke="#231815" stroke-width=".7"/>
<line x1="570.65" y1="748.32" x2="577.65" y2="748.32" stroke="#231815" stroke-width=".7"/>
<line x1="570.65" y1="737.41" x2="577.65" y2="737.41" stroke="#231815" stroke-width=".7"/>
<circle cx="574.15" cy="737.41" r="1.9"/>
<circle cx="571.15" cy="746.51" r="1.9"/>
<circle cx="577.15" cy="746.87" r="1.9"/>
<text x="571.15" y="835.91" font-size="7" text-anchor="middle" transform="rotate(-45 571.15 833.4)">TREM2</text>
<line x1="596.6" y1="813.8" x2="596.6" y2="817.8" stroke="#231815" stroke-width=".9"/>
<line x1="596.6" y1="772.57" x2="596.6" y2="767.12" stroke="#231815" stroke-width=".7"/>
<line x1="593.1" y1="772.57" x2="600.1" y2="772.57" stroke="#231815" stroke-width=".7"/>
<line x1="593.1" y1="767.12" x2="600.1" y2="767.12" stroke="#231815" stroke-width=".7"/>
<path d="M593.6 766.51l2.18 3.8h-4.37z"/>
<path d="M599.6 766.75l2.18 3.8h-4.37z"/>
<path d="M596.6 769.78l2.18 3.8h-4.37z"/>
<text x="593.6" y="835.91" font-size="7" text-anchor="middle" transform="rotate(-45 593.6 833.4)">Vector</text>
<line x1="619.2" y1="813.8" x2="619.2" y2="817.8" stroke="#231815" stroke-width=".9"/>
<line x1="619.2" y1="793.43" x2="619.2" y2="791" stroke="#231815" stroke-width=".7"/>
<line x1="615.7" y1="793.43" x2="622.7" y2="793.43" stroke="#231815" stroke-width=".7"/>
<line x1="615.7" y1="791" x2="622.7" y2="791" stroke="#231815" stroke-width=".7"/>
<circle cx="613.2" cy="793.19" r="1.9"/>
<circle cx="619.2" cy="791.73" r="1.9"/>
<circle cx="625.2" cy="791.73" r="1.9"/>
<text x="616.2" y="835.91" font-size="7" text-anchor="middle" transform="rotate(-45 616.2 833.4)">shTREM2</text>
<line x1="641.55" y1="813.8" x2="641.55" y2="817.8" stroke="#231815" stroke-width=".9"/>
<line x1="641.55" y1="778.03" x2="641.55" y2="771.36" stroke="#231815" stroke-width=".7"/>
<line x1="638.05" y1="778.03" x2="645.05" y2="778.03" stroke="#231815" stroke-width=".7"/>
<line x1="638.05" y1="771.36" x2="645.05" y2="771.36" stroke="#231815" stroke-width=".7"/>
<path d="M638.55 771l2.18 3.8h-4.37z"/>
<path d="M644.55 771.6l2.18 3.8h-4.37z"/>
<path d="M641.55 775.48l2.18 3.8h-4.37z"/>
<text x="638.55" y="835.91" font-size="7" text-anchor="middle" transform="rotate(-45 638.55 833.4)">Scramble</text>
<text x="532.4" y="768.06" font-size="8" text-anchor="middle" textLength="61.7" lengthAdjust="spacingAndGlyphs" transform="rotate(-90 532.4 765.2)">Number of Cells</text>
<line x1="574.2" y1="723.2" x2="596.6" y2="723.2" stroke="#231815" stroke-width=".8"/>
<text x="585.4" y="722.66" font-size="8.3" text-anchor="middle" class="st">**</text>
<line x1="619.1" y1="759.4" x2="641.6" y2="759.4" stroke="#231815" stroke-width=".8"/>
<text x="630.35" y="758.86" font-size="8.3" text-anchor="middle" class="st">***</text>
<text x="534" y="838.02" font-size="7.6" text-anchor="middle">CM</text>
</g>
</svg>
</body></html>
